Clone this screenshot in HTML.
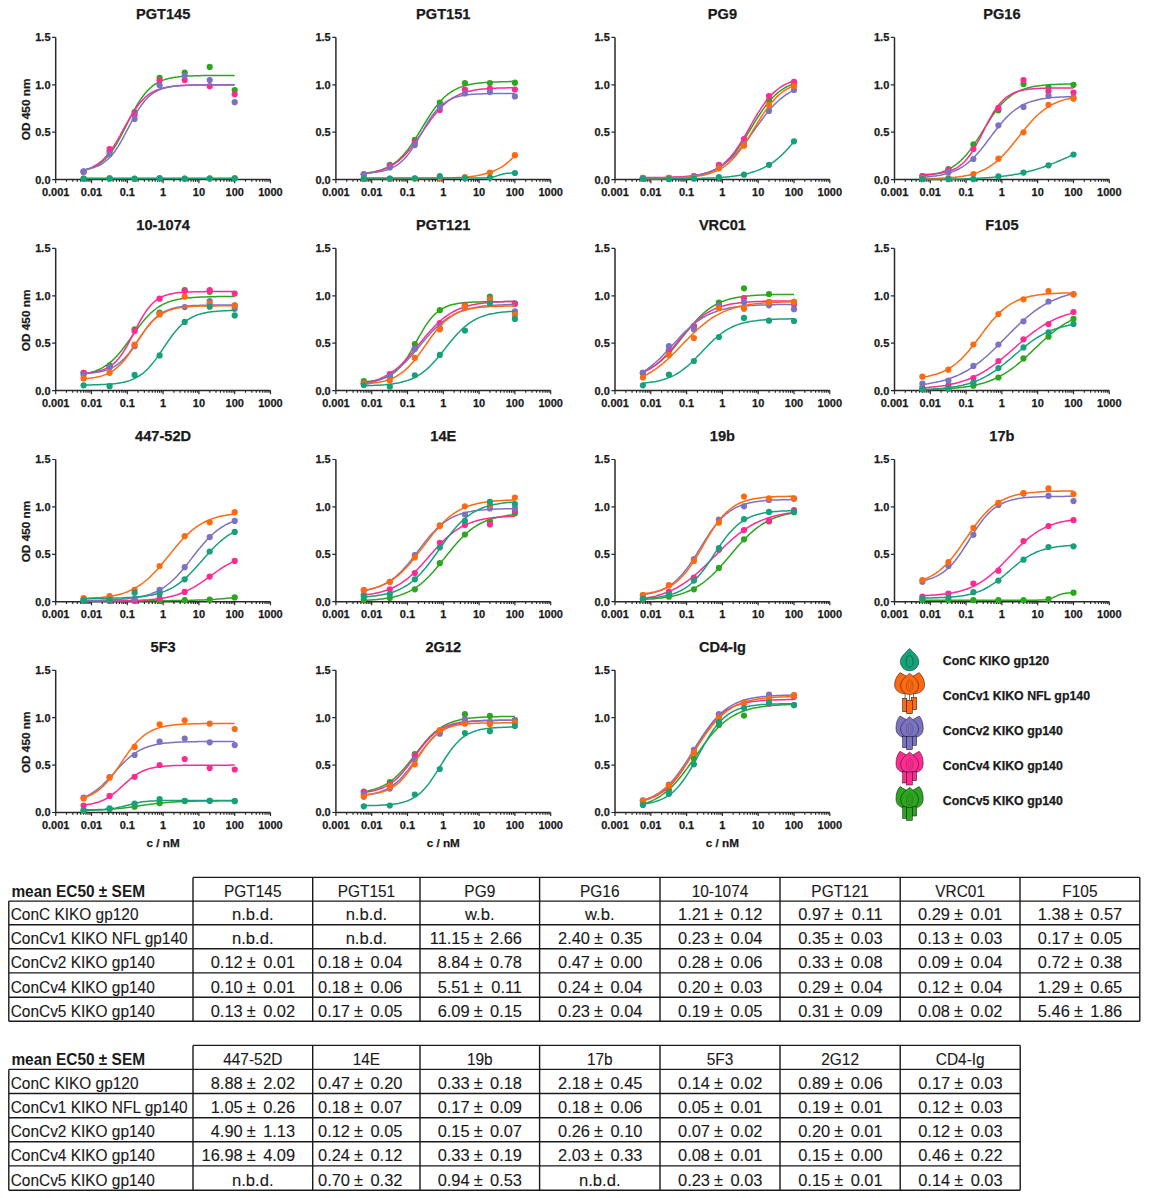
<!DOCTYPE html>
<html><head><meta charset="utf-8"><style>
html,body{margin:0;padding:0;background:#fff;}
svg{display:block;}
text{font-family:"Liberation Sans",sans-serif;fill:#1a1a1a;}
.tt{stroke:#1a1a1a;stroke-width:0.25px;font-size:14.6px;font-weight:bold;text-anchor:middle;}
.yl{stroke:#1a1a1a;stroke-width:0.25px;font-size:11px;font-weight:bold;text-anchor:end;}
.xl{stroke:#1a1a1a;stroke-width:0.25px;font-size:11px;font-weight:bold;text-anchor:middle;}
.od{stroke:#1a1a1a;stroke-width:0.25px;font-size:11.8px;font-weight:bold;text-anchor:middle;}
.cn{stroke:#1a1a1a;stroke-width:0.25px;font-size:11.7px;font-weight:bold;text-anchor:middle;}
.lg{stroke:#1a1a1a;stroke-width:0.25px;font-size:12.35px;font-weight:bold;}
.ax{fill:none;stroke:#2a2a2a;stroke-width:1.5;}
.tk{fill:none;stroke:#2a2a2a;stroke-width:1.2;}
.ln{fill:none;stroke-width:1.5;}
.tb{fill:none;stroke:#1a1a1a;stroke-width:1.4;}
.hb{font-size:16.6px;font-weight:bold;}
.tc{stroke:#1a1a1a;stroke-width:0.12px;font-size:16.6px;text-anchor:middle;}
.tl{stroke:#1a1a1a;stroke-width:0.12px;font-size:16.6px;}
.tr{stroke:#1a1a1a;stroke-width:0.12px;font-size:16.6px;text-anchor:end;}
.pm{stroke:#1a1a1a;stroke-width:0.12px;font-size:17.6px;text-anchor:middle;}
</style></head><body>
<svg width="1150" height="1198" viewBox="0 0 1150 1198">
<text x="163.1" y="19.1" class="tt">PGT145</text>
<path d="M55.7 37.4V179.6H270.5" class="ax"/>
<path d="M52.1 179.6H55.7M52.1 132.2H55.7M52.1 84.8H55.7M52.1 37.4H55.7M55.7 179.6v3.6M66.5 179.6v2.2M72.8 179.6v2.2M77.3 179.6v2.2M80.7 179.6v2.2M83.6 179.6v2.2M86.0 179.6v2.2M88.0 179.6v2.2M89.9 179.6v2.2M91.5 179.6v3.6M102.3 179.6v2.2M108.6 179.6v2.2M113.1 179.6v2.2M116.5 179.6v2.2M119.4 179.6v2.2M121.8 179.6v2.2M123.8 179.6v2.2M125.7 179.6v2.2M127.3 179.6v3.6M138.1 179.6v2.2M144.4 179.6v2.2M148.9 179.6v2.2M152.3 179.6v2.2M155.2 179.6v2.2M157.6 179.6v2.2M159.6 179.6v2.2M161.5 179.6v2.2M163.1 179.6v3.6M173.9 179.6v2.2M180.2 179.6v2.2M184.7 179.6v2.2M188.1 179.6v2.2M191.0 179.6v2.2M193.4 179.6v2.2M195.4 179.6v2.2M197.3 179.6v2.2M198.9 179.6v3.6M209.7 179.6v2.2M216.0 179.6v2.2M220.5 179.6v2.2M223.9 179.6v2.2M226.8 179.6v2.2M229.2 179.6v2.2M231.2 179.6v2.2M233.1 179.6v2.2M234.7 179.6v3.6M245.5 179.6v2.2M251.8 179.6v2.2M256.3 179.6v2.2M259.7 179.6v2.2M262.6 179.6v2.2M265.0 179.6v2.2M267.0 179.6v2.2M268.9 179.6v2.2M270.5 179.6v3.6" class="tk"/>
<text x="50.5" y="183.5" class="yl">0.0</text>
<text x="50.5" y="136.1" class="yl">0.5</text>
<text x="50.5" y="88.7" class="yl">1.0</text>
<text x="50.5" y="41.3" class="yl">1.5</text>
<text x="55.7" y="195.8" class="xl">0.001</text>
<text x="91.5" y="195.8" class="xl">0.01</text>
<text x="127.3" y="195.8" class="xl">0.1</text>
<text x="163.1" y="195.8" class="xl">1</text>
<text x="198.9" y="195.8" class="xl">10</text>
<text x="234.7" y="195.8" class="xl">100</text>
<text x="270.5" y="195.8" class="xl">1000</text>
<text transform="translate(29.7 109.4) rotate(-90)" class="od">OD 450 nm</text>
<polyline points="83.6,170.4 85.5,169.9 87.4,169.4 89.3,168.8 91.2,168.1 93.1,167.4 95.0,166.5 97.0,165.4 98.9,164.3 100.8,162.9 102.7,161.4 104.6,159.7 106.5,157.8 108.4,155.6 110.3,153.2 112.3,150.6 114.2,147.8 116.1,144.8 118.0,141.5 119.9,138.0 121.8,134.4 123.7,130.7 125.6,126.9 127.6,123.0 129.5,119.2 131.4,115.5 133.3,111.8 135.2,108.3 137.1,104.9 139.0,101.8 141.0,98.9 142.9,96.2 144.8,93.7 146.7,91.5 148.6,89.5 150.5,87.7 152.4,86.1 154.3,84.7 156.3,83.5 158.2,82.4 160.1,81.4 162.0,80.6 163.9,79.9 165.8,79.3 167.7,78.7 169.7,78.3 171.6,77.9 173.5,77.5 175.4,77.2 177.3,77.0 179.2,76.7 181.1,76.6 183.0,76.4 185.0,76.3 186.9,76.1 188.8,76.0 190.7,75.9 192.6,75.9 194.5,75.8 196.4,75.8 198.3,75.7 200.3,75.7 202.2,75.6 204.1,75.6 206.0,75.6 207.9,75.6 209.8,75.5 211.7,75.5 213.7,75.5 215.6,75.5 217.5,75.5 219.4,75.5 221.3,75.5 223.2,75.5 225.1,75.5 227.0,75.5 229.0,75.5 230.9,75.5 232.8,75.5 234.7,75.5" class="ln" stroke="#2ca51f"/>
<g fill="#2ca51f"><circle cx="83.6" cy="171.7" r="3.1"/><circle cx="109.6" cy="151.7" r="3.1"/><circle cx="134.6" cy="112.1" r="3.1"/><circle cx="159.6" cy="77.8" r="3.1"/><circle cx="184.7" cy="72.6" r="3.1"/><circle cx="209.7" cy="66.9" r="3.1"/><circle cx="234.7" cy="90.0" r="3.1"/></g>
<polyline points="83.6,170.2 85.5,169.7 87.4,169.1 89.3,168.4 91.2,167.6 93.1,166.7 95.0,165.7 97.0,164.5 98.9,163.2 100.8,161.7 102.7,160.0 104.6,158.1 106.5,156.0 108.4,153.7 110.3,151.2 112.3,148.4 114.2,145.5 116.1,142.4 118.0,139.1 119.9,135.8 121.8,132.3 123.7,128.8 125.6,125.3 127.6,121.8 129.5,118.5 131.4,115.2 133.3,112.1 135.2,109.2 137.1,106.5 139.0,104.0 141.0,101.8 142.9,99.7 144.8,97.8 146.7,96.2 148.6,94.7 150.5,93.4 152.4,92.2 154.3,91.2 156.3,90.3 158.2,89.6 160.1,88.9 162.0,88.3 163.9,87.8 165.8,87.4 167.7,87.0 169.7,86.7 171.6,86.4 173.5,86.2 175.4,86.0 177.3,85.8 179.2,85.7 181.1,85.5 183.0,85.4 185.0,85.3 186.9,85.3 188.8,85.2 190.7,85.1 192.6,85.1 194.5,85.0 196.4,85.0 198.3,85.0 200.3,84.9 202.2,84.9 204.1,84.9 206.0,84.9 207.9,84.9 209.8,84.9 211.7,84.9 213.7,84.8 215.6,84.8 217.5,84.8 219.4,84.8 221.3,84.8 223.2,84.8 225.1,84.8 227.0,84.8 229.0,84.8 230.9,84.8 232.8,84.8 234.7,84.8" class="ln" stroke="#ff2a92"/>
<g fill="#ff2a92"><circle cx="83.6" cy="171.7" r="3.1"/><circle cx="109.6" cy="149.1" r="3.1"/><circle cx="134.6" cy="114.7" r="3.1"/><circle cx="159.6" cy="80.4" r="3.1"/><circle cx="184.7" cy="80.1" r="3.1"/><circle cx="209.7" cy="86.2" r="3.1"/><circle cx="234.7" cy="94.3" r="3.1"/></g>
<polyline points="83.6,169.7 85.5,169.5 87.4,169.1 89.3,168.7 91.2,168.3 93.1,167.7 95.0,167.1 97.0,166.4 98.9,165.5 100.8,164.5 102.7,163.3 104.6,162.0 106.5,160.5 108.4,158.8 110.3,156.8 112.3,154.6 114.2,152.2 116.1,149.5 118.0,146.6 119.9,143.5 121.8,140.1 123.7,136.6 125.6,133.0 127.6,129.3 129.5,125.6 131.4,122.0 133.3,118.4 135.2,114.9 137.1,111.7 139.0,108.6 141.0,105.8 142.9,103.2 144.8,100.8 146.7,98.7 148.6,96.8 150.5,95.2 152.4,93.7 154.3,92.4 156.3,91.3 158.2,90.4 160.1,89.5 162.0,88.8 163.9,88.2 165.8,87.7 167.7,87.3 169.7,86.9 171.6,86.6 173.5,86.3 175.4,86.1 177.3,85.9 179.2,85.7 181.1,85.6 183.0,85.5 185.0,85.4 186.9,85.3 188.8,85.2 190.7,85.2 192.6,85.1 194.5,85.1 196.4,85.0 198.3,85.0 200.3,85.0 202.2,85.0 204.1,85.0 206.0,84.9 207.9,84.9 209.8,84.9 211.7,84.9 213.7,84.9 215.6,84.9 217.5,84.9 219.4,84.9 221.3,84.9 223.2,84.9 225.1,84.9 227.0,84.9 229.0,84.9 230.9,84.9 232.8,84.9 234.7,84.9" class="ln" stroke="#7b73c2"/>
<g fill="#7b73c2"><circle cx="83.6" cy="171.7" r="3.1"/><circle cx="109.6" cy="154.3" r="3.1"/><circle cx="134.6" cy="119.0" r="3.1"/><circle cx="159.6" cy="85.3" r="3.1"/><circle cx="184.7" cy="75.6" r="3.1"/><circle cx="209.7" cy="80.1" r="3.1"/><circle cx="234.7" cy="102.2" r="3.1"/></g>
<polyline points="83.6,178.3 85.5,178.3 87.4,178.3 89.3,178.3 91.2,178.3 93.1,178.3 95.0,178.3 97.0,178.3 98.9,178.3 100.8,178.3 102.7,178.3 104.6,178.3 106.5,178.3 108.4,178.3 110.3,178.3 112.3,178.3 114.2,178.3 116.1,178.3 118.0,178.3 119.9,178.3 121.8,178.3 123.7,178.3 125.6,178.3 127.6,178.3 129.5,178.3 131.4,178.3 133.3,178.3 135.2,178.3 137.1,178.3 139.0,178.3 141.0,178.3 142.9,178.3 144.8,178.3 146.7,178.3 148.6,178.3 150.5,178.3 152.4,178.3 154.3,178.3 156.3,178.3 158.2,178.3 160.1,178.3 162.0,178.3 163.9,178.3 165.8,178.3 167.7,178.3 169.7,178.3 171.6,178.3 173.5,178.3 175.4,178.3 177.3,178.3 179.2,178.3 181.1,178.3 183.0,178.3 185.0,178.3 186.9,178.3 188.8,178.3 190.7,178.3 192.6,178.3 194.5,178.3 196.4,178.3 198.3,178.3 200.3,178.3 202.2,178.3 204.1,178.3 206.0,178.3 207.9,178.3 209.8,178.3 211.7,178.3 213.7,178.3 215.6,178.3 217.5,178.3 219.4,178.3 221.3,178.3 223.2,178.3 225.1,178.3 227.0,178.3 229.0,178.3 230.9,178.3 232.8,178.3 234.7,178.3" class="ln" stroke="#ff6a10"/>
<g fill="#ff6a10"><circle cx="83.6" cy="178.5" r="3.1"/><circle cx="109.6" cy="178.0" r="3.1"/><circle cx="134.6" cy="178.9" r="3.1"/><circle cx="159.6" cy="178.2" r="3.1"/><circle cx="184.7" cy="178.7" r="3.1"/><circle cx="209.7" cy="178.3" r="3.1"/><circle cx="234.7" cy="178.0" r="3.1"/></g>
<polyline points="83.6,178.5 85.5,178.5 87.4,178.5 89.3,178.5 91.2,178.5 93.1,178.5 95.0,178.5 97.0,178.5 98.9,178.5 100.8,178.5 102.7,178.5 104.6,178.5 106.5,178.5 108.4,178.5 110.3,178.5 112.3,178.5 114.2,178.5 116.1,178.5 118.0,178.5 119.9,178.5 121.8,178.5 123.7,178.5 125.6,178.5 127.6,178.5 129.5,178.5 131.4,178.5 133.3,178.5 135.2,178.5 137.1,178.5 139.0,178.5 141.0,178.5 142.9,178.5 144.8,178.5 146.7,178.5 148.6,178.5 150.5,178.5 152.4,178.5 154.3,178.5 156.3,178.5 158.2,178.5 160.1,178.5 162.0,178.5 163.9,178.5 165.8,178.5 167.7,178.5 169.7,178.5 171.6,178.5 173.5,178.5 175.4,178.5 177.3,178.5 179.2,178.5 181.1,178.5 183.0,178.5 185.0,178.5 186.9,178.5 188.8,178.5 190.7,178.5 192.6,178.5 194.5,178.5 196.4,178.5 198.3,178.5 200.3,178.5 202.2,178.5 204.1,178.5 206.0,178.5 207.9,178.5 209.8,178.5 211.7,178.5 213.7,178.5 215.6,178.5 217.5,178.5 219.4,178.5 221.3,178.5 223.2,178.5 225.1,178.5 227.0,178.5 229.0,178.5 230.9,178.5 232.8,178.5 234.7,178.5" class="ln" stroke="#16a07c" stroke-width="2.3"/>
<g fill="#16a07c"><circle cx="83.6" cy="178.7" r="3.1"/><circle cx="109.6" cy="178.7" r="3.1"/><circle cx="134.6" cy="178.7" r="3.1"/><circle cx="159.6" cy="178.3" r="3.1"/><circle cx="184.7" cy="178.7" r="3.1"/><circle cx="209.7" cy="178.5" r="3.1"/><circle cx="234.7" cy="178.5" r="3.1"/></g>
<text x="443.3" y="19.1" class="tt">PGT151</text>
<path d="M335.9 37.4V179.6H550.7" class="ax"/>
<path d="M332.3 179.6H335.9M332.3 132.2H335.9M332.3 84.8H335.9M332.3 37.4H335.9M335.9 179.6v3.6M346.7 179.6v2.2M353.0 179.6v2.2M357.5 179.6v2.2M360.9 179.6v2.2M363.8 179.6v2.2M366.2 179.6v2.2M368.2 179.6v2.2M370.1 179.6v2.2M371.7 179.6v3.6M382.5 179.6v2.2M388.8 179.6v2.2M393.3 179.6v2.2M396.7 179.6v2.2M399.6 179.6v2.2M402.0 179.6v2.2M404.0 179.6v2.2M405.9 179.6v2.2M407.5 179.6v3.6M418.3 179.6v2.2M424.6 179.6v2.2M429.1 179.6v2.2M432.5 179.6v2.2M435.4 179.6v2.2M437.8 179.6v2.2M439.8 179.6v2.2M441.7 179.6v2.2M443.3 179.6v3.6M454.1 179.6v2.2M460.4 179.6v2.2M464.9 179.6v2.2M468.3 179.6v2.2M471.2 179.6v2.2M473.6 179.6v2.2M475.6 179.6v2.2M477.5 179.6v2.2M479.1 179.6v3.6M489.9 179.6v2.2M496.2 179.6v2.2M500.7 179.6v2.2M504.1 179.6v2.2M507.0 179.6v2.2M509.4 179.6v2.2M511.4 179.6v2.2M513.3 179.6v2.2M514.9 179.6v3.6M525.7 179.6v2.2M532.0 179.6v2.2M536.5 179.6v2.2M539.9 179.6v2.2M542.8 179.6v2.2M545.2 179.6v2.2M547.2 179.6v2.2M549.1 179.6v2.2M550.7 179.6v3.6" class="tk"/>
<text x="330.7" y="183.5" class="yl">0.0</text>
<text x="330.7" y="136.1" class="yl">0.5</text>
<text x="330.7" y="88.7" class="yl">1.0</text>
<text x="330.7" y="41.3" class="yl">1.5</text>
<text x="335.9" y="195.8" class="xl">0.001</text>
<text x="371.7" y="195.8" class="xl">0.01</text>
<text x="407.5" y="195.8" class="xl">0.1</text>
<text x="443.3" y="195.8" class="xl">1</text>
<text x="479.1" y="195.8" class="xl">10</text>
<text x="514.9" y="195.8" class="xl">100</text>
<text x="550.7" y="195.8" class="xl">1000</text>
<polyline points="363.8,173.4 365.7,173.2 367.6,172.9 369.5,172.6 371.4,172.3 373.3,172.0 375.2,171.6 377.2,171.1 379.1,170.6 381.0,170.0 382.9,169.3 384.8,168.5 386.7,167.7 388.6,166.7 390.5,165.7 392.5,164.5 394.4,163.2 396.3,161.7 398.2,160.1 400.1,158.3 402.0,156.4 403.9,154.3 405.8,152.1 407.8,149.7 409.7,147.1 411.6,144.4 413.5,141.6 415.4,138.6 417.3,135.6 419.2,132.5 421.2,129.3 423.1,126.2 425.0,123.0 426.9,120.0 428.8,116.9 430.7,114.0 432.6,111.2 434.5,108.5 436.5,106.0 438.4,103.7 440.3,101.4 442.2,99.4 444.1,97.5 446.0,95.8 447.9,94.2 449.9,92.8 451.8,91.5 453.7,90.4 455.6,89.4 457.5,88.4 459.4,87.6 461.3,86.9 463.2,86.2 465.2,85.6 467.1,85.1 469.0,84.7 470.9,84.3 472.8,83.9 474.7,83.6 476.6,83.4 478.5,83.1 480.5,82.9 482.4,82.7 484.3,82.6 486.2,82.4 488.1,82.3 490.0,82.2 491.9,82.1 493.9,82.0 495.8,81.9 497.7,81.9 499.6,81.8 501.5,81.8 503.4,81.7 505.3,81.7 507.2,81.7 509.2,81.6 511.1,81.6 513.0,81.6 514.9,81.6" class="ln" stroke="#2ca51f"/>
<g fill="#2ca51f"><circle cx="363.8" cy="174.3" r="3.1"/><circle cx="389.8" cy="164.8" r="3.1"/><circle cx="414.8" cy="139.9" r="3.1"/><circle cx="439.8" cy="102.7" r="3.1"/><circle cx="464.9" cy="83.0" r="3.1"/><circle cx="489.9" cy="83.0" r="3.1"/><circle cx="514.9" cy="82.7" r="3.1"/></g>
<polyline points="363.8,173.6 365.7,173.4 367.6,173.1 369.5,172.9 371.4,172.5 373.3,172.2 375.2,171.8 377.2,171.3 379.1,170.8 381.0,170.2 382.9,169.6 384.8,168.9 386.7,168.1 388.6,167.2 390.5,166.2 392.5,165.1 394.4,163.9 396.3,162.5 398.2,161.1 400.1,159.5 402.0,157.7 403.9,155.9 405.8,153.9 407.8,151.7 409.7,149.5 411.6,147.1 413.5,144.6 415.4,141.9 417.3,139.3 419.2,136.5 421.2,133.7 423.1,130.9 425.0,128.1 426.9,125.3 428.8,122.6 430.7,119.9 432.6,117.4 434.5,114.9 436.5,112.5 438.4,110.3 440.3,108.2 442.2,106.2 444.1,104.4 446.0,102.7 447.9,101.2 449.9,99.8 451.8,98.5 453.7,97.3 455.6,96.3 457.5,95.3 459.4,94.4 461.3,93.7 463.2,93.0 465.2,92.3 467.1,91.8 469.0,91.3 470.9,90.9 472.8,90.5 474.7,90.1 476.6,89.8 478.5,89.5 480.5,89.3 482.4,89.1 484.3,88.9 486.2,88.7 488.1,88.6 490.0,88.5 491.9,88.4 493.9,88.3 495.8,88.2 497.7,88.1 499.6,88.0 501.5,88.0 503.4,87.9 505.3,87.9 507.2,87.8 509.2,87.8 511.1,87.7 513.0,87.7 514.9,87.7" class="ln" stroke="#ff2a92"/>
<g fill="#ff2a92"><circle cx="363.8" cy="174.3" r="3.1"/><circle cx="389.8" cy="165.7" r="3.1"/><circle cx="414.8" cy="142.7" r="3.1"/><circle cx="439.8" cy="110.0" r="3.1"/><circle cx="464.9" cy="89.5" r="3.1"/><circle cx="489.9" cy="88.6" r="3.1"/><circle cx="514.9" cy="89.5" r="3.1"/></g>
<polyline points="363.8,173.2 365.7,173.1 367.6,173.0 369.5,172.9 371.4,172.7 373.3,172.5 375.2,172.3 377.2,172.0 379.1,171.8 381.0,171.4 382.9,171.0 384.8,170.5 386.7,170.0 388.6,169.3 390.5,168.6 392.5,167.7 394.4,166.7 396.3,165.6 398.2,164.3 400.1,162.8 402.0,161.1 403.9,159.2 405.8,157.2 407.8,154.9 409.7,152.4 411.6,149.6 413.5,146.8 415.4,143.7 417.3,140.5 419.2,137.2 421.2,133.9 423.1,130.5 425.0,127.2 426.9,124.0 428.8,120.9 430.7,118.0 432.6,115.3 434.5,112.7 436.5,110.4 438.4,108.3 440.3,106.3 442.2,104.6 444.1,103.1 446.0,101.8 447.9,100.6 449.9,99.6 451.8,98.7 453.7,97.9 455.6,97.3 457.5,96.7 459.4,96.2 461.3,95.8 463.2,95.4 465.2,95.1 467.1,94.9 469.0,94.6 470.9,94.5 472.8,94.3 474.7,94.2 476.6,94.0 478.5,93.9 480.5,93.9 482.4,93.8 484.3,93.7 486.2,93.7 488.1,93.6 490.0,93.6 491.9,93.6 493.9,93.5 495.8,93.5 497.7,93.5 499.6,93.5 501.5,93.5 503.4,93.5 505.3,93.4 507.2,93.4 509.2,93.4 511.1,93.4 513.0,93.4 514.9,93.4" class="ln" stroke="#7b73c2"/>
<g fill="#7b73c2"><circle cx="363.8" cy="174.3" r="3.1"/><circle cx="389.8" cy="167.4" r="3.1"/><circle cx="414.8" cy="145.1" r="3.1"/><circle cx="439.8" cy="106.9" r="3.1"/><circle cx="464.9" cy="93.5" r="3.1"/><circle cx="489.9" cy="92.1" r="3.1"/><circle cx="514.9" cy="96.4" r="3.1"/></g>
<polyline points="363.8,178.6 365.7,178.6 367.6,178.6 369.5,178.6 371.4,178.6 373.3,178.6 375.2,178.6 377.2,178.6 379.1,178.6 381.0,178.6 382.9,178.6 384.8,178.6 386.7,178.6 388.6,178.6 390.5,178.6 392.5,178.6 394.4,178.6 396.3,178.6 398.2,178.6 400.1,178.6 402.0,178.5 403.9,178.5 405.8,178.5 407.8,178.5 409.7,178.5 411.6,178.5 413.5,178.5 415.4,178.5 417.3,178.5 419.2,178.5 421.2,178.5 423.1,178.5 425.0,178.4 426.9,178.4 428.8,178.4 430.7,178.4 432.6,178.3 434.5,178.3 436.5,178.3 438.4,178.3 440.3,178.2 442.2,178.2 444.1,178.1 446.0,178.1 447.9,178.0 449.9,177.9 451.8,177.9 453.7,177.8 455.6,177.7 457.5,177.6 459.4,177.5 461.3,177.4 463.2,177.2 465.2,177.1 467.1,176.9 469.0,176.7 470.9,176.5 472.8,176.2 474.7,176.0 476.6,175.7 478.5,175.3 480.5,175.0 482.4,174.6 484.3,174.1 486.2,173.6 488.1,173.1 490.0,172.4 491.9,171.7 493.9,171.0 495.8,170.1 497.7,169.2 499.6,168.2 501.5,167.1 503.4,165.8 505.3,164.4 507.2,162.9 509.2,161.2 511.1,159.4 513.0,157.4 514.9,155.2" class="ln" stroke="#ff6a10"/>
<g fill="#ff6a10"><circle cx="363.8" cy="178.7" r="3.1"/><circle cx="389.8" cy="178.7" r="3.1"/><circle cx="414.8" cy="178.7" r="3.1"/><circle cx="439.8" cy="177.8" r="3.1"/><circle cx="464.9" cy="177.0" r="3.1"/><circle cx="489.9" cy="172.6" r="3.1"/><circle cx="514.9" cy="155.2" r="3.1"/></g>
<polyline points="363.8,178.0 365.7,178.0 367.6,178.0 369.5,178.0 371.4,178.0 373.3,178.0 375.2,178.0 377.2,178.0 379.1,178.0 381.0,178.0 382.9,178.0 384.8,178.0 386.7,178.0 388.6,178.0 390.5,178.0 392.5,178.0 394.4,178.0 396.3,178.0 398.2,178.0 400.1,178.0 402.0,178.0 403.9,178.0 405.8,178.0 407.8,178.0 409.7,178.0 411.6,178.0 413.5,178.0 415.4,178.0 417.3,178.0 419.2,178.0 421.2,178.0 423.1,178.0 425.0,178.0 426.9,178.0 428.8,178.0 430.7,178.0 432.6,178.0 434.5,178.0 436.5,178.0 438.4,178.0 440.3,178.0 442.2,178.0 444.1,178.0 446.0,178.0 447.9,178.0 449.9,178.0 451.8,178.0 453.7,178.0 455.6,178.0 457.5,178.0 459.4,178.0 461.3,178.0 463.2,178.0 465.2,178.0 467.1,178.0 469.0,178.0 470.9,178.0 472.8,178.0 474.7,178.0 476.6,178.0 478.5,178.0 480.5,178.0 482.4,177.9 484.3,177.9 486.2,177.8 488.1,177.7 490.0,177.5 491.9,177.2 493.9,176.7 495.8,176.2 497.7,175.6 499.6,175.0 501.5,174.4 503.4,173.9 505.3,173.6 507.2,173.3 509.2,173.2 511.1,173.1 513.0,173.0 514.9,173.0" class="ln" stroke="#16a07c"/>
<g fill="#16a07c"><circle cx="363.8" cy="178.7" r="3.1"/><circle cx="389.8" cy="178.7" r="3.1"/><circle cx="414.8" cy="178.3" r="3.1"/><circle cx="439.8" cy="176.1" r="3.1"/><circle cx="464.9" cy="178.3" r="3.1"/><circle cx="489.9" cy="177.5" r="3.1"/><circle cx="514.9" cy="173.0" r="3.1"/></g>
<text x="722.4" y="19.1" class="tt">PG9</text>
<path d="M615.0 37.4V179.6H829.8" class="ax"/>
<path d="M611.4 179.6H615.0M611.4 132.2H615.0M611.4 84.8H615.0M611.4 37.4H615.0M615.0 179.6v3.6M625.8 179.6v2.2M632.1 179.6v2.2M636.6 179.6v2.2M640.0 179.6v2.2M642.9 179.6v2.2M645.3 179.6v2.2M647.3 179.6v2.2M649.2 179.6v2.2M650.8 179.6v3.6M661.6 179.6v2.2M667.9 179.6v2.2M672.4 179.6v2.2M675.8 179.6v2.2M678.7 179.6v2.2M681.1 179.6v2.2M683.1 179.6v2.2M685.0 179.6v2.2M686.6 179.6v3.6M697.4 179.6v2.2M703.7 179.6v2.2M708.2 179.6v2.2M711.6 179.6v2.2M714.5 179.6v2.2M716.9 179.6v2.2M718.9 179.6v2.2M720.8 179.6v2.2M722.4 179.6v3.6M733.2 179.6v2.2M739.5 179.6v2.2M744.0 179.6v2.2M747.4 179.6v2.2M750.3 179.6v2.2M752.7 179.6v2.2M754.7 179.6v2.2M756.6 179.6v2.2M758.2 179.6v3.6M769.0 179.6v2.2M775.3 179.6v2.2M779.8 179.6v2.2M783.2 179.6v2.2M786.1 179.6v2.2M788.5 179.6v2.2M790.5 179.6v2.2M792.4 179.6v2.2M794.0 179.6v3.6M804.8 179.6v2.2M811.1 179.6v2.2M815.6 179.6v2.2M819.0 179.6v2.2M821.9 179.6v2.2M824.3 179.6v2.2M826.3 179.6v2.2M828.2 179.6v2.2M829.8 179.6v3.6" class="tk"/>
<text x="609.8" y="183.5" class="yl">0.0</text>
<text x="609.8" y="136.1" class="yl">0.5</text>
<text x="609.8" y="88.7" class="yl">1.0</text>
<text x="609.8" y="41.3" class="yl">1.5</text>
<text x="615.0" y="195.8" class="xl">0.001</text>
<text x="650.8" y="195.8" class="xl">0.01</text>
<text x="686.6" y="195.8" class="xl">0.1</text>
<text x="722.4" y="195.8" class="xl">1</text>
<text x="758.2" y="195.8" class="xl">10</text>
<text x="794.0" y="195.8" class="xl">100</text>
<text x="829.8" y="195.8" class="xl">1000</text>
<polyline points="642.9,177.9 644.8,177.9 646.7,177.9 648.6,177.9 650.5,177.9 652.4,177.9 654.3,177.8 656.3,177.8 658.2,177.8 660.1,177.8 662.0,177.7 663.9,177.7 665.8,177.7 667.7,177.6 669.6,177.6 671.6,177.5 673.5,177.4 675.4,177.4 677.3,177.3 679.2,177.2 681.1,177.1 683.0,176.9 684.9,176.8 686.9,176.6 688.8,176.5 690.7,176.3 692.6,176.0 694.5,175.8 696.4,175.5 698.3,175.1 700.3,174.8 702.2,174.3 704.1,173.8 706.0,173.3 707.9,172.7 709.8,172.0 711.7,171.3 713.6,170.4 715.6,169.5 717.5,168.4 719.4,167.3 721.3,166.0 723.2,164.6 725.1,163.0 727.0,161.3 729.0,159.5 730.9,157.5 732.8,155.3 734.7,153.0 736.6,150.6 738.5,147.9 740.4,145.2 742.3,142.3 744.3,139.4 746.2,136.3 748.1,133.2 750.0,130.0 751.9,126.9 753.8,123.7 755.7,120.6 757.6,117.5 759.6,114.5 761.5,111.6 763.4,108.9 765.3,106.2 767.2,103.7 769.1,101.4 771.0,99.2 773.0,97.2 774.9,95.3 776.8,93.6 778.7,92.0 780.6,90.6 782.5,89.3 784.4,88.1 786.3,87.0 788.3,86.1 790.2,85.2 792.1,84.4 794.0,83.7" class="ln" stroke="#2ca51f"/>
<g fill="#2ca51f"><circle cx="642.9" cy="178.2" r="3.1"/><circle cx="668.9" cy="177.8" r="3.1"/><circle cx="693.9" cy="176.4" r="3.1"/><circle cx="718.9" cy="165.7" r="3.1"/><circle cx="744.0" cy="141.3" r="3.1"/><circle cx="769.0" cy="100.4" r="3.1"/><circle cx="794.0" cy="84.3" r="3.1"/></g>
<polyline points="642.9,177.5 644.8,177.5 646.7,177.5 648.6,177.5 650.5,177.5 652.4,177.5 654.3,177.5 656.3,177.5 658.2,177.4 660.1,177.4 662.0,177.4 663.9,177.4 665.8,177.3 667.7,177.3 669.6,177.2 671.6,177.2 673.5,177.1 675.4,177.0 677.3,177.0 679.2,176.9 681.1,176.8 683.0,176.7 684.9,176.5 686.9,176.4 688.8,176.2 690.7,176.0 692.6,175.8 694.5,175.5 696.4,175.2 698.3,174.9 700.3,174.5 702.2,174.1 704.1,173.6 706.0,173.1 707.9,172.5 709.8,171.8 711.7,171.0 713.6,170.1 715.6,169.2 717.5,168.1 719.4,166.9 721.3,165.5 723.2,164.0 725.1,162.4 727.0,160.5 729.0,158.6 730.9,156.4 732.8,154.1 734.7,151.6 736.6,149.0 738.5,146.1 740.4,143.2 742.3,140.1 744.3,136.9 746.2,133.6 748.1,130.3 750.0,126.9 751.9,123.5 753.8,120.2 755.7,116.9 757.6,113.7 759.6,110.7 761.5,107.7 763.4,104.9 765.3,102.3 767.2,99.8 769.1,97.5 771.0,95.4 773.0,93.4 774.9,91.6 776.8,90.0 778.7,88.5 780.6,87.2 782.5,86.0 784.4,84.9 786.3,83.9 788.3,83.1 790.2,82.3 792.1,81.6 794.0,81.0" class="ln" stroke="#ff2a92"/>
<g fill="#ff2a92"><circle cx="642.9" cy="177.8" r="3.1"/><circle cx="668.9" cy="177.8" r="3.1"/><circle cx="693.9" cy="176.1" r="3.1"/><circle cx="718.9" cy="164.8" r="3.1"/><circle cx="744.0" cy="139.2" r="3.1"/><circle cx="769.0" cy="96.1" r="3.1"/><circle cx="794.0" cy="81.8" r="3.1"/></g>
<polyline points="642.9,178.8 644.8,178.8 646.7,178.8 648.6,178.8 650.5,178.7 652.4,178.7 654.3,178.7 656.3,178.6 658.2,178.6 660.1,178.5 662.0,178.5 663.9,178.4 665.8,178.4 667.7,178.3 669.6,178.2 671.6,178.1 673.5,178.0 675.4,177.9 677.3,177.8 679.2,177.7 681.1,177.5 683.0,177.3 684.9,177.2 686.9,177.0 688.8,176.7 690.7,176.5 692.6,176.2 694.5,175.9 696.4,175.5 698.3,175.1 700.3,174.7 702.2,174.3 704.1,173.7 706.0,173.2 707.9,172.5 709.8,171.9 711.7,171.1 713.6,170.3 715.6,169.4 717.5,168.4 719.4,167.3 721.3,166.1 723.2,164.8 725.1,163.5 727.0,162.0 729.0,160.4 730.9,158.7 732.8,156.9 734.7,155.0 736.6,152.9 738.5,150.8 740.4,148.5 742.3,146.2 744.3,143.8 746.2,141.3 748.1,138.7 750.0,136.1 751.9,133.4 753.8,130.7 755.7,128.1 757.6,125.4 759.6,122.8 761.5,120.2 763.4,117.6 765.3,115.1 767.2,112.7 769.1,110.4 771.0,108.2 773.0,106.1 774.9,104.1 776.8,102.2 778.7,100.5 780.6,98.8 782.5,97.3 784.4,95.8 786.3,94.5 788.3,93.3 790.2,92.1 792.1,91.1 794.0,90.1" class="ln" stroke="#7b73c2"/>
<g fill="#7b73c2"><circle cx="642.9" cy="178.2" r="3.1"/><circle cx="668.9" cy="178.2" r="3.1"/><circle cx="693.9" cy="177.0" r="3.1"/><circle cx="718.9" cy="167.4" r="3.1"/><circle cx="744.0" cy="143.9" r="3.1"/><circle cx="769.0" cy="110.9" r="3.1"/><circle cx="794.0" cy="90.0" r="3.1"/></g>
<polyline points="642.9,178.3 644.8,178.3 646.7,178.3 648.6,178.3 650.5,178.3 652.4,178.2 654.3,178.2 656.3,178.2 658.2,178.2 660.1,178.2 662.0,178.1 663.9,178.1 665.8,178.1 667.7,178.0 669.6,178.0 671.6,178.0 673.5,177.9 675.4,177.8 677.3,177.8 679.2,177.7 681.1,177.6 683.0,177.5 684.9,177.4 686.9,177.3 688.8,177.1 690.7,177.0 692.6,176.8 694.5,176.6 696.4,176.3 698.3,176.0 700.3,175.7 702.2,175.4 704.1,175.0 706.0,174.5 707.9,174.0 709.8,173.5 711.7,172.8 713.6,172.1 715.6,171.3 717.5,170.5 719.4,169.5 721.3,168.4 723.2,167.2 725.1,165.8 727.0,164.3 729.0,162.7 730.9,161.0 732.8,159.0 734.7,157.0 736.6,154.7 738.5,152.3 740.4,149.8 742.3,147.1 744.3,144.3 746.2,141.4 748.1,138.4 750.0,135.3 751.9,132.1 753.8,128.9 755.7,125.8 757.6,122.6 759.6,119.5 761.5,116.5 763.4,113.6 765.3,110.8 767.2,108.1 769.1,105.5 771.0,103.1 773.0,100.9 774.9,98.8 776.8,96.9 778.7,95.1 780.6,93.5 782.5,92.0 784.4,90.7 786.3,89.5 788.3,88.4 790.2,87.4 792.1,86.5 794.0,85.7" class="ln" stroke="#ff6a10"/>
<g fill="#ff6a10"><circle cx="642.9" cy="178.2" r="3.1"/><circle cx="668.9" cy="178.2" r="3.1"/><circle cx="693.9" cy="177.5" r="3.1"/><circle cx="718.9" cy="168.3" r="3.1"/><circle cx="744.0" cy="145.7" r="3.1"/><circle cx="769.0" cy="105.1" r="3.1"/><circle cx="794.0" cy="86.0" r="3.1"/></g>
<polyline points="642.9,178.9 644.8,178.9 646.7,178.9 648.6,178.9 650.5,178.9 652.4,178.9 654.3,178.9 656.3,178.9 658.2,178.9 660.1,178.9 662.0,178.9 663.9,178.9 665.8,178.8 667.7,178.8 669.6,178.8 671.6,178.8 673.5,178.8 675.4,178.8 677.3,178.8 679.2,178.7 681.1,178.7 683.0,178.7 684.9,178.7 686.9,178.7 688.8,178.6 690.7,178.6 692.6,178.6 694.5,178.5 696.4,178.5 698.3,178.4 700.3,178.4 702.2,178.3 704.1,178.3 706.0,178.2 707.9,178.1 709.8,178.0 711.7,178.0 713.6,177.9 715.6,177.8 717.5,177.6 719.4,177.5 721.3,177.4 723.2,177.2 725.1,177.1 727.0,176.9 729.0,176.7 730.9,176.5 732.8,176.2 734.7,176.0 736.6,175.7 738.5,175.4 740.4,175.1 742.3,174.7 744.3,174.3 746.2,173.9 748.1,173.4 750.0,172.9 751.9,172.3 753.8,171.7 755.7,171.1 757.6,170.4 759.6,169.6 761.5,168.8 763.4,167.9 765.3,166.9 767.2,165.9 769.1,164.8 771.0,163.6 773.0,162.3 774.9,160.9 776.8,159.4 778.7,157.8 780.6,156.1 782.5,154.3 784.4,152.4 786.3,150.4 788.3,148.3 790.2,146.1 792.1,143.7 794.0,141.3" class="ln" stroke="#16a07c"/>
<g fill="#16a07c"><circle cx="642.9" cy="178.7" r="3.1"/><circle cx="668.9" cy="179.2" r="3.1"/><circle cx="693.9" cy="178.7" r="3.1"/><circle cx="718.9" cy="177.0" r="3.1"/><circle cx="744.0" cy="174.7" r="3.1"/><circle cx="769.0" cy="164.8" r="3.1"/><circle cx="794.0" cy="141.3" r="3.1"/></g>
<text x="1001.9" y="19.1" class="tt">PG16</text>
<path d="M894.5 37.4V179.6H1109.3" class="ax"/>
<path d="M890.9 179.6H894.5M890.9 132.2H894.5M890.9 84.8H894.5M890.9 37.4H894.5M894.5 179.6v3.6M905.3 179.6v2.2M911.6 179.6v2.2M916.1 179.6v2.2M919.5 179.6v2.2M922.4 179.6v2.2M924.8 179.6v2.2M926.8 179.6v2.2M928.7 179.6v2.2M930.3 179.6v3.6M941.1 179.6v2.2M947.4 179.6v2.2M951.9 179.6v2.2M955.3 179.6v2.2M958.2 179.6v2.2M960.6 179.6v2.2M962.6 179.6v2.2M964.5 179.6v2.2M966.1 179.6v3.6M976.9 179.6v2.2M983.2 179.6v2.2M987.7 179.6v2.2M991.1 179.6v2.2M994.0 179.6v2.2M996.4 179.6v2.2M998.4 179.6v2.2M1000.3 179.6v2.2M1001.9 179.6v3.6M1012.7 179.6v2.2M1019.0 179.6v2.2M1023.5 179.6v2.2M1026.9 179.6v2.2M1029.8 179.6v2.2M1032.2 179.6v2.2M1034.2 179.6v2.2M1036.1 179.6v2.2M1037.7 179.6v3.6M1048.5 179.6v2.2M1054.8 179.6v2.2M1059.3 179.6v2.2M1062.7 179.6v2.2M1065.6 179.6v2.2M1068.0 179.6v2.2M1070.0 179.6v2.2M1071.9 179.6v2.2M1073.5 179.6v3.6M1084.3 179.6v2.2M1090.6 179.6v2.2M1095.1 179.6v2.2M1098.5 179.6v2.2M1101.4 179.6v2.2M1103.8 179.6v2.2M1105.8 179.6v2.2M1107.7 179.6v2.2M1109.3 179.6v3.6" class="tk"/>
<text x="889.3" y="183.5" class="yl">0.0</text>
<text x="889.3" y="136.1" class="yl">0.5</text>
<text x="889.3" y="88.7" class="yl">1.0</text>
<text x="889.3" y="41.3" class="yl">1.5</text>
<text x="894.5" y="195.8" class="xl">0.001</text>
<text x="930.3" y="195.8" class="xl">0.01</text>
<text x="966.1" y="195.8" class="xl">0.1</text>
<text x="1001.9" y="195.8" class="xl">1</text>
<text x="1037.7" y="195.8" class="xl">10</text>
<text x="1073.5" y="195.8" class="xl">100</text>
<text x="1109.3" y="195.8" class="xl">1000</text>
<polyline points="922.4,175.7 924.3,175.5 926.2,175.3 928.1,175.0 930.0,174.7 931.9,174.4 933.8,174.0 935.8,173.6 937.7,173.2 939.6,172.7 941.5,172.1 943.4,171.4 945.3,170.7 947.2,169.8 949.1,168.9 951.1,167.8 953.0,166.7 954.9,165.4 956.8,164.0 958.7,162.4 960.6,160.7 962.5,158.9 964.4,156.9 966.4,154.7 968.3,152.4 970.2,149.9 972.1,147.3 974.0,144.6 975.9,141.7 977.8,138.8 979.8,135.8 981.7,132.7 983.6,129.6 985.5,126.6 987.4,123.5 989.3,120.5 991.2,117.6 993.1,114.8 995.1,112.2 997.0,109.6 998.9,107.2 1000.8,105.0 1002.7,102.9 1004.6,101.0 1006.5,99.2 1008.5,97.6 1010.4,96.1 1012.3,94.7 1014.2,93.5 1016.1,92.4 1018.0,91.5 1019.9,90.6 1021.8,89.8 1023.8,89.1 1025.7,88.5 1027.6,87.9 1029.5,87.4 1031.4,87.0 1033.3,86.6 1035.2,86.3 1037.1,86.0 1039.1,85.7 1041.0,85.5 1042.9,85.2 1044.8,85.1 1046.7,84.9 1048.6,84.8 1050.5,84.6 1052.5,84.5 1054.4,84.4 1056.3,84.4 1058.2,84.3 1060.1,84.2 1062.0,84.2 1063.9,84.1 1065.8,84.1 1067.8,84.0 1069.7,84.0 1071.6,84.0 1073.5,83.9" class="ln" stroke="#2ca51f"/>
<g fill="#2ca51f"><circle cx="922.4" cy="176.1" r="3.1"/><circle cx="948.4" cy="169.1" r="3.1"/><circle cx="973.4" cy="144.4" r="3.1"/><circle cx="998.4" cy="110.3" r="3.1"/><circle cx="1023.5" cy="83.9" r="3.1"/><circle cx="1048.5" cy="87.4" r="3.1"/><circle cx="1073.5" cy="84.8" r="3.1"/></g>
<polyline points="922.4,174.5 924.3,174.5 926.2,174.4 928.1,174.3 930.0,174.2 931.9,174.1 933.8,173.9 935.8,173.8 937.7,173.5 939.6,173.3 941.5,173.0 943.4,172.6 945.3,172.2 947.2,171.8 949.1,171.2 951.1,170.5 953.0,169.7 954.9,168.8 956.8,167.8 958.7,166.5 960.6,165.1 962.5,163.5 964.4,161.7 966.4,159.6 968.3,157.3 970.2,154.7 972.1,151.8 974.0,148.8 975.9,145.5 977.8,142.0 979.8,138.4 981.7,134.6 983.6,130.8 985.5,127.0 987.4,123.3 989.3,119.7 991.2,116.3 993.1,113.0 995.1,110.0 997.0,107.3 998.9,104.8 1000.8,102.5 1002.7,100.5 1004.6,98.7 1006.5,97.2 1008.5,95.8 1010.4,94.6 1012.3,93.6 1014.2,92.8 1016.1,92.0 1018.0,91.4 1019.9,90.8 1021.8,90.4 1023.8,90.0 1025.7,89.6 1027.6,89.4 1029.5,89.1 1031.4,88.9 1033.3,88.7 1035.2,88.6 1037.1,88.5 1039.1,88.4 1041.0,88.3 1042.9,88.2 1044.8,88.2 1046.7,88.1 1048.6,88.1 1050.5,88.0 1052.5,88.0 1054.4,88.0 1056.3,88.0 1058.2,87.9 1060.1,87.9 1062.0,87.9 1063.9,87.9 1065.8,87.9 1067.8,87.9 1069.7,87.9 1071.6,87.9 1073.5,87.9" class="ln" stroke="#ff2a92"/>
<g fill="#ff2a92"><circle cx="922.4" cy="176.1" r="3.1"/><circle cx="948.4" cy="170.0" r="3.1"/><circle cx="973.4" cy="149.1" r="3.1"/><circle cx="998.4" cy="107.9" r="3.1"/><circle cx="1023.5" cy="80.1" r="3.1"/><circle cx="1048.5" cy="91.2" r="3.1"/><circle cx="1073.5" cy="92.6" r="3.1"/></g>
<polyline points="922.4,177.1 924.3,177.0 926.2,176.9 928.1,176.7 930.0,176.5 931.9,176.3 933.8,176.1 935.8,175.9 937.7,175.6 939.6,175.3 941.5,174.9 943.4,174.5 945.3,174.0 947.2,173.5 949.1,173.0 951.1,172.3 953.0,171.6 954.9,170.8 956.8,170.0 958.7,169.0 960.6,167.9 962.5,166.8 964.4,165.5 966.4,164.1 968.3,162.6 970.2,160.9 972.1,159.2 974.0,157.3 975.9,155.3 977.8,153.2 979.8,151.0 981.7,148.6 983.6,146.2 985.5,143.8 987.4,141.2 989.3,138.7 991.2,136.1 993.1,133.5 995.1,131.0 997.0,128.5 998.9,126.1 1000.8,123.8 1002.7,121.5 1004.6,119.4 1006.5,117.4 1008.5,115.5 1010.4,113.7 1012.3,112.0 1014.2,110.5 1016.1,109.1 1018.0,107.8 1019.9,106.6 1021.8,105.5 1023.8,104.5 1025.7,103.6 1027.6,102.8 1029.5,102.1 1031.4,101.5 1033.3,100.9 1035.2,100.4 1037.1,99.9 1039.1,99.5 1041.0,99.1 1042.9,98.8 1044.8,98.5 1046.7,98.2 1048.6,98.0 1050.5,97.8 1052.5,97.6 1054.4,97.5 1056.3,97.3 1058.2,97.2 1060.1,97.1 1062.0,97.0 1063.9,96.9 1065.8,96.8 1067.8,96.8 1069.7,96.7 1071.6,96.6 1073.5,96.6" class="ln" stroke="#7b73c2"/>
<g fill="#7b73c2"><circle cx="922.4" cy="177.5" r="3.1"/><circle cx="948.4" cy="172.3" r="3.1"/><circle cx="973.4" cy="159.0" r="3.1"/><circle cx="998.4" cy="125.3" r="3.1"/><circle cx="1023.5" cy="106.9" r="3.1"/><circle cx="1048.5" cy="95.7" r="3.1"/><circle cx="1073.5" cy="97.5" r="3.1"/></g>
<polyline points="922.4,178.8 924.3,178.7 926.2,178.7 928.1,178.7 930.0,178.6 931.9,178.6 933.8,178.5 935.8,178.5 937.7,178.4 939.6,178.3 941.5,178.2 943.4,178.1 945.3,178.0 947.2,177.9 949.1,177.8 951.1,177.6 953.0,177.4 954.9,177.3 956.8,177.0 958.7,176.8 960.6,176.5 962.5,176.3 964.4,175.9 966.4,175.6 968.3,175.2 970.2,174.7 972.1,174.2 974.0,173.7 975.9,173.1 977.8,172.4 979.8,171.6 981.7,170.8 983.6,169.9 985.5,169.0 987.4,167.9 989.3,166.7 991.2,165.5 993.1,164.1 995.1,162.6 997.0,161.1 998.9,159.4 1000.8,157.6 1002.7,155.7 1004.6,153.7 1006.5,151.6 1008.5,149.4 1010.4,147.1 1012.3,144.8 1014.2,142.5 1016.1,140.0 1018.0,137.6 1019.9,135.2 1021.8,132.8 1023.8,130.4 1025.7,128.0 1027.6,125.7 1029.5,123.5 1031.4,121.4 1033.3,119.3 1035.2,117.3 1037.1,115.5 1039.1,113.7 1041.0,112.1 1042.9,110.5 1044.8,109.1 1046.7,107.8 1048.6,106.6 1050.5,105.4 1052.5,104.4 1054.4,103.5 1056.3,102.6 1058.2,101.8 1060.1,101.1 1062.0,100.4 1063.9,99.9 1065.8,99.3 1067.8,98.9 1069.7,98.4 1071.6,98.0 1073.5,97.7" class="ln" stroke="#ff6a10"/>
<g fill="#ff6a10"><circle cx="922.4" cy="178.7" r="3.1"/><circle cx="948.4" cy="178.2" r="3.1"/><circle cx="973.4" cy="174.0" r="3.1"/><circle cx="998.4" cy="158.7" r="3.1"/><circle cx="1023.5" cy="132.3" r="3.1"/><circle cx="1048.5" cy="104.8" r="3.1"/><circle cx="1073.5" cy="98.7" r="3.1"/></g>
<polyline points="922.4,179.6 924.3,179.5 926.2,179.5 928.1,179.5 930.0,179.5 931.9,179.5 933.8,179.5 935.8,179.4 937.7,179.4 939.6,179.4 941.5,179.4 943.4,179.3 945.3,179.3 947.2,179.3 949.1,179.2 951.1,179.2 953.0,179.2 954.9,179.1 956.8,179.1 958.7,179.0 960.6,179.0 962.5,178.9 964.4,178.9 966.4,178.8 968.3,178.7 970.2,178.6 972.1,178.6 974.0,178.5 975.9,178.4 977.8,178.3 979.8,178.2 981.7,178.1 983.6,178.0 985.5,177.8 987.4,177.7 989.3,177.6 991.2,177.4 993.1,177.2 995.1,177.1 997.0,176.9 998.9,176.7 1000.8,176.5 1002.7,176.2 1004.6,176.0 1006.5,175.8 1008.5,175.5 1010.4,175.2 1012.3,174.9 1014.2,174.6 1016.1,174.2 1018.0,173.9 1019.9,173.5 1021.8,173.1 1023.8,172.7 1025.7,172.2 1027.6,171.8 1029.5,171.3 1031.4,170.8 1033.3,170.2 1035.2,169.7 1037.1,169.1 1039.1,168.5 1041.0,167.9 1042.9,167.2 1044.8,166.5 1046.7,165.8 1048.6,165.1 1050.5,164.4 1052.5,163.6 1054.4,162.9 1056.3,162.1 1058.2,161.3 1060.1,160.5 1062.0,159.6 1063.9,158.8 1065.8,158.0 1067.8,157.1 1069.7,156.3 1071.6,155.4 1073.5,154.5" class="ln" stroke="#16a07c"/>
<g fill="#16a07c"><circle cx="922.4" cy="179.2" r="3.1"/><circle cx="948.4" cy="179.2" r="3.1"/><circle cx="973.4" cy="179.2" r="3.1"/><circle cx="998.4" cy="176.4" r="3.1"/><circle cx="1023.5" cy="172.6" r="3.1"/><circle cx="1048.5" cy="165.3" r="3.1"/><circle cx="1073.5" cy="154.5" r="3.1"/></g>
<text x="163.1" y="230.1" class="tt">10-1074</text>
<path d="M55.7 248.4V390.6H270.5" class="ax"/>
<path d="M52.1 390.6H55.7M52.1 343.2H55.7M52.1 295.8H55.7M52.1 248.4H55.7M55.7 390.6v3.6M66.5 390.6v2.2M72.8 390.6v2.2M77.3 390.6v2.2M80.7 390.6v2.2M83.6 390.6v2.2M86.0 390.6v2.2M88.0 390.6v2.2M89.9 390.6v2.2M91.5 390.6v3.6M102.3 390.6v2.2M108.6 390.6v2.2M113.1 390.6v2.2M116.5 390.6v2.2M119.4 390.6v2.2M121.8 390.6v2.2M123.8 390.6v2.2M125.7 390.6v2.2M127.3 390.6v3.6M138.1 390.6v2.2M144.4 390.6v2.2M148.9 390.6v2.2M152.3 390.6v2.2M155.2 390.6v2.2M157.6 390.6v2.2M159.6 390.6v2.2M161.5 390.6v2.2M163.1 390.6v3.6M173.9 390.6v2.2M180.2 390.6v2.2M184.7 390.6v2.2M188.1 390.6v2.2M191.0 390.6v2.2M193.4 390.6v2.2M195.4 390.6v2.2M197.3 390.6v2.2M198.9 390.6v3.6M209.7 390.6v2.2M216.0 390.6v2.2M220.5 390.6v2.2M223.9 390.6v2.2M226.8 390.6v2.2M229.2 390.6v2.2M231.2 390.6v2.2M233.1 390.6v2.2M234.7 390.6v3.6M245.5 390.6v2.2M251.8 390.6v2.2M256.3 390.6v2.2M259.7 390.6v2.2M262.6 390.6v2.2M265.0 390.6v2.2M267.0 390.6v2.2M268.9 390.6v2.2M270.5 390.6v3.6" class="tk"/>
<text x="50.5" y="394.5" class="yl">0.0</text>
<text x="50.5" y="347.1" class="yl">0.5</text>
<text x="50.5" y="299.7" class="yl">1.0</text>
<text x="50.5" y="252.3" class="yl">1.5</text>
<text x="55.7" y="406.8" class="xl">0.001</text>
<text x="91.5" y="406.8" class="xl">0.01</text>
<text x="127.3" y="406.8" class="xl">0.1</text>
<text x="163.1" y="406.8" class="xl">1</text>
<text x="198.9" y="406.8" class="xl">10</text>
<text x="234.7" y="406.8" class="xl">100</text>
<text x="270.5" y="406.8" class="xl">1000</text>
<text transform="translate(29.7 320.4) rotate(-90)" class="od">OD 450 nm</text>
<polyline points="83.6,374.0 85.5,373.7 87.4,373.3 89.3,372.8 91.2,372.3 93.1,371.7 95.0,371.1 97.0,370.3 98.9,369.5 100.8,368.6 102.7,367.6 104.6,366.4 106.5,365.2 108.4,363.8 110.3,362.2 112.3,360.6 114.2,358.8 116.1,356.8 118.0,354.7 119.9,352.5 121.8,350.2 123.7,347.7 125.6,345.2 127.6,342.5 129.5,339.9 131.4,337.1 133.3,334.4 135.2,331.7 137.1,329.1 139.0,326.5 141.0,324.0 142.9,321.6 144.8,319.3 146.7,317.2 148.6,315.2 150.5,313.3 152.4,311.6 154.3,310.0 156.3,308.5 158.2,307.2 160.1,306.0 162.0,304.9 163.9,303.9 165.8,303.1 167.7,302.3 169.7,301.6 171.6,301.0 173.5,300.4 175.4,300.0 177.3,299.5 179.2,299.2 181.1,298.8 183.0,298.5 185.0,298.3 186.9,298.0 188.8,297.8 190.7,297.7 192.6,297.5 194.5,297.4 196.4,297.3 198.3,297.2 200.3,297.1 202.2,297.0 204.1,296.9 206.0,296.9 207.9,296.8 209.8,296.8 211.7,296.7 213.7,296.7 215.6,296.7 217.5,296.6 219.4,296.6 221.3,296.6 223.2,296.6 225.1,296.6 227.0,296.6 229.0,296.5 230.9,296.5 232.8,296.5 234.7,296.5" class="ln" stroke="#2ca51f"/>
<g fill="#2ca51f"><circle cx="83.6" cy="372.8" r="3.1"/><circle cx="109.6" cy="365.3" r="3.1"/><circle cx="134.6" cy="329.3" r="3.1"/><circle cx="159.6" cy="312.7" r="3.1"/><circle cx="184.7" cy="290.0" r="3.1"/><circle cx="209.7" cy="291.8" r="3.1"/><circle cx="234.7" cy="305.3" r="3.1"/></g>
<polyline points="83.6,373.2 85.5,373.0 87.4,372.9 89.3,372.7 91.2,372.5 93.1,372.2 95.0,371.9 97.0,371.5 98.9,371.1 100.8,370.6 102.7,369.9 104.6,369.2 106.5,368.3 108.4,367.3 110.3,366.1 112.3,364.7 114.2,363.1 116.1,361.3 118.0,359.2 119.9,356.9 121.8,354.3 123.7,351.4 125.6,348.3 127.6,344.9 129.5,341.4 131.4,337.7 133.3,334.0 135.2,330.2 137.1,326.5 139.0,322.8 141.0,319.4 142.9,316.1 144.8,313.1 146.7,310.3 148.6,307.7 150.5,305.5 152.4,303.5 154.3,301.7 156.3,300.2 158.2,298.9 160.1,297.7 162.0,296.8 163.9,295.9 165.8,295.2 167.7,294.7 169.7,294.1 171.6,293.7 173.5,293.4 175.4,293.1 177.3,292.8 179.2,292.6 181.1,292.4 183.0,292.3 185.0,292.2 186.9,292.1 188.8,292.0 190.7,291.9 192.6,291.9 194.5,291.8 196.4,291.8 198.3,291.7 200.3,291.7 202.2,291.7 204.1,291.7 206.0,291.6 207.9,291.6 209.8,291.6 211.7,291.6 213.7,291.6 215.6,291.6 217.5,291.6 219.4,291.6 221.3,291.6 223.2,291.6 225.1,291.6 227.0,291.6 229.0,291.6 230.9,291.6 232.8,291.6 234.7,291.6" class="ln" stroke="#ff2a92"/>
<g fill="#ff2a92"><circle cx="83.6" cy="372.8" r="3.1"/><circle cx="109.6" cy="367.1" r="3.1"/><circle cx="134.6" cy="331.1" r="3.1"/><circle cx="159.6" cy="298.7" r="3.1"/><circle cx="184.7" cy="291.1" r="3.1"/><circle cx="209.7" cy="290.2" r="3.1"/><circle cx="234.7" cy="293.5" r="3.1"/></g>
<polyline points="83.6,373.6 85.5,373.5 87.4,373.4 89.3,373.3 91.2,373.1 93.1,372.9 95.0,372.6 97.0,372.3 98.9,372.0 100.8,371.6 102.7,371.2 104.6,370.7 106.5,370.1 108.4,369.4 110.3,368.6 112.3,367.7 114.2,366.6 116.1,365.4 118.0,364.1 119.9,362.6 121.8,360.9 123.7,359.0 125.6,357.0 127.6,354.7 129.5,352.4 131.4,349.8 133.3,347.2 135.2,344.4 137.1,341.6 139.0,338.8 141.0,335.9 142.9,333.1 144.8,330.4 146.7,327.9 148.6,325.4 150.5,323.1 152.4,321.0 154.3,319.1 156.3,317.3 158.2,315.7 160.1,314.3 162.0,313.1 163.9,312.0 165.8,311.0 167.7,310.2 169.7,309.4 171.6,308.8 173.5,308.2 175.4,307.8 177.3,307.3 179.2,307.0 181.1,306.7 183.0,306.4 185.0,306.2 186.9,306.0 188.8,305.9 190.7,305.7 192.6,305.6 194.5,305.5 196.4,305.4 198.3,305.4 200.3,305.3 202.2,305.3 204.1,305.2 206.0,305.2 207.9,305.1 209.8,305.1 211.7,305.1 213.7,305.1 215.6,305.1 217.5,305.0 219.4,305.0 221.3,305.0 223.2,305.0 225.1,305.0 227.0,305.0 229.0,305.0 230.9,305.0 232.8,305.0 234.7,305.0" class="ln" stroke="#7b73c2"/>
<g fill="#7b73c2"><circle cx="83.6" cy="374.9" r="3.1"/><circle cx="109.6" cy="367.1" r="3.1"/><circle cx="134.6" cy="346.2" r="3.1"/><circle cx="159.6" cy="313.7" r="3.1"/><circle cx="184.7" cy="307.1" r="3.1"/><circle cx="209.7" cy="301.0" r="3.1"/><circle cx="234.7" cy="308.8" r="3.1"/></g>
<polyline points="83.6,378.8 85.5,378.7 87.4,378.5 89.3,378.3 91.2,378.1 93.1,377.8 95.0,377.5 97.0,377.1 98.9,376.7 100.8,376.2 102.7,375.6 104.6,374.9 106.5,374.2 108.4,373.3 110.3,372.3 112.3,371.2 114.2,369.9 116.1,368.4 118.0,366.8 119.9,365.0 121.8,363.1 123.7,360.9 125.6,358.6 127.6,356.1 129.5,353.4 131.4,350.7 133.3,347.8 135.2,344.9 137.1,341.9 139.0,339.0 141.0,336.1 142.9,333.3 144.8,330.6 146.7,328.0 148.6,325.6 150.5,323.4 152.4,321.3 154.3,319.4 156.3,317.7 158.2,316.2 160.1,314.9 162.0,313.7 163.9,312.6 165.8,311.7 167.7,310.9 169.7,310.1 171.6,309.5 173.5,309.0 175.4,308.5 177.3,308.1 179.2,307.8 181.1,307.5 183.0,307.2 185.0,307.0 186.9,306.8 188.8,306.7 190.7,306.5 192.6,306.4 194.5,306.3 196.4,306.2 198.3,306.2 200.3,306.1 202.2,306.1 204.1,306.0 206.0,306.0 207.9,305.9 209.8,305.9 211.7,305.9 213.7,305.9 215.6,305.9 217.5,305.8 219.4,305.8 221.3,305.8 223.2,305.8 225.1,305.8 227.0,305.8 229.0,305.8 230.9,305.8 232.8,305.8 234.7,305.8" class="ln" stroke="#ff6a10"/>
<g fill="#ff6a10"><circle cx="83.6" cy="378.4" r="3.1"/><circle cx="109.6" cy="372.8" r="3.1"/><circle cx="134.6" cy="344.5" r="3.1"/><circle cx="159.6" cy="314.4" r="3.1"/><circle cx="184.7" cy="296.7" r="3.1"/><circle cx="209.7" cy="303.6" r="3.1"/><circle cx="234.7" cy="305.7" r="3.1"/></g>
<polyline points="83.6,385.0 85.5,384.9 87.4,384.9 89.3,384.9 91.2,384.9 93.1,384.8 95.0,384.8 97.0,384.7 98.9,384.7 100.8,384.6 102.7,384.5 104.6,384.4 106.5,384.3 108.4,384.2 110.3,384.1 112.3,383.9 114.2,383.7 116.1,383.5 118.0,383.2 119.9,382.9 121.8,382.6 123.7,382.2 125.6,381.7 127.6,381.2 129.5,380.6 131.4,379.9 133.3,379.1 135.2,378.2 137.1,377.2 139.0,376.0 141.0,374.7 142.9,373.3 144.8,371.7 146.7,369.9 148.6,367.9 150.5,365.8 152.4,363.6 154.3,361.1 156.3,358.6 158.2,355.9 160.1,353.1 162.0,350.3 163.9,347.4 165.8,344.6 167.7,341.8 169.7,339.0 171.6,336.3 173.5,333.8 175.4,331.4 177.3,329.2 179.2,327.1 181.1,325.2 183.0,323.4 185.0,321.8 186.9,320.4 188.8,319.1 190.7,318.0 192.6,317.0 194.5,316.1 196.4,315.3 198.3,314.6 200.3,314.0 202.2,313.5 204.1,313.1 206.0,312.7 207.9,312.3 209.8,312.0 211.7,311.8 213.7,311.6 215.6,311.4 217.5,311.2 219.4,311.1 221.3,310.9 223.2,310.8 225.1,310.8 227.0,310.7 229.0,310.6 230.9,310.6 232.8,310.5 234.7,310.5" class="ln" stroke="#16a07c"/>
<g fill="#16a07c"><circle cx="83.6" cy="385.3" r="3.1"/><circle cx="109.6" cy="386.2" r="3.1"/><circle cx="134.6" cy="374.9" r="3.1"/><circle cx="159.6" cy="355.4" r="3.1"/><circle cx="184.7" cy="321.9" r="3.1"/><circle cx="209.7" cy="306.7" r="3.1"/><circle cx="234.7" cy="315.4" r="3.1"/></g>
<text x="443.3" y="230.1" class="tt">PGT121</text>
<path d="M335.9 248.4V390.6H550.7" class="ax"/>
<path d="M332.3 390.6H335.9M332.3 343.2H335.9M332.3 295.8H335.9M332.3 248.4H335.9M335.9 390.6v3.6M346.7 390.6v2.2M353.0 390.6v2.2M357.5 390.6v2.2M360.9 390.6v2.2M363.8 390.6v2.2M366.2 390.6v2.2M368.2 390.6v2.2M370.1 390.6v2.2M371.7 390.6v3.6M382.5 390.6v2.2M388.8 390.6v2.2M393.3 390.6v2.2M396.7 390.6v2.2M399.6 390.6v2.2M402.0 390.6v2.2M404.0 390.6v2.2M405.9 390.6v2.2M407.5 390.6v3.6M418.3 390.6v2.2M424.6 390.6v2.2M429.1 390.6v2.2M432.5 390.6v2.2M435.4 390.6v2.2M437.8 390.6v2.2M439.8 390.6v2.2M441.7 390.6v2.2M443.3 390.6v3.6M454.1 390.6v2.2M460.4 390.6v2.2M464.9 390.6v2.2M468.3 390.6v2.2M471.2 390.6v2.2M473.6 390.6v2.2M475.6 390.6v2.2M477.5 390.6v2.2M479.1 390.6v3.6M489.9 390.6v2.2M496.2 390.6v2.2M500.7 390.6v2.2M504.1 390.6v2.2M507.0 390.6v2.2M509.4 390.6v2.2M511.4 390.6v2.2M513.3 390.6v2.2M514.9 390.6v3.6M525.7 390.6v2.2M532.0 390.6v2.2M536.5 390.6v2.2M539.9 390.6v2.2M542.8 390.6v2.2M545.2 390.6v2.2M547.2 390.6v2.2M549.1 390.6v2.2M550.7 390.6v3.6" class="tk"/>
<text x="330.7" y="394.5" class="yl">0.0</text>
<text x="330.7" y="347.1" class="yl">0.5</text>
<text x="330.7" y="299.7" class="yl">1.0</text>
<text x="330.7" y="252.3" class="yl">1.5</text>
<text x="335.9" y="406.8" class="xl">0.001</text>
<text x="371.7" y="406.8" class="xl">0.01</text>
<text x="407.5" y="406.8" class="xl">0.1</text>
<text x="443.3" y="406.8" class="xl">1</text>
<text x="479.1" y="406.8" class="xl">10</text>
<text x="514.9" y="406.8" class="xl">100</text>
<text x="550.7" y="406.8" class="xl">1000</text>
<polyline points="363.8,381.8 365.7,381.7 367.6,381.5 369.5,381.3 371.4,381.1 373.3,380.8 375.2,380.5 377.2,380.1 379.1,379.7 381.0,379.2 382.9,378.6 384.8,377.9 386.7,377.1 388.6,376.2 390.5,375.1 392.5,373.9 394.4,372.5 396.3,370.9 398.2,369.0 400.1,367.0 402.0,364.7 403.9,362.2 405.8,359.5 407.8,356.6 409.7,353.4 411.6,350.2 413.5,346.8 415.4,343.3 417.3,339.9 419.2,336.4 421.2,333.1 423.1,329.8 425.0,326.7 426.9,323.9 428.8,321.2 430.7,318.8 432.6,316.6 434.5,314.6 436.5,312.8 438.4,311.3 440.3,309.9 442.2,308.7 444.1,307.7 446.0,306.8 447.9,306.0 449.9,305.3 451.8,304.8 453.7,304.3 455.6,303.9 457.5,303.5 459.4,303.2 461.3,303.0 463.2,302.8 465.2,302.6 467.1,302.4 469.0,302.3 470.9,302.2 472.8,302.1 474.7,302.0 476.6,302.0 478.5,301.9 480.5,301.9 482.4,301.8 484.3,301.8 486.2,301.8 488.1,301.7 490.0,301.7 491.9,301.7 493.9,301.7 495.8,301.7 497.7,301.7 499.6,301.7 501.5,301.7 503.4,301.7 505.3,301.6 507.2,301.6 509.2,301.6 511.1,301.6 513.0,301.6 514.9,301.6" class="ln" stroke="#2ca51f"/>
<g fill="#2ca51f"><circle cx="363.8" cy="381.0" r="3.1"/><circle cx="389.8" cy="376.7" r="3.1"/><circle cx="414.8" cy="344.0" r="3.1"/><circle cx="439.8" cy="310.2" r="3.1"/><circle cx="464.9" cy="306.2" r="3.1"/><circle cx="489.9" cy="296.7" r="3.1"/><circle cx="514.9" cy="303.3" r="3.1"/></g>
<polyline points="363.8,383.4 365.7,383.0 367.6,382.6 369.5,382.1 371.4,381.6 373.3,381.1 375.2,380.5 377.2,379.8 379.1,379.1 381.0,378.3 382.9,377.4 384.8,376.4 386.7,375.4 388.6,374.2 390.5,373.0 392.5,371.7 394.4,370.3 396.3,368.8 398.2,367.2 400.1,365.5 402.0,363.7 403.9,361.8 405.8,359.8 407.8,357.7 409.7,355.6 411.6,353.4 413.5,351.1 415.4,348.8 417.3,346.5 419.2,344.1 421.2,341.8 423.1,339.4 425.0,337.1 426.9,334.8 428.8,332.6 430.7,330.5 432.6,328.4 434.5,326.4 436.5,324.5 438.4,322.6 440.3,320.9 442.2,319.3 444.1,317.7 446.0,316.3 447.9,315.0 449.9,313.7 451.8,312.6 453.7,311.5 455.6,310.5 457.5,309.6 459.4,308.8 461.3,308.1 463.2,307.4 465.2,306.8 467.1,306.2 469.0,305.7 470.9,305.2 472.8,304.8 474.7,304.4 476.6,304.0 478.5,303.7 480.5,303.4 482.4,303.2 484.3,303.0 486.2,302.8 488.1,302.6 490.0,302.4 491.9,302.2 493.9,302.1 495.8,302.0 497.7,301.9 499.6,301.8 501.5,301.7 503.4,301.6 505.3,301.5 507.2,301.5 509.2,301.4 511.1,301.4 513.0,301.3 514.9,301.3" class="ln" stroke="#ff2a92"/>
<g fill="#ff2a92"><circle cx="363.8" cy="383.3" r="3.1"/><circle cx="389.8" cy="374.0" r="3.1"/><circle cx="414.8" cy="348.5" r="3.1"/><circle cx="439.8" cy="323.1" r="3.1"/><circle cx="464.9" cy="305.3" r="3.1"/><circle cx="489.9" cy="300.1" r="3.1"/><circle cx="514.9" cy="304.0" r="3.1"/></g>
<polyline points="363.8,384.3 365.7,383.9 367.6,383.5 369.5,383.1 371.4,382.6 373.3,382.1 375.2,381.5 377.2,380.8 379.1,380.1 381.0,379.4 382.9,378.5 384.8,377.6 386.7,376.6 388.6,375.5 390.5,374.3 392.5,373.1 394.4,371.7 396.3,370.3 398.2,368.7 400.1,367.1 402.0,365.3 403.9,363.5 405.8,361.6 407.8,359.6 409.7,357.5 411.6,355.4 413.5,353.2 415.4,350.9 417.3,348.7 419.2,346.4 421.2,344.1 423.1,341.8 425.0,339.6 426.9,337.3 428.8,335.2 430.7,333.1 432.6,331.0 434.5,329.1 436.5,327.2 438.4,325.4 440.3,323.7 442.2,322.1 444.1,320.6 446.0,319.2 447.9,317.9 449.9,316.7 451.8,315.6 453.7,314.5 455.6,313.6 457.5,312.7 459.4,311.9 461.3,311.1 463.2,310.5 465.2,309.8 467.1,309.3 469.0,308.8 470.9,308.3 472.8,307.9 474.7,307.5 476.6,307.2 478.5,306.9 480.5,306.6 482.4,306.3 484.3,306.1 486.2,305.9 488.1,305.7 490.0,305.6 491.9,305.4 493.9,305.3 495.8,305.2 497.7,305.1 499.6,305.0 501.5,304.9 503.4,304.8 505.3,304.7 507.2,304.7 509.2,304.6 511.1,304.5 513.0,304.5 514.9,304.5" class="ln" stroke="#7b73c2"/>
<g fill="#7b73c2"><circle cx="363.8" cy="383.6" r="3.1"/><circle cx="389.8" cy="376.7" r="3.1"/><circle cx="414.8" cy="348.8" r="3.1"/><circle cx="439.8" cy="328.0" r="3.1"/><circle cx="464.9" cy="308.0" r="3.1"/><circle cx="489.9" cy="298.4" r="3.1"/><circle cx="514.9" cy="311.4" r="3.1"/></g>
<polyline points="363.8,383.9 365.7,383.8 367.6,383.7 369.5,383.5 371.4,383.3 373.3,383.1 375.2,382.8 377.2,382.5 379.1,382.2 381.0,381.8 382.9,381.4 384.8,380.9 386.7,380.3 388.6,379.7 390.5,379.0 392.5,378.2 394.4,377.3 396.3,376.3 398.2,375.2 400.1,373.9 402.0,372.6 403.9,371.1 405.8,369.4 407.8,367.6 409.7,365.7 411.6,363.6 413.5,361.4 415.4,359.0 417.3,356.6 419.2,354.0 421.2,351.4 423.1,348.7 425.0,345.9 426.9,343.2 428.8,340.5 430.7,337.8 432.6,335.2 434.5,332.7 436.5,330.3 438.4,328.0 440.3,325.9 442.2,323.9 444.1,322.0 446.0,320.3 447.9,318.8 449.9,317.3 451.8,316.0 453.7,314.9 455.6,313.8 457.5,312.9 459.4,312.1 461.3,311.3 463.2,310.7 465.2,310.1 467.1,309.6 469.0,309.1 470.9,308.7 472.8,308.4 474.7,308.0 476.6,307.8 478.5,307.5 480.5,307.3 482.4,307.1 484.3,307.0 486.2,306.8 488.1,306.7 490.0,306.6 491.9,306.5 493.9,306.4 495.8,306.4 497.7,306.3 499.6,306.3 501.5,306.2 503.4,306.2 505.3,306.1 507.2,306.1 509.2,306.1 511.1,306.1 513.0,306.0 514.9,306.0" class="ln" stroke="#ff6a10"/>
<g fill="#ff6a10"><circle cx="363.8" cy="383.6" r="3.1"/><circle cx="389.8" cy="380.5" r="3.1"/><circle cx="414.8" cy="357.9" r="3.1"/><circle cx="439.8" cy="329.3" r="3.1"/><circle cx="464.9" cy="306.7" r="3.1"/><circle cx="489.9" cy="299.3" r="3.1"/><circle cx="514.9" cy="314.9" r="3.1"/></g>
<polyline points="363.8,385.7 365.7,385.7 367.6,385.6 369.5,385.6 371.4,385.5 373.3,385.4 375.2,385.3 377.2,385.3 379.1,385.2 381.0,385.0 382.9,384.9 384.8,384.8 386.7,384.6 388.6,384.4 390.5,384.2 392.5,383.9 394.4,383.6 396.3,383.3 398.2,383.0 400.1,382.6 402.0,382.1 403.9,381.6 405.8,381.1 407.8,380.4 409.7,379.7 411.6,379.0 413.5,378.1 415.4,377.1 417.3,376.1 419.2,374.9 421.2,373.6 423.1,372.2 425.0,370.7 426.9,369.1 428.8,367.4 430.7,365.5 432.6,363.5 434.5,361.4 436.5,359.2 438.4,357.0 440.3,354.7 442.2,352.3 444.1,349.9 446.0,347.4 447.9,345.0 449.9,342.6 451.8,340.3 453.7,338.0 455.6,335.8 457.5,333.7 459.4,331.7 461.3,329.8 463.2,328.0 465.2,326.3 467.1,324.8 469.0,323.4 470.9,322.1 472.8,320.9 474.7,319.8 476.6,318.8 478.5,317.9 480.5,317.1 482.4,316.4 484.3,315.7 486.2,315.1 488.1,314.6 490.0,314.1 491.9,313.7 493.9,313.4 495.8,313.0 497.7,312.7 499.6,312.5 501.5,312.3 503.4,312.1 505.3,311.9 507.2,311.7 509.2,311.6 511.1,311.5 513.0,311.4 514.9,311.3" class="ln" stroke="#16a07c"/>
<g fill="#16a07c"><circle cx="363.8" cy="385.0" r="3.1"/><circle cx="389.8" cy="386.7" r="3.1"/><circle cx="414.8" cy="375.3" r="3.1"/><circle cx="439.8" cy="354.9" r="3.1"/><circle cx="464.9" cy="330.6" r="3.1"/><circle cx="489.9" cy="303.3" r="3.1"/><circle cx="514.9" cy="318.9" r="3.1"/></g>
<text x="722.4" y="230.1" class="tt">VRC01</text>
<path d="M615.0 248.4V390.6H829.8" class="ax"/>
<path d="M611.4 390.6H615.0M611.4 343.2H615.0M611.4 295.8H615.0M611.4 248.4H615.0M615.0 390.6v3.6M625.8 390.6v2.2M632.1 390.6v2.2M636.6 390.6v2.2M640.0 390.6v2.2M642.9 390.6v2.2M645.3 390.6v2.2M647.3 390.6v2.2M649.2 390.6v2.2M650.8 390.6v3.6M661.6 390.6v2.2M667.9 390.6v2.2M672.4 390.6v2.2M675.8 390.6v2.2M678.7 390.6v2.2M681.1 390.6v2.2M683.1 390.6v2.2M685.0 390.6v2.2M686.6 390.6v3.6M697.4 390.6v2.2M703.7 390.6v2.2M708.2 390.6v2.2M711.6 390.6v2.2M714.5 390.6v2.2M716.9 390.6v2.2M718.9 390.6v2.2M720.8 390.6v2.2M722.4 390.6v3.6M733.2 390.6v2.2M739.5 390.6v2.2M744.0 390.6v2.2M747.4 390.6v2.2M750.3 390.6v2.2M752.7 390.6v2.2M754.7 390.6v2.2M756.6 390.6v2.2M758.2 390.6v3.6M769.0 390.6v2.2M775.3 390.6v2.2M779.8 390.6v2.2M783.2 390.6v2.2M786.1 390.6v2.2M788.5 390.6v2.2M790.5 390.6v2.2M792.4 390.6v2.2M794.0 390.6v3.6M804.8 390.6v2.2M811.1 390.6v2.2M815.6 390.6v2.2M819.0 390.6v2.2M821.9 390.6v2.2M824.3 390.6v2.2M826.3 390.6v2.2M828.2 390.6v2.2M829.8 390.6v3.6" class="tk"/>
<text x="609.8" y="394.5" class="yl">0.0</text>
<text x="609.8" y="347.1" class="yl">0.5</text>
<text x="609.8" y="299.7" class="yl">1.0</text>
<text x="609.8" y="252.3" class="yl">1.5</text>
<text x="615.0" y="406.8" class="xl">0.001</text>
<text x="650.8" y="406.8" class="xl">0.01</text>
<text x="686.6" y="406.8" class="xl">0.1</text>
<text x="722.4" y="406.8" class="xl">1</text>
<text x="758.2" y="406.8" class="xl">10</text>
<text x="794.0" y="406.8" class="xl">100</text>
<text x="829.8" y="406.8" class="xl">1000</text>
<polyline points="642.9,371.7 644.8,370.9 646.7,370.0 648.6,369.1 650.5,368.1 652.4,367.0 654.3,365.8 656.3,364.5 658.2,363.1 660.1,361.6 662.0,360.0 663.9,358.3 665.8,356.4 667.7,354.5 669.6,352.5 671.6,350.4 673.5,348.2 675.4,345.9 677.3,343.6 679.2,341.2 681.1,338.8 683.0,336.4 684.9,334.0 686.9,331.6 688.8,329.2 690.7,326.9 692.6,324.6 694.5,322.4 696.4,320.3 698.3,318.3 700.3,316.4 702.2,314.5 704.1,312.8 706.0,311.2 707.9,309.7 709.8,308.3 711.7,307.0 713.6,305.8 715.6,304.7 717.5,303.7 719.4,302.8 721.3,302.0 723.2,301.2 725.1,300.5 727.0,299.9 729.0,299.3 730.9,298.8 732.8,298.3 734.7,297.9 736.6,297.5 738.5,297.2 740.4,296.9 742.3,296.6 744.3,296.3 746.2,296.1 748.1,295.9 750.0,295.8 751.9,295.6 753.8,295.5 755.7,295.3 757.6,295.2 759.6,295.1 761.5,295.0 763.4,294.9 765.3,294.9 767.2,294.8 769.1,294.7 771.0,294.7 773.0,294.6 774.9,294.6 776.8,294.6 778.7,294.5 780.6,294.5 782.5,294.5 784.4,294.5 786.3,294.4 788.3,294.4 790.2,294.4 792.1,294.4 794.0,294.4" class="ln" stroke="#2ca51f"/>
<g fill="#2ca51f"><circle cx="642.9" cy="372.8" r="3.1"/><circle cx="668.9" cy="350.6" r="3.1"/><circle cx="693.9" cy="326.2" r="3.1"/><circle cx="718.9" cy="302.7" r="3.1"/><circle cx="744.0" cy="288.3" r="3.1"/><circle cx="769.0" cy="294.0" r="3.1"/><circle cx="794.0" cy="301.9" r="3.1"/></g>
<polyline points="642.9,372.6 644.8,371.7 646.7,370.7 648.6,369.6 650.5,368.5 652.4,367.2 654.3,365.8 656.3,364.4 658.2,362.8 660.1,361.2 662.0,359.4 663.9,357.5 665.8,355.6 667.7,353.5 669.6,351.4 671.6,349.2 673.5,347.0 675.4,344.7 677.3,342.4 679.2,340.1 681.1,337.8 683.0,335.5 684.9,333.3 686.9,331.0 688.8,328.9 690.7,326.8 692.6,324.8 694.5,322.9 696.4,321.1 698.3,319.4 700.3,317.8 702.2,316.3 704.1,314.9 706.0,313.6 707.9,312.5 709.8,311.3 711.7,310.3 713.6,309.4 715.6,308.6 717.5,307.8 719.4,307.1 721.3,306.5 723.2,305.9 725.1,305.4 727.0,304.9 729.0,304.5 730.9,304.1 732.8,303.7 734.7,303.4 736.6,303.2 738.5,302.9 740.4,302.7 742.3,302.5 744.3,302.3 746.2,302.2 748.1,302.0 750.0,301.9 751.9,301.8 753.8,301.7 755.7,301.6 757.6,301.5 759.6,301.4 761.5,301.4 763.4,301.3 765.3,301.3 767.2,301.2 769.1,301.2 771.0,301.1 773.0,301.1 774.9,301.1 776.8,301.1 778.7,301.0 780.6,301.0 782.5,301.0 784.4,301.0 786.3,301.0 788.3,300.9 790.2,300.9 792.1,300.9 794.0,300.9" class="ln" stroke="#ff2a92"/>
<g fill="#ff2a92"><circle cx="642.9" cy="373.2" r="3.1"/><circle cx="668.9" cy="350.6" r="3.1"/><circle cx="693.9" cy="326.2" r="3.1"/><circle cx="718.9" cy="305.3" r="3.1"/><circle cx="744.0" cy="298.0" r="3.1"/><circle cx="769.0" cy="302.2" r="3.1"/><circle cx="794.0" cy="304.5" r="3.1"/></g>
<polyline points="642.9,372.0 644.8,370.8 646.7,369.5 648.6,368.1 650.5,366.7 652.4,365.1 654.3,363.5 656.3,361.8 658.2,360.0 660.1,358.2 662.0,356.3 663.9,354.3 665.8,352.3 667.7,350.3 669.6,348.2 671.6,346.1 673.5,344.0 675.4,341.9 677.3,339.9 679.2,337.8 681.1,335.8 683.0,333.8 684.9,331.9 686.9,330.1 688.8,328.3 690.7,326.6 692.6,325.0 694.5,323.4 696.4,322.0 698.3,320.6 700.3,319.3 702.2,318.1 704.1,317.0 706.0,315.9 707.9,314.9 709.8,314.0 711.7,313.2 713.6,312.4 715.6,311.7 717.5,311.0 719.4,310.4 721.3,309.9 723.2,309.3 725.1,308.9 727.0,308.5 729.0,308.1 730.9,307.7 732.8,307.4 734.7,307.1 736.6,306.9 738.5,306.6 740.4,306.4 742.3,306.2 744.3,306.0 746.2,305.9 748.1,305.7 750.0,305.6 751.9,305.5 753.8,305.4 755.7,305.3 757.6,305.2 759.6,305.1 761.5,305.0 763.4,305.0 765.3,304.9 767.2,304.8 769.1,304.8 771.0,304.8 773.0,304.7 774.9,304.7 776.8,304.6 778.7,304.6 780.6,304.6 782.5,304.6 784.4,304.5 786.3,304.5 788.3,304.5 790.2,304.5 792.1,304.5 794.0,304.5" class="ln" stroke="#7b73c2"/>
<g fill="#7b73c2"><circle cx="642.9" cy="372.8" r="3.1"/><circle cx="668.9" cy="346.2" r="3.1"/><circle cx="693.9" cy="329.3" r="3.1"/><circle cx="718.9" cy="305.7" r="3.1"/><circle cx="744.0" cy="302.2" r="3.1"/><circle cx="769.0" cy="305.3" r="3.1"/><circle cx="794.0" cy="309.2" r="3.1"/></g>
<polyline points="642.9,376.5 644.8,375.5 646.7,374.6 648.6,373.5 650.5,372.4 652.4,371.2 654.3,369.9 656.3,368.6 658.2,367.2 660.1,365.7 662.0,364.2 663.9,362.6 665.8,360.9 667.7,359.2 669.6,357.4 671.6,355.5 673.5,353.7 675.4,351.7 677.3,349.8 679.2,347.8 681.1,345.8 683.0,343.8 684.9,341.9 686.9,339.9 688.8,337.9 690.7,336.0 692.6,334.1 694.5,332.3 696.4,330.5 698.3,328.7 700.3,327.0 702.2,325.4 704.1,323.8 706.0,322.3 707.9,320.9 709.8,319.5 711.7,318.2 713.6,317.0 715.6,315.9 717.5,314.8 719.4,313.8 721.3,312.8 723.2,311.9 725.1,311.1 727.0,310.3 729.0,309.6 730.9,309.0 732.8,308.3 734.7,307.8 736.6,307.2 738.5,306.8 740.4,306.3 742.3,305.9 744.3,305.5 746.2,305.2 748.1,304.8 750.0,304.5 751.9,304.3 753.8,304.0 755.7,303.8 757.6,303.6 759.6,303.4 761.5,303.2 763.4,303.0 765.3,302.9 767.2,302.8 769.1,302.6 771.0,302.5 773.0,302.4 774.9,302.3 776.8,302.2 778.7,302.2 780.6,302.1 782.5,302.0 784.4,302.0 786.3,301.9 788.3,301.9 790.2,301.8 792.1,301.8 794.0,301.7" class="ln" stroke="#ff6a10"/>
<g fill="#ff6a10"><circle cx="642.9" cy="377.5" r="3.1"/><circle cx="668.9" cy="354.9" r="3.1"/><circle cx="693.9" cy="338.0" r="3.1"/><circle cx="718.9" cy="308.0" r="3.1"/><circle cx="744.0" cy="308.8" r="3.1"/><circle cx="769.0" cy="302.2" r="3.1"/><circle cx="794.0" cy="301.9" r="3.1"/></g>
<polyline points="642.9,383.2 644.8,383.0 646.7,382.8 648.6,382.6 650.5,382.3 652.4,382.0 654.3,381.7 656.3,381.4 658.2,380.9 660.1,380.5 662.0,380.0 663.9,379.4 665.8,378.8 667.7,378.1 669.6,377.4 671.6,376.5 673.5,375.6 675.4,374.6 677.3,373.5 679.2,372.3 681.1,371.0 683.0,369.7 684.9,368.2 686.9,366.6 688.8,365.0 690.7,363.2 692.6,361.4 694.5,359.5 696.4,357.6 698.3,355.6 700.3,353.6 702.2,351.6 704.1,349.5 706.0,347.5 707.9,345.5 709.8,343.6 711.7,341.7 713.6,339.9 715.6,338.2 717.5,336.5 719.4,335.0 721.3,333.5 723.2,332.1 725.1,330.8 727.0,329.7 729.0,328.6 730.9,327.6 732.8,326.7 734.7,325.8 736.6,325.1 738.5,324.4 740.4,323.8 742.3,323.2 744.3,322.7 746.2,322.3 748.1,321.9 750.0,321.5 751.9,321.2 753.8,320.9 755.7,320.7 757.6,320.4 759.6,320.2 761.5,320.0 763.4,319.9 765.3,319.7 767.2,319.6 769.1,319.5 771.0,319.4 773.0,319.3 774.9,319.2 776.8,319.2 778.7,319.1 780.6,319.0 782.5,319.0 784.4,318.9 786.3,318.9 788.3,318.9 790.2,318.8 792.1,318.8 794.0,318.8" class="ln" stroke="#16a07c"/>
<g fill="#16a07c"><circle cx="642.9" cy="385.3" r="3.1"/><circle cx="668.9" cy="374.6" r="3.1"/><circle cx="693.9" cy="361.0" r="3.1"/><circle cx="718.9" cy="337.0" r="3.1"/><circle cx="744.0" cy="317.9" r="3.1"/><circle cx="769.0" cy="320.7" r="3.1"/><circle cx="794.0" cy="321.0" r="3.1"/></g>
<text x="1001.9" y="230.1" class="tt">F105</text>
<path d="M894.5 248.4V390.6H1109.3" class="ax"/>
<path d="M890.9 390.6H894.5M890.9 343.2H894.5M890.9 295.8H894.5M890.9 248.4H894.5M894.5 390.6v3.6M905.3 390.6v2.2M911.6 390.6v2.2M916.1 390.6v2.2M919.5 390.6v2.2M922.4 390.6v2.2M924.8 390.6v2.2M926.8 390.6v2.2M928.7 390.6v2.2M930.3 390.6v3.6M941.1 390.6v2.2M947.4 390.6v2.2M951.9 390.6v2.2M955.3 390.6v2.2M958.2 390.6v2.2M960.6 390.6v2.2M962.6 390.6v2.2M964.5 390.6v2.2M966.1 390.6v3.6M976.9 390.6v2.2M983.2 390.6v2.2M987.7 390.6v2.2M991.1 390.6v2.2M994.0 390.6v2.2M996.4 390.6v2.2M998.4 390.6v2.2M1000.3 390.6v2.2M1001.9 390.6v3.6M1012.7 390.6v2.2M1019.0 390.6v2.2M1023.5 390.6v2.2M1026.9 390.6v2.2M1029.8 390.6v2.2M1032.2 390.6v2.2M1034.2 390.6v2.2M1036.1 390.6v2.2M1037.7 390.6v3.6M1048.5 390.6v2.2M1054.8 390.6v2.2M1059.3 390.6v2.2M1062.7 390.6v2.2M1065.6 390.6v2.2M1068.0 390.6v2.2M1070.0 390.6v2.2M1071.9 390.6v2.2M1073.5 390.6v3.6M1084.3 390.6v2.2M1090.6 390.6v2.2M1095.1 390.6v2.2M1098.5 390.6v2.2M1101.4 390.6v2.2M1103.8 390.6v2.2M1105.8 390.6v2.2M1107.7 390.6v2.2M1109.3 390.6v3.6" class="tk"/>
<text x="889.3" y="394.5" class="yl">0.0</text>
<text x="889.3" y="347.1" class="yl">0.5</text>
<text x="889.3" y="299.7" class="yl">1.0</text>
<text x="889.3" y="252.3" class="yl">1.5</text>
<text x="894.5" y="406.8" class="xl">0.001</text>
<text x="930.3" y="406.8" class="xl">0.01</text>
<text x="966.1" y="406.8" class="xl">0.1</text>
<text x="1001.9" y="406.8" class="xl">1</text>
<text x="1037.7" y="406.8" class="xl">10</text>
<text x="1073.5" y="406.8" class="xl">100</text>
<text x="1109.3" y="406.8" class="xl">1000</text>
<polyline points="922.4,389.7 924.3,389.6 926.2,389.6 928.1,389.5 930.0,389.5 931.9,389.4 933.8,389.3 935.8,389.3 937.7,389.2 939.6,389.1 941.5,389.0 943.4,388.9 945.3,388.8 947.2,388.7 949.1,388.6 951.1,388.4 953.0,388.3 954.9,388.1 956.8,387.9 958.7,387.7 960.6,387.5 962.5,387.3 964.4,387.0 966.4,386.7 968.3,386.4 970.2,386.1 972.1,385.7 974.0,385.4 975.9,385.0 977.8,384.5 979.8,384.0 981.7,383.5 983.6,383.0 985.5,382.4 987.4,381.7 989.3,381.0 991.2,380.3 993.1,379.5 995.1,378.6 997.0,377.7 998.9,376.8 1000.8,375.8 1002.7,374.7 1004.6,373.6 1006.5,372.4 1008.5,371.1 1010.4,369.8 1012.3,368.4 1014.2,367.0 1016.1,365.5 1018.0,363.9 1019.9,362.3 1021.8,360.7 1023.8,359.0 1025.7,357.2 1027.6,355.5 1029.5,353.7 1031.4,351.9 1033.3,350.0 1035.2,348.2 1037.1,346.4 1039.1,344.6 1041.0,342.8 1042.9,341.0 1044.8,339.3 1046.7,337.5 1048.6,335.9 1050.5,334.2 1052.5,332.7 1054.4,331.1 1056.3,329.7 1058.2,328.3 1060.1,326.9 1062.0,325.6 1063.9,324.4 1065.8,323.2 1067.8,322.1 1069.7,321.1 1071.6,320.1 1073.5,319.1" class="ln" stroke="#2ca51f"/>
<g fill="#2ca51f"><circle cx="922.4" cy="389.2" r="3.1"/><circle cx="948.4" cy="388.8" r="3.1"/><circle cx="973.4" cy="385.7" r="3.1"/><circle cx="998.4" cy="377.5" r="3.1"/><circle cx="1023.5" cy="358.4" r="3.1"/><circle cx="1048.5" cy="336.7" r="3.1"/><circle cx="1073.5" cy="318.9" r="3.1"/></g>
<polyline points="922.4,388.0 924.3,387.8 926.2,387.7 928.1,387.5 930.0,387.3 931.9,387.1 933.8,386.9 935.8,386.7 937.7,386.5 939.6,386.2 941.5,386.0 943.4,385.7 945.3,385.4 947.2,385.0 949.1,384.7 951.1,384.3 953.0,383.8 954.9,383.4 956.8,382.9 958.7,382.4 960.6,381.8 962.5,381.3 964.4,380.6 966.4,380.0 968.3,379.2 970.2,378.5 972.1,377.7 974.0,376.8 975.9,375.9 977.8,375.0 979.8,374.0 981.7,372.9 983.6,371.8 985.5,370.7 987.4,369.5 989.3,368.2 991.2,366.9 993.1,365.5 995.1,364.1 997.0,362.7 998.9,361.2 1000.8,359.6 1002.7,358.1 1004.6,356.5 1006.5,354.9 1008.5,353.2 1010.4,351.5 1012.3,349.9 1014.2,348.2 1016.1,346.5 1018.0,344.8 1019.9,343.2 1021.8,341.5 1023.8,339.9 1025.7,338.3 1027.6,336.7 1029.5,335.2 1031.4,333.7 1033.3,332.2 1035.2,330.8 1037.1,329.5 1039.1,328.1 1041.0,326.9 1042.9,325.7 1044.8,324.5 1046.7,323.4 1048.6,322.3 1050.5,321.3 1052.5,320.4 1054.4,319.5 1056.3,318.6 1058.2,317.8 1060.1,317.0 1062.0,316.3 1063.9,315.6 1065.8,315.0 1067.8,314.4 1069.7,313.9 1071.6,313.3 1073.5,312.9" class="ln" stroke="#ff2a92"/>
<g fill="#ff2a92"><circle cx="922.4" cy="387.1" r="3.1"/><circle cx="948.4" cy="385.3" r="3.1"/><circle cx="973.4" cy="378.0" r="3.1"/><circle cx="998.4" cy="361.0" r="3.1"/><circle cx="1023.5" cy="339.3" r="3.1"/><circle cx="1048.5" cy="324.1" r="3.1"/><circle cx="1073.5" cy="312.0" r="3.1"/></g>
<polyline points="922.4,384.5 924.3,384.2 926.2,383.9 928.1,383.7 930.0,383.3 931.9,383.0 933.8,382.6 935.8,382.3 937.7,381.8 939.6,381.4 941.5,380.9 943.4,380.4 945.3,379.9 947.2,379.3 949.1,378.7 951.1,378.0 953.0,377.3 954.9,376.5 956.8,375.7 958.7,374.9 960.6,374.0 962.5,373.0 964.4,372.0 966.4,371.0 968.3,369.9 970.2,368.7 972.1,367.4 974.0,366.1 975.9,364.8 977.8,363.4 979.8,361.9 981.7,360.4 983.6,358.8 985.5,357.2 987.4,355.5 989.3,353.8 991.2,352.0 993.1,350.2 995.1,348.3 997.0,346.4 998.9,344.5 1000.8,342.6 1002.7,340.6 1004.6,338.7 1006.5,336.7 1008.5,334.8 1010.4,332.8 1012.3,330.9 1014.2,329.0 1016.1,327.1 1018.0,325.3 1019.9,323.5 1021.8,321.7 1023.8,320.0 1025.7,318.3 1027.6,316.6 1029.5,315.1 1031.4,313.5 1033.3,312.1 1035.2,310.7 1037.1,309.3 1039.1,308.0 1041.0,306.8 1042.9,305.6 1044.8,304.5 1046.7,303.5 1048.6,302.4 1050.5,301.5 1052.5,300.6 1054.4,299.8 1056.3,299.0 1058.2,298.2 1060.1,297.5 1062.0,296.8 1063.9,296.2 1065.8,295.6 1067.8,295.1 1069.7,294.6 1071.6,294.1 1073.5,293.7" class="ln" stroke="#7b73c2"/>
<g fill="#7b73c2"><circle cx="922.4" cy="383.6" r="3.1"/><circle cx="948.4" cy="380.5" r="3.1"/><circle cx="973.4" cy="365.9" r="3.1"/><circle cx="998.4" cy="344.5" r="3.1"/><circle cx="1023.5" cy="321.3" r="3.1"/><circle cx="1048.5" cy="301.5" r="3.1"/><circle cx="1073.5" cy="294.0" r="3.1"/></g>
<polyline points="922.4,377.1 924.3,376.8 926.2,376.5 928.1,376.2 930.0,375.8 931.9,375.3 933.8,374.8 935.8,374.3 937.7,373.7 939.6,373.0 941.5,372.2 943.4,371.4 945.3,370.5 947.2,369.5 949.1,368.4 951.1,367.2 953.0,365.9 954.9,364.5 956.8,363.0 958.7,361.3 960.6,359.6 962.5,357.7 964.4,355.7 966.4,353.6 968.3,351.4 970.2,349.1 972.1,346.7 974.0,344.3 975.9,341.8 977.8,339.2 979.8,336.7 981.7,334.1 983.6,331.6 985.5,329.0 987.4,326.5 989.3,324.1 991.2,321.8 993.1,319.5 995.1,317.4 997.0,315.4 998.9,313.4 1000.8,311.6 1002.7,309.9 1004.6,308.3 1006.5,306.9 1008.5,305.5 1010.4,304.2 1012.3,303.1 1014.2,302.1 1016.1,301.1 1018.0,300.2 1019.9,299.4 1021.8,298.7 1023.8,298.1 1025.7,297.5 1027.6,297.0 1029.5,296.5 1031.4,296.1 1033.3,295.7 1035.2,295.4 1037.1,295.1 1039.1,294.8 1041.0,294.6 1042.9,294.3 1044.8,294.1 1046.7,294.0 1048.6,293.8 1050.5,293.7 1052.5,293.6 1054.4,293.5 1056.3,293.4 1058.2,293.3 1060.1,293.2 1062.0,293.1 1063.9,293.1 1065.8,293.0 1067.8,293.0 1069.7,292.9 1071.6,292.9 1073.5,292.8" class="ln" stroke="#ff6a10"/>
<g fill="#ff6a10"><circle cx="922.4" cy="376.7" r="3.1"/><circle cx="948.4" cy="369.7" r="3.1"/><circle cx="973.4" cy="344.5" r="3.1"/><circle cx="998.4" cy="314.0" r="3.1"/><circle cx="1023.5" cy="299.3" r="3.1"/><circle cx="1048.5" cy="291.1" r="3.1"/><circle cx="1073.5" cy="294.6" r="3.1"/></g>
<polyline points="922.4,389.6 924.3,389.6 926.2,389.5 928.1,389.4 930.0,389.3 931.9,389.2 933.8,389.1 935.8,389.0 937.7,388.8 939.6,388.7 941.5,388.5 943.4,388.3 945.3,388.1 947.2,387.9 949.1,387.7 951.1,387.4 953.0,387.1 954.9,386.8 956.8,386.5 958.7,386.1 960.6,385.7 962.5,385.3 964.4,384.8 966.4,384.3 968.3,383.8 970.2,383.2 972.1,382.6 974.0,381.9 975.9,381.2 977.8,380.4 979.8,379.6 981.7,378.7 983.6,377.7 985.5,376.7 987.4,375.6 989.3,374.5 991.2,373.3 993.1,372.1 995.1,370.8 997.0,369.4 998.9,368.0 1000.8,366.5 1002.7,365.0 1004.6,363.5 1006.5,361.9 1008.5,360.3 1010.4,358.7 1012.3,357.1 1014.2,355.4 1016.1,353.8 1018.0,352.2 1019.9,350.5 1021.8,349.0 1023.8,347.4 1025.7,345.9 1027.6,344.4 1029.5,342.9 1031.4,341.5 1033.3,340.2 1035.2,338.9 1037.1,337.7 1039.1,336.5 1041.0,335.4 1042.9,334.4 1044.8,333.4 1046.7,332.5 1048.6,331.6 1050.5,330.8 1052.5,330.0 1054.4,329.3 1056.3,328.6 1058.2,328.0 1060.1,327.5 1062.0,326.9 1063.9,326.4 1065.8,326.0 1067.8,325.6 1069.7,325.2 1071.6,324.8 1073.5,324.5" class="ln" stroke="#16a07c"/>
<g fill="#16a07c"><circle cx="922.4" cy="389.2" r="3.1"/><circle cx="948.4" cy="388.0" r="3.1"/><circle cx="973.4" cy="382.7" r="3.1"/><circle cx="998.4" cy="368.0" r="3.1"/><circle cx="1023.5" cy="347.4" r="3.1"/><circle cx="1048.5" cy="332.3" r="3.1"/><circle cx="1073.5" cy="324.1" r="3.1"/></g>
<text x="163.1" y="441.2" class="tt">447-52D</text>
<path d="M55.7 459.5V601.7H270.5" class="ax"/>
<path d="M52.1 601.7H55.7M52.1 554.3H55.7M52.1 506.9H55.7M52.1 459.5H55.7M55.7 601.7v3.6M66.5 601.7v2.2M72.8 601.7v2.2M77.3 601.7v2.2M80.7 601.7v2.2M83.6 601.7v2.2M86.0 601.7v2.2M88.0 601.7v2.2M89.9 601.7v2.2M91.5 601.7v3.6M102.3 601.7v2.2M108.6 601.7v2.2M113.1 601.7v2.2M116.5 601.7v2.2M119.4 601.7v2.2M121.8 601.7v2.2M123.8 601.7v2.2M125.7 601.7v2.2M127.3 601.7v3.6M138.1 601.7v2.2M144.4 601.7v2.2M148.9 601.7v2.2M152.3 601.7v2.2M155.2 601.7v2.2M157.6 601.7v2.2M159.6 601.7v2.2M161.5 601.7v2.2M163.1 601.7v3.6M173.9 601.7v2.2M180.2 601.7v2.2M184.7 601.7v2.2M188.1 601.7v2.2M191.0 601.7v2.2M193.4 601.7v2.2M195.4 601.7v2.2M197.3 601.7v2.2M198.9 601.7v3.6M209.7 601.7v2.2M216.0 601.7v2.2M220.5 601.7v2.2M223.9 601.7v2.2M226.8 601.7v2.2M229.2 601.7v2.2M231.2 601.7v2.2M233.1 601.7v2.2M234.7 601.7v3.6M245.5 601.7v2.2M251.8 601.7v2.2M256.3 601.7v2.2M259.7 601.7v2.2M262.6 601.7v2.2M265.0 601.7v2.2M267.0 601.7v2.2M268.9 601.7v2.2M270.5 601.7v3.6" class="tk"/>
<text x="50.5" y="605.6" class="yl">0.0</text>
<text x="50.5" y="558.2" class="yl">0.5</text>
<text x="50.5" y="510.8" class="yl">1.0</text>
<text x="50.5" y="463.4" class="yl">1.5</text>
<text x="55.7" y="617.9" class="xl">0.001</text>
<text x="91.5" y="617.9" class="xl">0.01</text>
<text x="127.3" y="617.9" class="xl">0.1</text>
<text x="163.1" y="617.9" class="xl">1</text>
<text x="198.9" y="617.9" class="xl">10</text>
<text x="234.7" y="617.9" class="xl">100</text>
<text x="270.5" y="617.9" class="xl">1000</text>
<text transform="translate(29.7 531.5) rotate(-90)" class="od">OD 450 nm</text>
<polyline points="83.6,600.9 85.5,600.9 87.4,600.9 89.3,600.9 91.2,600.9 93.1,600.9 95.0,600.9 97.0,600.9 98.9,600.9 100.8,600.9 102.7,600.9 104.6,600.9 106.5,600.9 108.4,600.9 110.3,600.9 112.3,600.9 114.2,600.9 116.1,600.9 118.0,600.9 119.9,600.9 121.8,600.9 123.7,600.9 125.6,600.9 127.6,600.9 129.5,600.9 131.4,600.9 133.3,600.9 135.2,600.9 137.1,600.9 139.0,600.9 141.0,600.9 142.9,600.9 144.8,600.8 146.7,600.8 148.6,600.8 150.5,600.8 152.4,600.8 154.3,600.8 156.3,600.8 158.2,600.8 160.1,600.8 162.0,600.7 163.9,600.7 165.8,600.7 167.7,600.7 169.7,600.7 171.6,600.6 173.5,600.6 175.4,600.6 177.3,600.6 179.2,600.5 181.1,600.5 183.0,600.5 185.0,600.4 186.9,600.4 188.8,600.4 190.7,600.3 192.6,600.3 194.5,600.2 196.4,600.1 198.3,600.1 200.3,600.0 202.2,599.9 204.1,599.9 206.0,599.8 207.9,599.7 209.8,599.6 211.7,599.5 213.7,599.4 215.6,599.3 217.5,599.1 219.4,599.0 221.3,598.8 223.2,598.7 225.1,598.5 227.0,598.3 229.0,598.1 230.9,597.9 232.8,597.7 234.7,597.4" class="ln" stroke="#2ca51f"/>
<g fill="#2ca51f"><circle cx="83.6" cy="600.9" r="3.1"/><circle cx="109.6" cy="600.9" r="3.1"/><circle cx="134.6" cy="600.9" r="3.1"/><circle cx="159.6" cy="600.9" r="3.1"/><circle cx="184.7" cy="600.2" r="3.1"/><circle cx="209.7" cy="599.7" r="3.1"/><circle cx="234.7" cy="597.4" r="3.1"/></g>
<polyline points="83.6,601.1 85.5,601.1 87.4,601.1 89.3,601.1 91.2,601.1 93.1,601.1 95.0,601.1 97.0,601.1 98.9,601.1 100.8,601.0 102.7,601.0 104.6,601.0 106.5,601.0 108.4,601.0 110.3,601.0 112.3,601.0 114.2,600.9 116.1,600.9 118.0,600.9 119.9,600.9 121.8,600.8 123.7,600.8 125.6,600.8 127.6,600.7 129.5,600.7 131.4,600.6 133.3,600.6 135.2,600.5 137.1,600.4 139.0,600.3 141.0,600.2 142.9,600.1 144.8,600.0 146.7,599.9 148.6,599.8 150.5,599.6 152.4,599.4 154.3,599.2 156.3,599.0 158.2,598.8 160.1,598.5 162.0,598.3 163.9,597.9 165.8,597.6 167.7,597.2 169.7,596.8 171.6,596.3 173.5,595.8 175.4,595.3 177.3,594.7 179.2,594.0 181.1,593.3 183.0,592.6 185.0,591.7 186.9,590.9 188.8,589.9 190.7,588.9 192.6,587.9 194.5,586.8 196.4,585.6 198.3,584.4 200.3,583.2 202.2,581.9 204.1,580.5 206.0,579.2 207.9,577.8 209.8,576.4 211.7,575.1 213.7,573.7 215.6,572.3 217.5,571.0 219.4,569.7 221.3,568.4 223.2,567.2 225.1,566.0 227.0,564.9 229.0,563.8 230.9,562.8 232.8,561.8 234.7,560.9" class="ln" stroke="#ff2a92"/>
<g fill="#ff2a92"><circle cx="83.6" cy="600.9" r="3.1"/><circle cx="109.6" cy="600.9" r="3.1"/><circle cx="134.6" cy="600.9" r="3.1"/><circle cx="159.6" cy="598.5" r="3.1"/><circle cx="184.7" cy="591.9" r="3.1"/><circle cx="209.7" cy="576.6" r="3.1"/><circle cx="234.7" cy="560.9" r="3.1"/></g>
<polyline points="83.6,600.4 85.5,600.4 87.4,600.4 89.3,600.3 91.2,600.3 93.1,600.3 95.0,600.3 97.0,600.2 98.9,600.2 100.8,600.2 102.7,600.1 104.6,600.1 106.5,600.0 108.4,600.0 110.3,599.9 112.3,599.8 114.2,599.7 116.1,599.6 118.0,599.5 119.9,599.4 121.8,599.3 123.7,599.1 125.6,599.0 127.6,598.8 129.5,598.6 131.4,598.4 133.3,598.1 135.2,597.8 137.1,597.5 139.0,597.2 141.0,596.8 142.9,596.3 144.8,595.8 146.7,595.3 148.6,594.7 150.5,594.1 152.4,593.3 154.3,592.5 156.3,591.7 158.2,590.7 160.1,589.7 162.0,588.5 163.9,587.3 165.8,586.0 167.7,584.5 169.7,583.0 171.6,581.3 173.5,579.5 175.4,577.7 177.3,575.7 179.2,573.6 181.1,571.4 183.0,569.2 185.0,566.9 186.9,564.5 188.8,562.1 190.7,559.6 192.6,557.1 194.5,554.7 196.4,552.2 198.3,549.8 200.3,547.5 202.2,545.2 204.1,543.0 206.0,540.8 207.9,538.8 209.8,536.8 211.7,535.0 213.7,533.3 215.6,531.7 217.5,530.2 219.4,528.8 221.3,527.5 223.2,526.3 225.1,525.2 227.0,524.2 229.0,523.3 230.9,522.4 232.8,521.7 234.7,521.0" class="ln" stroke="#7b73c2"/>
<g fill="#7b73c2"><circle cx="83.6" cy="600.2" r="3.1"/><circle cx="109.6" cy="599.7" r="3.1"/><circle cx="134.6" cy="598.5" r="3.1"/><circle cx="159.6" cy="589.8" r="3.1"/><circle cx="184.7" cy="567.2" r="3.1"/><circle cx="209.7" cy="537.1" r="3.1"/><circle cx="234.7" cy="520.9" r="3.1"/></g>
<polyline points="83.6,598.6 85.5,598.5 87.4,598.4 89.3,598.3 91.2,598.2 93.1,598.1 95.0,598.0 97.0,597.8 98.9,597.7 100.8,597.5 102.7,597.3 104.6,597.1 106.5,596.8 108.4,596.6 110.3,596.3 112.3,595.9 114.2,595.6 116.1,595.2 118.0,594.7 119.9,594.2 121.8,593.7 123.7,593.1 125.6,592.4 127.6,591.7 129.5,590.9 131.4,590.0 133.3,589.1 135.2,588.0 137.1,586.9 139.0,585.7 141.0,584.4 142.9,583.0 144.8,581.5 146.7,580.0 148.6,578.3 150.5,576.5 152.4,574.6 154.3,572.6 156.3,570.5 158.2,568.4 160.1,566.2 162.0,563.9 163.9,561.6 165.8,559.3 167.7,556.9 169.7,554.5 171.6,552.1 173.5,549.8 175.4,547.4 177.3,545.2 179.2,543.0 181.1,540.8 183.0,538.7 185.0,536.8 186.9,534.9 188.8,533.1 190.7,531.4 192.6,529.8 194.5,528.3 196.4,526.9 198.3,525.6 200.3,524.4 202.2,523.3 204.1,522.2 206.0,521.3 207.9,520.4 209.8,519.6 211.7,518.9 213.7,518.2 215.6,517.6 217.5,517.1 219.4,516.6 221.3,516.1 223.2,515.7 225.1,515.4 227.0,515.0 229.0,514.7 230.9,514.4 232.8,514.2 234.7,514.0" class="ln" stroke="#ff6a10"/>
<g fill="#ff6a10"><circle cx="83.6" cy="598.0" r="3.1"/><circle cx="109.6" cy="596.2" r="3.1"/><circle cx="134.6" cy="589.8" r="3.1"/><circle cx="159.6" cy="566.1" r="3.1"/><circle cx="184.7" cy="536.2" r="3.1"/><circle cx="209.7" cy="522.3" r="3.1"/><circle cx="234.7" cy="512.2" r="3.1"/></g>
<polyline points="83.6,598.4 85.5,598.4 87.4,598.4 89.3,598.4 91.2,598.3 93.1,598.3 95.0,598.3 97.0,598.3 98.9,598.3 100.8,598.3 102.7,598.3 104.6,598.2 106.5,598.2 108.4,598.2 110.3,598.2 112.3,598.1 114.2,598.1 116.1,598.0 118.0,598.0 119.9,597.9 121.8,597.9 123.7,597.8 125.6,597.7 127.6,597.6 129.5,597.5 131.4,597.4 133.3,597.3 135.2,597.1 137.1,597.0 139.0,596.8 141.0,596.6 142.9,596.4 144.8,596.2 146.7,595.9 148.6,595.6 150.5,595.3 152.4,594.9 154.3,594.5 156.3,594.0 158.2,593.5 160.1,592.9 162.0,592.3 163.9,591.6 165.8,590.9 167.7,590.0 169.7,589.1 171.6,588.1 173.5,587.1 175.4,585.9 177.3,584.6 179.2,583.3 181.1,581.8 183.0,580.3 185.0,578.6 186.9,576.9 188.8,575.0 190.7,573.1 192.6,571.1 194.5,569.1 196.4,567.0 198.3,564.8 200.3,562.6 202.2,560.4 204.1,558.2 206.0,556.0 207.9,553.9 209.8,551.8 211.7,549.7 213.7,547.7 215.6,545.8 217.5,544.0 219.4,542.2 221.3,540.6 223.2,539.0 225.1,537.6 227.0,536.2 229.0,534.9 230.9,533.8 232.8,532.7 234.7,531.7" class="ln" stroke="#16a07c"/>
<g fill="#16a07c"><circle cx="83.6" cy="600.2" r="3.1"/><circle cx="109.6" cy="599.7" r="3.1"/><circle cx="134.6" cy="592.7" r="3.1"/><circle cx="159.6" cy="594.0" r="3.1"/><circle cx="184.7" cy="579.3" r="3.1"/><circle cx="209.7" cy="551.5" r="3.1"/><circle cx="234.7" cy="531.9" r="3.1"/></g>
<text x="443.3" y="441.2" class="tt">14E</text>
<path d="M335.9 459.5V601.7H550.7" class="ax"/>
<path d="M332.3 601.7H335.9M332.3 554.3H335.9M332.3 506.9H335.9M332.3 459.5H335.9M335.9 601.7v3.6M346.7 601.7v2.2M353.0 601.7v2.2M357.5 601.7v2.2M360.9 601.7v2.2M363.8 601.7v2.2M366.2 601.7v2.2M368.2 601.7v2.2M370.1 601.7v2.2M371.7 601.7v3.6M382.5 601.7v2.2M388.8 601.7v2.2M393.3 601.7v2.2M396.7 601.7v2.2M399.6 601.7v2.2M402.0 601.7v2.2M404.0 601.7v2.2M405.9 601.7v2.2M407.5 601.7v3.6M418.3 601.7v2.2M424.6 601.7v2.2M429.1 601.7v2.2M432.5 601.7v2.2M435.4 601.7v2.2M437.8 601.7v2.2M439.8 601.7v2.2M441.7 601.7v2.2M443.3 601.7v3.6M454.1 601.7v2.2M460.4 601.7v2.2M464.9 601.7v2.2M468.3 601.7v2.2M471.2 601.7v2.2M473.6 601.7v2.2M475.6 601.7v2.2M477.5 601.7v2.2M479.1 601.7v3.6M489.9 601.7v2.2M496.2 601.7v2.2M500.7 601.7v2.2M504.1 601.7v2.2M507.0 601.7v2.2M509.4 601.7v2.2M511.4 601.7v2.2M513.3 601.7v2.2M514.9 601.7v3.6M525.7 601.7v2.2M532.0 601.7v2.2M536.5 601.7v2.2M539.9 601.7v2.2M542.8 601.7v2.2M545.2 601.7v2.2M547.2 601.7v2.2M549.1 601.7v2.2M550.7 601.7v3.6" class="tk"/>
<text x="330.7" y="605.6" class="yl">0.0</text>
<text x="330.7" y="558.2" class="yl">0.5</text>
<text x="330.7" y="510.8" class="yl">1.0</text>
<text x="330.7" y="463.4" class="yl">1.5</text>
<text x="335.9" y="617.9" class="xl">0.001</text>
<text x="371.7" y="617.9" class="xl">0.01</text>
<text x="407.5" y="617.9" class="xl">0.1</text>
<text x="443.3" y="617.9" class="xl">1</text>
<text x="479.1" y="617.9" class="xl">10</text>
<text x="514.9" y="617.9" class="xl">100</text>
<text x="550.7" y="617.9" class="xl">1000</text>
<polyline points="363.8,600.4 365.7,600.3 367.6,600.2 369.5,600.1 371.4,600.0 373.3,599.8 375.2,599.7 377.2,599.5 379.1,599.3 381.0,599.1 382.9,598.9 384.8,598.6 386.7,598.3 388.6,598.0 390.5,597.6 392.5,597.2 394.4,596.7 396.3,596.2 398.2,595.7 400.1,595.1 402.0,594.4 403.9,593.7 405.8,592.9 407.8,592.1 409.7,591.1 411.6,590.1 413.5,589.0 415.4,587.8 417.3,586.5 419.2,585.1 421.2,583.6 423.1,582.0 425.0,580.3 426.9,578.5 428.8,576.6 430.7,574.6 432.6,572.5 434.5,570.3 436.5,568.1 438.4,565.8 440.3,563.4 442.2,561.0 444.1,558.6 446.0,556.2 447.9,553.8 449.9,551.4 451.8,549.1 453.7,546.7 455.6,544.5 457.5,542.3 459.4,540.2 461.3,538.2 463.2,536.3 465.2,534.5 467.1,532.7 469.0,531.1 470.9,529.6 472.8,528.2 474.7,526.9 476.6,525.6 478.5,524.5 480.5,523.5 482.4,522.5 484.3,521.6 486.2,520.8 488.1,520.1 490.0,519.4 491.9,518.8 493.9,518.3 495.8,517.8 497.7,517.3 499.6,516.9 501.5,516.5 503.4,516.2 505.3,515.9 507.2,515.6 509.2,515.3 511.1,515.1 513.0,514.9 514.9,514.7" class="ln" stroke="#2ca51f"/>
<g fill="#2ca51f"><circle cx="363.8" cy="599.7" r="3.1"/><circle cx="389.8" cy="598.0" r="3.1"/><circle cx="414.8" cy="589.3" r="3.1"/><circle cx="439.8" cy="563.2" r="3.1"/><circle cx="464.9" cy="534.5" r="3.1"/><circle cx="489.9" cy="521.4" r="3.1"/><circle cx="514.9" cy="513.3" r="3.1"/></g>
<polyline points="363.8,595.0 365.7,594.8 367.6,594.5 369.5,594.3 371.4,594.0 373.3,593.7 375.2,593.3 377.2,592.9 379.1,592.5 381.0,592.0 382.9,591.4 384.8,590.8 386.7,590.2 388.6,589.5 390.5,588.7 392.5,587.9 394.4,587.0 396.3,586.0 398.2,584.9 400.1,583.8 402.0,582.6 403.9,581.2 405.8,579.8 407.8,578.3 409.7,576.7 411.6,575.0 413.5,573.2 415.4,571.4 417.3,569.4 419.2,567.4 421.2,565.4 423.1,563.3 425.0,561.1 426.9,558.9 428.8,556.7 430.7,554.5 432.6,552.4 434.5,550.2 436.5,548.1 438.4,546.0 440.3,544.0 442.2,542.0 444.1,540.1 446.0,538.3 447.9,536.6 449.9,534.9 451.8,533.4 453.7,531.9 455.6,530.5 457.5,529.3 459.4,528.1 461.3,527.0 463.2,526.0 465.2,525.0 467.1,524.2 469.0,523.4 470.9,522.6 472.8,522.0 474.7,521.4 476.6,520.8 478.5,520.3 480.5,519.8 482.4,519.4 484.3,519.0 486.2,518.7 488.1,518.4 490.0,518.1 491.9,517.9 493.9,517.6 495.8,517.4 497.7,517.2 499.6,517.1 501.5,516.9 503.4,516.8 505.3,516.7 507.2,516.5 509.2,516.4 511.1,516.4 513.0,516.3 514.9,516.2" class="ln" stroke="#ff2a92"/>
<g fill="#ff2a92"><circle cx="363.8" cy="594.5" r="3.1"/><circle cx="389.8" cy="589.3" r="3.1"/><circle cx="414.8" cy="573.1" r="3.1"/><circle cx="439.8" cy="542.8" r="3.1"/><circle cx="464.9" cy="524.9" r="3.1"/><circle cx="489.9" cy="524.4" r="3.1"/><circle cx="514.9" cy="511.0" r="3.1"/></g>
<polyline points="363.8,590.6 365.7,590.3 367.6,589.9 369.5,589.5 371.4,589.0 373.3,588.5 375.2,587.9 377.2,587.3 379.1,586.6 381.0,585.8 382.9,584.9 384.8,584.0 386.7,582.9 388.6,581.8 390.5,580.5 392.5,579.2 394.4,577.7 396.3,576.1 398.2,574.4 400.1,572.6 402.0,570.7 403.9,568.6 405.8,566.5 407.8,564.2 409.7,561.9 411.6,559.5 413.5,557.0 415.4,554.5 417.3,552.0 419.2,549.5 421.2,546.9 423.1,544.4 425.0,542.0 426.9,539.6 428.8,537.3 430.7,535.0 432.6,532.9 434.5,530.9 436.5,528.9 438.4,527.1 440.3,525.5 442.2,523.9 444.1,522.4 446.0,521.1 447.9,519.8 449.9,518.7 451.8,517.7 453.7,516.7 455.6,515.9 457.5,515.1 459.4,514.4 461.3,513.8 463.2,513.2 465.2,512.7 467.1,512.2 469.0,511.8 470.9,511.5 472.8,511.1 474.7,510.8 476.6,510.6 478.5,510.3 480.5,510.1 482.4,509.9 484.3,509.8 486.2,509.6 488.1,509.5 490.0,509.4 491.9,509.3 493.9,509.2 495.8,509.1 497.7,509.0 499.6,509.0 501.5,508.9 503.4,508.8 505.3,508.8 507.2,508.8 509.2,508.7 511.1,508.7 513.0,508.7 514.9,508.6" class="ln" stroke="#7b73c2"/>
<g fill="#7b73c2"><circle cx="363.8" cy="590.1" r="3.1"/><circle cx="389.8" cy="581.8" r="3.1"/><circle cx="414.8" cy="555.0" r="3.1"/><circle cx="439.8" cy="525.4" r="3.1"/><circle cx="464.9" cy="514.5" r="3.1"/><circle cx="489.9" cy="508.4" r="3.1"/><circle cx="514.9" cy="508.4" r="3.1"/></g>
<polyline points="363.8,590.4 365.7,590.1 367.6,589.7 369.5,589.3 371.4,588.8 373.3,588.3 375.2,587.8 377.2,587.1 379.1,586.5 381.0,585.7 382.9,584.9 384.8,584.0 386.7,583.1 388.6,582.0 390.5,580.9 392.5,579.7 394.4,578.3 396.3,576.9 398.2,575.4 400.1,573.7 402.0,572.0 403.9,570.1 405.8,568.1 407.8,566.1 409.7,563.9 411.6,561.6 413.5,559.3 415.4,556.9 417.3,554.4 419.2,551.9 421.2,549.4 423.1,546.8 425.0,544.3 426.9,541.7 428.8,539.2 430.7,536.7 432.6,534.3 434.5,531.9 436.5,529.7 438.4,527.5 440.3,525.4 442.2,523.4 444.1,521.5 446.0,519.7 447.9,518.0 449.9,516.4 451.8,515.0 453.7,513.6 455.6,512.4 457.5,511.2 459.4,510.1 461.3,509.1 463.2,508.2 465.2,507.4 467.1,506.6 469.0,505.9 470.9,505.3 472.8,504.7 474.7,504.2 476.6,503.8 478.5,503.3 480.5,502.9 482.4,502.6 484.3,502.3 486.2,502.0 488.1,501.7 490.0,501.5 491.9,501.3 493.9,501.1 495.8,500.9 497.7,500.8 499.6,500.7 501.5,500.5 503.4,500.4 505.3,500.3 507.2,500.2 509.2,500.2 511.1,500.1 513.0,500.0 514.9,500.0" class="ln" stroke="#ff6a10"/>
<g fill="#ff6a10"><circle cx="363.8" cy="590.1" r="3.1"/><circle cx="389.8" cy="581.8" r="3.1"/><circle cx="414.8" cy="557.4" r="3.1"/><circle cx="439.8" cy="526.1" r="3.1"/><circle cx="464.9" cy="506.3" r="3.1"/><circle cx="489.9" cy="504.9" r="3.1"/><circle cx="514.9" cy="497.6" r="3.1"/></g>
<polyline points="363.8,597.0 365.7,596.8 367.6,596.7 369.5,596.5 371.4,596.3 373.3,596.1 375.2,595.9 377.2,595.6 379.1,595.3 381.0,595.0 382.9,594.6 384.8,594.2 386.7,593.8 388.6,593.3 390.5,592.8 392.5,592.2 394.4,591.5 396.3,590.8 398.2,590.0 400.1,589.1 402.0,588.2 403.9,587.1 405.8,586.0 407.8,584.8 409.7,583.4 411.6,582.0 413.5,580.4 415.4,578.7 417.3,576.9 419.2,575.0 421.2,573.0 423.1,570.8 425.0,568.6 426.9,566.2 428.8,563.8 430.7,561.3 432.6,558.7 434.5,556.0 436.5,553.3 438.4,550.6 440.3,547.9 442.2,545.2 444.1,542.5 446.0,539.9 447.9,537.3 449.9,534.7 451.8,532.3 453.7,530.0 455.6,527.7 457.5,525.6 459.4,523.6 461.3,521.7 463.2,519.9 465.2,518.3 467.1,516.7 469.0,515.3 470.9,514.0 472.8,512.7 474.7,511.6 476.6,510.6 478.5,509.6 480.5,508.8 482.4,508.0 484.3,507.3 486.2,506.6 488.1,506.0 490.0,505.5 491.9,505.0 493.9,504.6 495.8,504.2 497.7,503.9 499.6,503.5 501.5,503.3 503.4,503.0 505.3,502.8 507.2,502.6 509.2,502.4 511.1,502.2 513.0,502.1 514.9,501.9" class="ln" stroke="#16a07c"/>
<g fill="#16a07c"><circle cx="363.8" cy="596.2" r="3.1"/><circle cx="389.8" cy="594.0" r="3.1"/><circle cx="414.8" cy="579.3" r="3.1"/><circle cx="439.8" cy="547.5" r="3.1"/><circle cx="464.9" cy="520.9" r="3.1"/><circle cx="489.9" cy="501.8" r="3.1"/><circle cx="514.9" cy="504.0" r="3.1"/></g>
<text x="722.4" y="441.2" class="tt">19b</text>
<path d="M615.0 459.5V601.7H829.8" class="ax"/>
<path d="M611.4 601.7H615.0M611.4 554.3H615.0M611.4 506.9H615.0M611.4 459.5H615.0M615.0 601.7v3.6M625.8 601.7v2.2M632.1 601.7v2.2M636.6 601.7v2.2M640.0 601.7v2.2M642.9 601.7v2.2M645.3 601.7v2.2M647.3 601.7v2.2M649.2 601.7v2.2M650.8 601.7v3.6M661.6 601.7v2.2M667.9 601.7v2.2M672.4 601.7v2.2M675.8 601.7v2.2M678.7 601.7v2.2M681.1 601.7v2.2M683.1 601.7v2.2M685.0 601.7v2.2M686.6 601.7v3.6M697.4 601.7v2.2M703.7 601.7v2.2M708.2 601.7v2.2M711.6 601.7v2.2M714.5 601.7v2.2M716.9 601.7v2.2M718.9 601.7v2.2M720.8 601.7v2.2M722.4 601.7v3.6M733.2 601.7v2.2M739.5 601.7v2.2M744.0 601.7v2.2M747.4 601.7v2.2M750.3 601.7v2.2M752.7 601.7v2.2M754.7 601.7v2.2M756.6 601.7v2.2M758.2 601.7v3.6M769.0 601.7v2.2M775.3 601.7v2.2M779.8 601.7v2.2M783.2 601.7v2.2M786.1 601.7v2.2M788.5 601.7v2.2M790.5 601.7v2.2M792.4 601.7v2.2M794.0 601.7v3.6M804.8 601.7v2.2M811.1 601.7v2.2M815.6 601.7v2.2M819.0 601.7v2.2M821.9 601.7v2.2M824.3 601.7v2.2M826.3 601.7v2.2M828.2 601.7v2.2M829.8 601.7v3.6" class="tk"/>
<text x="609.8" y="605.6" class="yl">0.0</text>
<text x="609.8" y="558.2" class="yl">0.5</text>
<text x="609.8" y="510.8" class="yl">1.0</text>
<text x="609.8" y="463.4" class="yl">1.5</text>
<text x="615.0" y="617.9" class="xl">0.001</text>
<text x="650.8" y="617.9" class="xl">0.01</text>
<text x="686.6" y="617.9" class="xl">0.1</text>
<text x="722.4" y="617.9" class="xl">1</text>
<text x="758.2" y="617.9" class="xl">10</text>
<text x="794.0" y="617.9" class="xl">100</text>
<text x="829.8" y="617.9" class="xl">1000</text>
<polyline points="642.9,599.5 644.8,599.4 646.7,599.2 648.6,599.1 650.5,599.0 652.4,598.9 654.3,598.7 656.3,598.5 658.2,598.3 660.1,598.1 662.0,597.9 663.9,597.6 665.8,597.3 667.7,597.0 669.6,596.7 671.6,596.3 673.5,595.9 675.4,595.5 677.3,595.0 679.2,594.5 681.1,593.9 683.0,593.3 684.9,592.6 686.9,591.8 688.8,591.0 690.7,590.2 692.6,589.2 694.5,588.2 696.4,587.1 698.3,586.0 700.3,584.7 702.2,583.4 704.1,582.0 706.0,580.5 707.9,578.9 709.8,577.2 711.7,575.5 713.6,573.6 715.6,571.7 717.5,569.7 719.4,567.7 721.3,565.6 723.2,563.4 725.1,561.2 727.0,559.0 729.0,556.8 730.9,554.5 732.8,552.3 734.7,550.0 736.6,547.8 738.5,545.6 740.4,543.5 742.3,541.4 744.3,539.4 746.2,537.5 748.1,535.6 750.0,533.8 751.9,532.1 753.8,530.4 755.7,528.9 757.6,527.4 759.6,526.0 761.5,524.7 763.4,523.5 765.3,522.4 767.2,521.3 769.1,520.4 771.0,519.5 773.0,518.6 774.9,517.8 776.8,517.1 778.7,516.5 780.6,515.9 782.5,515.3 784.4,514.8 786.3,514.3 788.3,513.9 790.2,513.5 792.1,513.2 794.0,512.8" class="ln" stroke="#2ca51f"/>
<g fill="#2ca51f"><circle cx="642.9" cy="599.2" r="3.1"/><circle cx="668.9" cy="596.7" r="3.1"/><circle cx="693.9" cy="589.3" r="3.1"/><circle cx="718.9" cy="567.9" r="3.1"/><circle cx="744.0" cy="539.3" r="3.1"/><circle cx="769.0" cy="521.4" r="3.1"/><circle cx="794.0" cy="512.2" r="3.1"/></g>
<polyline points="642.9,598.7 644.8,598.4 646.7,598.0 648.6,597.6 650.5,597.2 652.4,596.8 654.3,596.4 656.3,595.9 658.2,595.3 660.1,594.7 662.0,594.1 663.9,593.5 665.8,592.8 667.7,592.0 669.6,591.2 671.6,590.4 673.5,589.4 675.4,588.5 677.3,587.5 679.2,586.4 681.1,585.2 683.0,584.0 684.9,582.7 686.9,581.4 688.8,580.0 690.7,578.6 692.6,577.0 694.5,575.5 696.4,573.8 698.3,572.2 700.3,570.4 702.2,568.6 704.1,566.8 706.0,565.0 707.9,563.1 709.8,561.2 711.7,559.3 713.6,557.3 715.6,555.4 717.5,553.4 719.4,551.5 721.3,549.6 723.2,547.7 725.1,545.8 727.0,544.0 729.0,542.2 730.9,540.5 732.8,538.8 734.7,537.1 736.6,535.6 738.5,534.0 740.4,532.6 742.3,531.1 744.3,529.8 746.2,528.5 748.1,527.3 750.0,526.1 751.9,525.0 753.8,524.0 755.7,523.0 757.6,522.1 759.6,521.2 761.5,520.4 763.4,519.6 765.3,518.9 767.2,518.2 769.1,517.6 771.0,517.0 773.0,516.5 774.9,516.0 776.8,515.5 778.7,515.1 780.6,514.7 782.5,514.3 784.4,513.9 786.3,513.6 788.3,513.3 790.2,513.0 792.1,512.8 794.0,512.6" class="ln" stroke="#ff2a92"/>
<g fill="#ff2a92"><circle cx="642.9" cy="598.0" r="3.1"/><circle cx="668.9" cy="591.9" r="3.1"/><circle cx="693.9" cy="577.6" r="3.1"/><circle cx="718.9" cy="549.8" r="3.1"/><circle cx="744.0" cy="530.1" r="3.1"/><circle cx="769.0" cy="520.9" r="3.1"/><circle cx="794.0" cy="510.1" r="3.1"/></g>
<polyline points="642.9,594.6 644.8,594.3 646.7,594.0 648.6,593.7 650.5,593.3 652.4,592.9 654.3,592.4 656.3,591.8 658.2,591.2 660.1,590.5 662.0,589.7 663.9,588.8 665.8,587.9 667.7,586.8 669.6,585.6 671.6,584.3 673.5,582.8 675.4,581.2 677.3,579.5 679.2,577.6 681.1,575.6 683.0,573.4 684.9,571.0 686.9,568.5 688.8,565.9 690.7,563.1 692.6,560.3 694.5,557.3 696.4,554.3 698.3,551.2 700.3,548.1 702.2,545.0 704.1,541.9 706.0,538.8 707.9,535.9 709.8,533.0 711.7,530.2 713.6,527.6 715.6,525.1 717.5,522.8 719.4,520.6 721.3,518.5 723.2,516.6 725.1,514.9 727.0,513.3 729.0,511.8 730.9,510.5 732.8,509.3 734.7,508.2 736.6,507.2 738.5,506.4 740.4,505.6 742.3,504.9 744.3,504.3 746.2,503.7 748.1,503.2 750.0,502.8 751.9,502.4 753.8,502.0 755.7,501.7 757.6,501.4 759.6,501.2 761.5,501.0 763.4,500.8 765.3,500.6 767.2,500.5 769.1,500.4 771.0,500.2 773.0,500.1 774.9,500.1 776.8,500.0 778.7,499.9 780.6,499.8 782.5,499.8 784.4,499.7 786.3,499.7 788.3,499.7 790.2,499.6 792.1,499.6 794.0,499.6" class="ln" stroke="#7b73c2"/>
<g fill="#7b73c2"><circle cx="642.9" cy="595.0" r="3.1"/><circle cx="668.9" cy="585.3" r="3.1"/><circle cx="693.9" cy="559.2" r="3.1"/><circle cx="718.9" cy="519.7" r="3.1"/><circle cx="744.0" cy="506.3" r="3.1"/><circle cx="769.0" cy="500.0" r="3.1"/><circle cx="794.0" cy="498.8" r="3.1"/></g>
<polyline points="642.9,593.7 644.8,593.5 646.7,593.2 648.6,593.0 650.5,592.7 652.4,592.3 654.3,592.0 656.3,591.5 658.2,591.0 660.1,590.5 662.0,589.8 663.9,589.1 665.8,588.3 667.7,587.4 669.6,586.4 671.6,585.3 673.5,584.1 675.4,582.7 677.3,581.2 679.2,579.5 681.1,577.6 683.0,575.6 684.9,573.4 686.9,571.1 688.8,568.6 690.7,565.9 692.6,563.1 694.5,560.1 696.4,557.0 698.3,553.8 700.3,550.6 702.2,547.3 704.1,543.9 706.0,540.6 707.9,537.4 709.8,534.2 711.7,531.1 713.6,528.1 715.6,525.3 717.5,522.6 719.4,520.1 721.3,517.8 723.2,515.6 725.1,513.6 727.0,511.7 729.0,510.0 730.9,508.5 732.8,507.1 734.7,505.9 736.6,504.7 738.5,503.7 740.4,502.8 742.3,502.0 744.3,501.3 746.2,500.7 748.1,500.2 750.0,499.7 751.9,499.2 753.8,498.8 755.7,498.5 757.6,498.2 759.6,497.9 761.5,497.7 763.4,497.5 765.3,497.3 767.2,497.2 769.1,497.0 771.0,496.9 773.0,496.8 774.9,496.7 776.8,496.6 778.7,496.6 780.6,496.5 782.5,496.5 784.4,496.4 786.3,496.4 788.3,496.3 790.2,496.3 792.1,496.3 794.0,496.2" class="ln" stroke="#ff6a10"/>
<g fill="#ff6a10"><circle cx="642.9" cy="595.0" r="3.1"/><circle cx="668.9" cy="585.3" r="3.1"/><circle cx="693.9" cy="560.9" r="3.1"/><circle cx="718.9" cy="522.7" r="3.1"/><circle cx="744.0" cy="496.6" r="3.1"/><circle cx="769.0" cy="498.3" r="3.1"/><circle cx="794.0" cy="498.3" r="3.1"/></g>
<polyline points="642.9,598.1 644.8,598.0 646.7,597.9 648.6,597.8 650.5,597.7 652.4,597.5 654.3,597.4 656.3,597.2 658.2,596.9 660.1,596.7 662.0,596.4 663.9,596.1 665.8,595.7 667.7,595.3 669.6,594.8 671.6,594.3 673.5,593.7 675.4,593.0 677.3,592.3 679.2,591.4 681.1,590.5 683.0,589.4 684.9,588.3 686.9,587.0 688.8,585.6 690.7,584.0 692.6,582.3 694.5,580.5 696.4,578.5 698.3,576.4 700.3,574.1 702.2,571.7 704.1,569.2 706.0,566.5 707.9,563.8 709.8,560.9 711.7,558.1 713.6,555.1 715.6,552.2 717.5,549.3 719.4,546.5 721.3,543.7 723.2,541.0 725.1,538.4 727.0,535.9 729.0,533.6 730.9,531.4 732.8,529.4 734.7,527.5 736.6,525.7 738.5,524.1 740.4,522.6 742.3,521.3 744.3,520.1 746.2,519.0 748.1,518.0 750.0,517.1 751.9,516.3 753.8,515.6 755.7,515.0 757.6,514.4 759.6,513.9 761.5,513.5 763.4,513.1 765.3,512.8 767.2,512.5 769.1,512.2 771.0,512.0 773.0,511.8 774.9,511.6 776.8,511.4 778.7,511.3 780.6,511.1 782.5,511.0 784.4,510.9 786.3,510.9 788.3,510.8 790.2,510.7 792.1,510.7 794.0,510.6" class="ln" stroke="#16a07c"/>
<g fill="#16a07c"><circle cx="642.9" cy="598.8" r="3.1"/><circle cx="668.9" cy="594.5" r="3.1"/><circle cx="693.9" cy="580.6" r="3.1"/><circle cx="718.9" cy="548.0" r="3.1"/><circle cx="744.0" cy="519.2" r="3.1"/><circle cx="769.0" cy="511.9" r="3.1"/><circle cx="794.0" cy="511.5" r="3.1"/></g>
<text x="1001.9" y="441.2" class="tt">17b</text>
<path d="M894.5 459.5V601.7H1109.3" class="ax"/>
<path d="M890.9 601.7H894.5M890.9 554.3H894.5M890.9 506.9H894.5M890.9 459.5H894.5M894.5 601.7v3.6M905.3 601.7v2.2M911.6 601.7v2.2M916.1 601.7v2.2M919.5 601.7v2.2M922.4 601.7v2.2M924.8 601.7v2.2M926.8 601.7v2.2M928.7 601.7v2.2M930.3 601.7v3.6M941.1 601.7v2.2M947.4 601.7v2.2M951.9 601.7v2.2M955.3 601.7v2.2M958.2 601.7v2.2M960.6 601.7v2.2M962.6 601.7v2.2M964.5 601.7v2.2M966.1 601.7v3.6M976.9 601.7v2.2M983.2 601.7v2.2M987.7 601.7v2.2M991.1 601.7v2.2M994.0 601.7v2.2M996.4 601.7v2.2M998.4 601.7v2.2M1000.3 601.7v2.2M1001.9 601.7v3.6M1012.7 601.7v2.2M1019.0 601.7v2.2M1023.5 601.7v2.2M1026.9 601.7v2.2M1029.8 601.7v2.2M1032.2 601.7v2.2M1034.2 601.7v2.2M1036.1 601.7v2.2M1037.7 601.7v3.6M1048.5 601.7v2.2M1054.8 601.7v2.2M1059.3 601.7v2.2M1062.7 601.7v2.2M1065.6 601.7v2.2M1068.0 601.7v2.2M1070.0 601.7v2.2M1071.9 601.7v2.2M1073.5 601.7v3.6M1084.3 601.7v2.2M1090.6 601.7v2.2M1095.1 601.7v2.2M1098.5 601.7v2.2M1101.4 601.7v2.2M1103.8 601.7v2.2M1105.8 601.7v2.2M1107.7 601.7v2.2M1109.3 601.7v3.6" class="tk"/>
<text x="889.3" y="605.6" class="yl">0.0</text>
<text x="889.3" y="558.2" class="yl">0.5</text>
<text x="889.3" y="510.8" class="yl">1.0</text>
<text x="889.3" y="463.4" class="yl">1.5</text>
<text x="894.5" y="617.9" class="xl">0.001</text>
<text x="930.3" y="617.9" class="xl">0.01</text>
<text x="966.1" y="617.9" class="xl">0.1</text>
<text x="1001.9" y="617.9" class="xl">1</text>
<text x="1037.7" y="617.9" class="xl">10</text>
<text x="1073.5" y="617.9" class="xl">100</text>
<text x="1109.3" y="617.9" class="xl">1000</text>
<polyline points="922.4,600.2 924.3,600.2 926.2,600.2 928.1,600.2 930.0,600.2 931.9,600.2 933.8,600.2 935.8,600.2 937.7,600.2 939.6,600.2 941.5,600.2 943.4,600.2 945.3,600.2 947.2,600.2 949.1,600.2 951.1,600.2 953.0,600.2 954.9,600.2 956.8,600.2 958.7,600.2 960.6,600.2 962.5,600.2 964.4,600.2 966.4,600.2 968.3,600.2 970.2,600.2 972.1,600.2 974.0,600.2 975.9,600.2 977.8,600.2 979.8,600.2 981.7,600.2 983.6,600.2 985.5,600.2 987.4,600.2 989.3,600.2 991.2,600.2 993.1,600.2 995.1,600.2 997.0,600.2 998.9,600.2 1000.8,600.2 1002.7,600.2 1004.6,600.2 1006.5,600.2 1008.5,600.2 1010.4,600.2 1012.3,600.2 1014.2,600.2 1016.1,600.2 1018.0,600.2 1019.9,600.2 1021.8,600.2 1023.8,600.2 1025.7,600.2 1027.6,600.2 1029.5,600.2 1031.4,600.2 1033.3,600.2 1035.2,600.2 1037.1,600.2 1039.1,600.1 1041.0,600.0 1042.9,599.9 1044.8,599.8 1046.7,599.5 1048.6,599.1 1050.5,598.6 1052.5,597.9 1054.4,597.0 1056.3,596.1 1058.2,595.2 1060.1,594.5 1062.0,593.9 1063.9,593.5 1065.8,593.2 1067.8,593.0 1069.7,592.9 1071.6,592.8 1073.5,592.7" class="ln" stroke="#2ca51f"/>
<g fill="#2ca51f"><circle cx="922.4" cy="600.2" r="3.1"/><circle cx="948.4" cy="600.2" r="3.1"/><circle cx="973.4" cy="600.2" r="3.1"/><circle cx="998.4" cy="600.2" r="3.1"/><circle cx="1023.5" cy="600.2" r="3.1"/><circle cx="1048.5" cy="599.2" r="3.1"/><circle cx="1073.5" cy="592.7" r="3.1"/></g>
<polyline points="922.4,595.6 924.3,595.6 926.2,595.5 928.1,595.4 930.0,595.3 931.9,595.1 933.8,595.0 935.8,594.9 937.7,594.7 939.6,594.5 941.5,594.3 943.4,594.1 945.3,593.9 947.2,593.6 949.1,593.4 951.1,593.0 953.0,592.7 954.9,592.3 956.8,591.9 958.7,591.5 960.6,591.0 962.5,590.4 964.4,589.8 966.4,589.2 968.3,588.5 970.2,587.7 972.1,586.9 974.0,586.0 975.9,585.1 977.8,584.0 979.8,582.9 981.7,581.7 983.6,580.5 985.5,579.1 987.4,577.7 989.3,576.2 991.2,574.6 993.1,573.0 995.1,571.3 997.0,569.5 998.9,567.6 1000.8,565.7 1002.7,563.8 1004.6,561.8 1006.5,559.8 1008.5,557.8 1010.4,555.7 1012.3,553.7 1014.2,551.7 1016.1,549.7 1018.0,547.8 1019.9,545.9 1021.8,544.1 1023.8,542.3 1025.7,540.6 1027.6,538.9 1029.5,537.4 1031.4,535.9 1033.3,534.5 1035.2,533.1 1037.1,531.9 1039.1,530.7 1041.0,529.6 1042.9,528.6 1044.8,527.7 1046.7,526.8 1048.6,526.0 1050.5,525.2 1052.5,524.5 1054.4,523.9 1056.3,523.3 1058.2,522.8 1060.1,522.3 1062.0,521.8 1063.9,521.4 1065.8,521.1 1067.8,520.7 1069.7,520.4 1071.6,520.1 1073.5,519.9" class="ln" stroke="#ff2a92"/>
<g fill="#ff2a92"><circle cx="922.4" cy="596.7" r="3.1"/><circle cx="948.4" cy="593.6" r="3.1"/><circle cx="973.4" cy="583.5" r="3.1"/><circle cx="998.4" cy="570.7" r="3.1"/><circle cx="1023.5" cy="541.1" r="3.1"/><circle cx="1048.5" cy="526.1" r="3.1"/><circle cx="1073.5" cy="520.2" r="3.1"/></g>
<polyline points="922.4,580.7 924.3,580.3 926.2,579.9 928.1,579.4 930.0,578.8 931.9,578.2 933.8,577.4 935.8,576.6 937.7,575.6 939.6,574.6 941.5,573.4 943.4,572.1 945.3,570.6 947.2,569.0 949.1,567.2 951.1,565.3 953.0,563.2 954.9,561.0 956.8,558.5 958.7,556.0 960.6,553.3 962.5,550.4 964.4,547.5 966.4,544.5 968.3,541.5 970.2,538.4 972.1,535.4 974.0,532.4 975.9,529.5 977.8,526.6 979.8,523.9 981.7,521.3 983.6,518.9 985.5,516.6 987.4,514.5 989.3,512.6 991.2,510.8 993.1,509.2 995.1,507.7 997.0,506.4 998.9,505.2 1000.8,504.1 1002.7,503.2 1004.6,502.3 1006.5,501.6 1008.5,500.9 1010.4,500.4 1012.3,499.8 1014.2,499.4 1016.1,499.0 1018.0,498.6 1019.9,498.3 1021.8,498.1 1023.8,497.8 1025.7,497.6 1027.6,497.5 1029.5,497.3 1031.4,497.2 1033.3,497.1 1035.2,497.0 1037.1,496.9 1039.1,496.8 1041.0,496.7 1042.9,496.7 1044.8,496.6 1046.7,496.6 1048.6,496.5 1050.5,496.5 1052.5,496.5 1054.4,496.4 1056.3,496.4 1058.2,496.4 1060.1,496.4 1062.0,496.4 1063.9,496.4 1065.8,496.3 1067.8,496.3 1069.7,496.3 1071.6,496.3 1073.5,496.3" class="ln" stroke="#7b73c2"/>
<g fill="#7b73c2"><circle cx="922.4" cy="581.8" r="3.1"/><circle cx="948.4" cy="566.1" r="3.1"/><circle cx="973.4" cy="534.8" r="3.1"/><circle cx="998.4" cy="504.9" r="3.1"/><circle cx="1023.5" cy="493.6" r="3.1"/><circle cx="1048.5" cy="495.9" r="3.1"/><circle cx="1073.5" cy="501.1" r="3.1"/></g>
<polyline points="922.4,580.0 924.3,579.3 926.2,578.5 928.1,577.6 930.0,576.7 931.9,575.7 933.8,574.5 935.8,573.3 937.7,571.9 939.6,570.5 941.5,568.9 943.4,567.1 945.3,565.3 947.2,563.3 949.1,561.2 951.1,559.0 953.0,556.7 954.9,554.2 956.8,551.7 958.7,549.1 960.6,546.4 962.5,543.6 964.4,540.8 966.4,538.0 968.3,535.3 970.2,532.5 972.1,529.7 974.0,527.1 975.9,524.5 977.8,522.0 979.8,519.5 981.7,517.2 983.6,515.1 985.5,513.0 987.4,511.1 989.3,509.2 991.2,507.6 993.1,506.0 995.1,504.6 997.0,503.2 998.9,502.0 1000.8,500.9 1002.7,499.9 1004.6,499.0 1006.5,498.2 1008.5,497.4 1010.4,496.7 1012.3,496.1 1014.2,495.6 1016.1,495.1 1018.0,494.6 1019.9,494.2 1021.8,493.9 1023.8,493.5 1025.7,493.2 1027.6,493.0 1029.5,492.8 1031.4,492.5 1033.3,492.4 1035.2,492.2 1037.1,492.1 1039.1,491.9 1041.0,491.8 1042.9,491.7 1044.8,491.6 1046.7,491.5 1048.6,491.5 1050.5,491.4 1052.5,491.3 1054.4,491.3 1056.3,491.2 1058.2,491.2 1060.1,491.2 1062.0,491.1 1063.9,491.1 1065.8,491.1 1067.8,491.1 1069.7,491.0 1071.6,491.0 1073.5,491.0" class="ln" stroke="#ff6a10"/>
<g fill="#ff6a10"><circle cx="922.4" cy="580.0" r="3.1"/><circle cx="948.4" cy="562.0" r="3.1"/><circle cx="973.4" cy="527.9" r="3.1"/><circle cx="998.4" cy="502.8" r="3.1"/><circle cx="1023.5" cy="493.1" r="3.1"/><circle cx="1048.5" cy="488.4" r="3.1"/><circle cx="1073.5" cy="494.1" r="3.1"/></g>
<polyline points="922.4,598.0 924.3,598.0 926.2,598.0 928.1,597.9 930.0,597.9 931.9,597.9 933.8,597.8 935.8,597.8 937.7,597.7 939.6,597.6 941.5,597.5 943.4,597.5 945.3,597.4 947.2,597.3 949.1,597.1 951.1,597.0 953.0,596.8 954.9,596.7 956.8,596.5 958.7,596.2 960.6,596.0 962.5,595.7 964.4,595.4 966.4,595.0 968.3,594.6 970.2,594.2 972.1,593.7 974.0,593.2 975.9,592.6 977.8,591.9 979.8,591.2 981.7,590.4 983.6,589.5 985.5,588.5 987.4,587.5 989.3,586.4 991.2,585.2 993.1,584.0 995.1,582.6 997.0,581.2 998.9,579.7 1000.8,578.2 1002.7,576.6 1004.6,575.0 1006.5,573.3 1008.5,571.7 1010.4,570.0 1012.3,568.3 1014.2,566.7 1016.1,565.1 1018.0,563.5 1019.9,562.0 1021.8,560.6 1023.8,559.2 1025.7,557.9 1027.6,556.7 1029.5,555.6 1031.4,554.5 1033.3,553.6 1035.2,552.7 1037.1,551.8 1039.1,551.1 1041.0,550.4 1042.9,549.8 1044.8,549.2 1046.7,548.7 1048.6,548.3 1050.5,547.9 1052.5,547.5 1054.4,547.2 1056.3,546.9 1058.2,546.6 1060.1,546.4 1062.0,546.2 1063.9,546.0 1065.8,545.8 1067.8,545.7 1069.7,545.5 1071.6,545.4 1073.5,545.3" class="ln" stroke="#16a07c"/>
<g fill="#16a07c"><circle cx="922.4" cy="598.5" r="3.1"/><circle cx="948.4" cy="597.4" r="3.1"/><circle cx="973.4" cy="592.2" r="3.1"/><circle cx="998.4" cy="580.6" r="3.1"/><circle cx="1023.5" cy="559.7" r="3.1"/><circle cx="1048.5" cy="547.0" r="3.1"/><circle cx="1073.5" cy="546.3" r="3.1"/></g>
<text x="163.1" y="652.0" class="tt">5F3</text>
<path d="M55.7 670.3V812.5H270.5" class="ax"/>
<path d="M52.1 812.5H55.7M52.1 765.1H55.7M52.1 717.7H55.7M52.1 670.3H55.7M55.7 812.5v3.6M66.5 812.5v2.2M72.8 812.5v2.2M77.3 812.5v2.2M80.7 812.5v2.2M83.6 812.5v2.2M86.0 812.5v2.2M88.0 812.5v2.2M89.9 812.5v2.2M91.5 812.5v3.6M102.3 812.5v2.2M108.6 812.5v2.2M113.1 812.5v2.2M116.5 812.5v2.2M119.4 812.5v2.2M121.8 812.5v2.2M123.8 812.5v2.2M125.7 812.5v2.2M127.3 812.5v3.6M138.1 812.5v2.2M144.4 812.5v2.2M148.9 812.5v2.2M152.3 812.5v2.2M155.2 812.5v2.2M157.6 812.5v2.2M159.6 812.5v2.2M161.5 812.5v2.2M163.1 812.5v3.6M173.9 812.5v2.2M180.2 812.5v2.2M184.7 812.5v2.2M188.1 812.5v2.2M191.0 812.5v2.2M193.4 812.5v2.2M195.4 812.5v2.2M197.3 812.5v2.2M198.9 812.5v3.6M209.7 812.5v2.2M216.0 812.5v2.2M220.5 812.5v2.2M223.9 812.5v2.2M226.8 812.5v2.2M229.2 812.5v2.2M231.2 812.5v2.2M233.1 812.5v2.2M234.7 812.5v3.6M245.5 812.5v2.2M251.8 812.5v2.2M256.3 812.5v2.2M259.7 812.5v2.2M262.6 812.5v2.2M265.0 812.5v2.2M267.0 812.5v2.2M268.9 812.5v2.2M270.5 812.5v3.6" class="tk"/>
<text x="50.5" y="816.4" class="yl">0.0</text>
<text x="50.5" y="769.0" class="yl">0.5</text>
<text x="50.5" y="721.6" class="yl">1.0</text>
<text x="50.5" y="674.2" class="yl">1.5</text>
<text x="55.7" y="828.7" class="xl">0.001</text>
<text x="91.5" y="828.7" class="xl">0.01</text>
<text x="127.3" y="828.7" class="xl">0.1</text>
<text x="163.1" y="828.7" class="xl">1</text>
<text x="198.9" y="828.7" class="xl">10</text>
<text x="234.7" y="828.7" class="xl">100</text>
<text x="270.5" y="828.7" class="xl">1000</text>
<text transform="translate(29.7 742.3) rotate(-90)" class="od">OD 450 nm</text>
<text x="163.1" y="847.0" class="cn">c / nM</text>
<polyline points="83.6,810.5 85.5,810.4 87.4,810.4 89.3,810.3 91.2,810.3 93.1,810.2 95.0,810.1 97.0,810.1 98.9,810.0 100.8,809.9 102.7,809.8 104.6,809.7 106.5,809.5 108.4,809.4 110.3,809.3 112.3,809.1 114.2,808.9 116.1,808.8 118.0,808.6 119.9,808.4 121.8,808.2 123.7,807.9 125.6,807.7 127.6,807.5 129.5,807.2 131.4,806.9 133.3,806.7 135.2,806.4 137.1,806.1 139.0,805.9 141.0,805.6 142.9,805.3 144.8,805.0 146.7,804.8 148.6,804.5 150.5,804.2 152.4,804.0 154.3,803.8 156.3,803.5 158.2,803.3 160.1,803.1 162.0,802.9 163.9,802.7 165.8,802.6 167.7,802.4 169.7,802.3 171.6,802.1 173.5,802.0 175.4,801.9 177.3,801.8 179.2,801.7 181.1,801.6 183.0,801.5 185.0,801.4 186.9,801.4 188.8,801.3 190.7,801.3 192.6,801.2 194.5,801.2 196.4,801.1 198.3,801.1 200.3,801.0 202.2,801.0 204.1,801.0 206.0,801.0 207.9,800.9 209.8,800.9 211.7,800.9 213.7,800.9 215.6,800.9 217.5,800.9 219.4,800.8 221.3,800.8 223.2,800.8 225.1,800.8 227.0,800.8 229.0,800.8 230.9,800.8 232.8,800.8 234.7,800.8" class="ln" stroke="#2ca51f"/>
<g fill="#2ca51f"><circle cx="83.6" cy="810.7" r="3.1"/><circle cx="109.6" cy="809.0" r="3.1"/><circle cx="134.6" cy="806.7" r="3.1"/><circle cx="159.6" cy="803.2" r="3.1"/><circle cx="184.7" cy="801.1" r="3.1"/><circle cx="209.7" cy="800.8" r="3.1"/><circle cx="234.7" cy="801.1" r="3.1"/></g>
<polyline points="83.6,805.1 85.5,804.9 87.4,804.6 89.3,804.3 91.2,804.0 93.1,803.6 95.0,803.1 97.0,802.6 98.9,802.0 100.8,801.2 102.7,800.4 104.6,799.5 106.5,798.5 108.4,797.3 110.3,796.1 112.3,794.7 114.2,793.2 116.1,791.7 118.0,790.0 119.9,788.3 121.8,786.6 123.7,784.8 125.6,783.1 127.6,781.4 129.5,779.7 131.4,778.2 133.3,776.7 135.2,775.3 137.1,774.1 139.0,773.0 141.0,771.9 142.9,771.0 144.8,770.2 146.7,769.5 148.6,768.9 150.5,768.3 152.4,767.9 154.3,767.5 156.3,767.1 158.2,766.8 160.1,766.6 162.0,766.4 163.9,766.2 165.8,766.0 167.7,765.9 169.7,765.8 171.6,765.7 173.5,765.6 175.4,765.5 177.3,765.5 179.2,765.4 181.1,765.4 183.0,765.3 185.0,765.3 186.9,765.3 188.8,765.3 190.7,765.2 192.6,765.2 194.5,765.2 196.4,765.2 198.3,765.2 200.3,765.2 202.2,765.2 204.1,765.2 206.0,765.2 207.9,765.2 209.8,765.2 211.7,765.2 213.7,765.2 215.6,765.2 217.5,765.2 219.4,765.2 221.3,765.2 223.2,765.2 225.1,765.2 227.0,765.2 229.0,765.2 230.9,765.1 232.8,765.1 234.7,765.1" class="ln" stroke="#ff2a92"/>
<g fill="#ff2a92"><circle cx="83.6" cy="805.5" r="3.1"/><circle cx="109.6" cy="795.9" r="3.1"/><circle cx="134.6" cy="776.8" r="3.1"/><circle cx="159.6" cy="765.0" r="3.1"/><circle cx="184.7" cy="759.0" r="3.1"/><circle cx="209.7" cy="768.1" r="3.1"/><circle cx="234.7" cy="769.5" r="3.1"/></g>
<polyline points="83.6,797.4 85.5,796.6 87.4,795.7 89.3,794.7 91.2,793.6 93.1,792.4 95.0,791.1 97.0,789.7 98.9,788.2 100.8,786.5 102.7,784.8 104.6,782.9 106.5,781.0 108.4,779.0 110.3,777.0 112.3,774.9 114.2,772.8 116.1,770.7 118.0,768.6 119.9,766.5 121.8,764.5 123.7,762.6 125.6,760.8 127.6,759.0 129.5,757.4 131.4,755.8 133.3,754.4 135.2,753.0 137.1,751.8 139.0,750.7 141.0,749.7 142.9,748.8 144.8,747.9 146.7,747.2 148.6,746.5 150.5,745.9 152.4,745.4 154.3,744.9 156.3,744.5 158.2,744.1 160.1,743.8 162.0,743.5 163.9,743.3 165.8,743.1 167.7,742.9 169.7,742.7 171.6,742.5 173.5,742.4 175.4,742.3 177.3,742.2 179.2,742.1 181.1,742.0 183.0,741.9 185.0,741.9 186.9,741.8 188.8,741.8 190.7,741.7 192.6,741.7 194.5,741.7 196.4,741.7 198.3,741.6 200.3,741.6 202.2,741.6 204.1,741.6 206.0,741.6 207.9,741.5 209.8,741.5 211.7,741.5 213.7,741.5 215.6,741.5 217.5,741.5 219.4,741.5 221.3,741.5 223.2,741.5 225.1,741.5 227.0,741.5 229.0,741.5 230.9,741.5 232.8,741.5 234.7,741.5" class="ln" stroke="#7b73c2"/>
<g fill="#7b73c2"><circle cx="83.6" cy="797.7" r="3.1"/><circle cx="109.6" cy="777.1" r="3.1"/><circle cx="134.6" cy="755.0" r="3.1"/><circle cx="159.6" cy="741.7" r="3.1"/><circle cx="184.7" cy="738.5" r="3.1"/><circle cx="209.7" cy="742.3" r="3.1"/><circle cx="234.7" cy="745.1" r="3.1"/></g>
<polyline points="83.6,797.9 85.5,797.3 87.4,796.6 89.3,795.7 91.2,794.8 93.1,793.8 95.0,792.6 97.0,791.3 98.9,789.9 100.8,788.3 102.7,786.6 104.6,784.7 106.5,782.7 108.4,780.5 110.3,778.1 112.3,775.6 114.2,773.0 116.1,770.3 118.0,767.6 119.9,764.8 121.8,761.9 123.7,759.1 125.6,756.3 127.6,753.6 129.5,751.0 131.4,748.5 133.3,746.1 135.2,743.8 137.1,741.7 139.0,739.8 141.0,738.0 142.9,736.4 144.8,734.9 146.7,733.6 148.6,732.4 150.5,731.3 152.4,730.3 154.3,729.5 156.3,728.7 158.2,728.1 160.1,727.5 162.0,727.0 163.9,726.5 165.8,726.1 167.7,725.8 169.7,725.5 171.6,725.2 173.5,725.0 175.4,724.8 177.3,724.6 179.2,724.5 181.1,724.3 183.0,724.2 185.0,724.1 186.9,724.0 188.8,723.9 190.7,723.9 192.6,723.8 194.5,723.8 196.4,723.7 198.3,723.7 200.3,723.7 202.2,723.6 204.1,723.6 206.0,723.6 207.9,723.6 209.8,723.6 211.7,723.5 213.7,723.5 215.6,723.5 217.5,723.5 219.4,723.5 221.3,723.5 223.2,723.5 225.1,723.5 227.0,723.5 229.0,723.5 230.9,723.5 232.8,723.5 234.7,723.5" class="ln" stroke="#ff6a10"/>
<g fill="#ff6a10"><circle cx="83.6" cy="798.5" r="3.1"/><circle cx="109.6" cy="777.7" r="3.1"/><circle cx="134.6" cy="746.9" r="3.1"/><circle cx="159.6" cy="724.3" r="3.1"/><circle cx="184.7" cy="720.3" r="3.1"/><circle cx="209.7" cy="723.7" r="3.1"/><circle cx="234.7" cy="729.0" r="3.1"/></g>
<polyline points="83.6,809.9 85.5,809.9 87.4,809.8 89.3,809.8 91.2,809.8 93.1,809.8 95.0,809.7 97.0,809.7 98.9,809.6 100.8,809.5 102.7,809.4 104.6,809.3 106.5,809.1 108.4,809.0 110.3,808.8 112.3,808.5 114.2,808.2 116.1,807.9 118.0,807.5 119.9,807.1 121.8,806.7 123.7,806.2 125.6,805.7 127.6,805.2 129.5,804.7 131.4,804.2 133.3,803.7 135.2,803.2 137.1,802.8 139.0,802.4 141.0,802.1 142.9,801.8 144.8,801.6 146.7,801.4 148.6,801.2 150.5,801.1 152.4,801.0 154.3,800.9 156.3,800.8 158.2,800.7 160.1,800.7 162.0,800.6 163.9,800.6 165.8,800.6 167.7,800.5 169.7,800.5 171.6,800.5 173.5,800.5 175.4,800.5 177.3,800.5 179.2,800.5 181.1,800.5 183.0,800.5 185.0,800.4 186.9,800.4 188.8,800.4 190.7,800.4 192.6,800.4 194.5,800.4 196.4,800.4 198.3,800.4 200.3,800.4 202.2,800.4 204.1,800.4 206.0,800.4 207.9,800.4 209.8,800.4 211.7,800.4 213.7,800.4 215.6,800.4 217.5,800.4 219.4,800.4 221.3,800.4 223.2,800.4 225.1,800.4 227.0,800.4 229.0,800.4 230.9,800.4 232.8,800.4 234.7,800.4" class="ln" stroke="#16a07c"/>
<g fill="#16a07c"><circle cx="83.6" cy="810.2" r="3.1"/><circle cx="109.6" cy="808.4" r="3.1"/><circle cx="134.6" cy="803.7" r="3.1"/><circle cx="159.6" cy="799.0" r="3.1"/><circle cx="184.7" cy="800.8" r="3.1"/><circle cx="209.7" cy="800.8" r="3.1"/><circle cx="234.7" cy="801.1" r="3.1"/></g>
<text x="443.3" y="652.0" class="tt">2G12</text>
<path d="M335.9 670.3V812.5H550.7" class="ax"/>
<path d="M332.3 812.5H335.9M332.3 765.1H335.9M332.3 717.7H335.9M332.3 670.3H335.9M335.9 812.5v3.6M346.7 812.5v2.2M353.0 812.5v2.2M357.5 812.5v2.2M360.9 812.5v2.2M363.8 812.5v2.2M366.2 812.5v2.2M368.2 812.5v2.2M370.1 812.5v2.2M371.7 812.5v3.6M382.5 812.5v2.2M388.8 812.5v2.2M393.3 812.5v2.2M396.7 812.5v2.2M399.6 812.5v2.2M402.0 812.5v2.2M404.0 812.5v2.2M405.9 812.5v2.2M407.5 812.5v3.6M418.3 812.5v2.2M424.6 812.5v2.2M429.1 812.5v2.2M432.5 812.5v2.2M435.4 812.5v2.2M437.8 812.5v2.2M439.8 812.5v2.2M441.7 812.5v2.2M443.3 812.5v3.6M454.1 812.5v2.2M460.4 812.5v2.2M464.9 812.5v2.2M468.3 812.5v2.2M471.2 812.5v2.2M473.6 812.5v2.2M475.6 812.5v2.2M477.5 812.5v2.2M479.1 812.5v3.6M489.9 812.5v2.2M496.2 812.5v2.2M500.7 812.5v2.2M504.1 812.5v2.2M507.0 812.5v2.2M509.4 812.5v2.2M511.4 812.5v2.2M513.3 812.5v2.2M514.9 812.5v3.6M525.7 812.5v2.2M532.0 812.5v2.2M536.5 812.5v2.2M539.9 812.5v2.2M542.8 812.5v2.2M545.2 812.5v2.2M547.2 812.5v2.2M549.1 812.5v2.2M550.7 812.5v3.6" class="tk"/>
<text x="330.7" y="816.4" class="yl">0.0</text>
<text x="330.7" y="769.0" class="yl">0.5</text>
<text x="330.7" y="721.6" class="yl">1.0</text>
<text x="330.7" y="674.2" class="yl">1.5</text>
<text x="335.9" y="828.7" class="xl">0.001</text>
<text x="371.7" y="828.7" class="xl">0.01</text>
<text x="407.5" y="828.7" class="xl">0.1</text>
<text x="443.3" y="828.7" class="xl">1</text>
<text x="479.1" y="828.7" class="xl">10</text>
<text x="514.9" y="828.7" class="xl">100</text>
<text x="550.7" y="828.7" class="xl">1000</text>
<text x="443.3" y="847.0" class="cn">c / nM</text>
<polyline points="363.8,791.6 365.7,791.2 367.6,790.9 369.5,790.5 371.4,790.0 373.3,789.5 375.2,788.9 377.2,788.3 379.1,787.6 381.0,786.8 382.9,785.9 384.8,784.9 386.7,783.8 388.6,782.6 390.5,781.3 392.5,779.9 394.4,778.3 396.3,776.6 398.2,774.8 400.1,772.9 402.0,770.8 403.9,768.7 405.8,766.4 407.8,764.1 409.7,761.6 411.6,759.2 413.5,756.7 415.4,754.1 417.3,751.6 419.2,749.2 421.2,746.7 423.1,744.4 425.0,742.1 426.9,739.9 428.8,737.8 430.7,735.9 432.6,734.0 434.5,732.3 436.5,730.8 438.4,729.3 440.3,728.0 442.2,726.7 444.1,725.6 446.0,724.6 447.9,723.7 449.9,722.9 451.8,722.2 453.7,721.5 455.6,720.9 457.5,720.4 459.4,719.9 461.3,719.5 463.2,719.1 465.2,718.8 467.1,718.5 469.0,718.3 470.9,718.1 472.8,717.9 474.7,717.7 476.6,717.5 478.5,717.4 480.5,717.3 482.4,717.2 484.3,717.1 486.2,717.0 488.1,716.9 490.0,716.9 491.9,716.8 493.9,716.7 495.8,716.7 497.7,716.7 499.6,716.6 501.5,716.6 503.4,716.6 505.3,716.6 507.2,716.5 509.2,716.5 511.1,716.5 513.0,716.5 514.9,716.5" class="ln" stroke="#2ca51f"/>
<g fill="#2ca51f"><circle cx="363.8" cy="791.6" r="3.1"/><circle cx="389.8" cy="782.0" r="3.1"/><circle cx="414.8" cy="754.2" r="3.1"/><circle cx="439.8" cy="730.7" r="3.1"/><circle cx="464.9" cy="714.2" r="3.1"/><circle cx="489.9" cy="715.9" r="3.1"/><circle cx="514.9" cy="720.3" r="3.1"/></g>
<polyline points="363.8,792.4 365.7,792.1 367.6,791.9 369.5,791.6 371.4,791.2 373.3,790.8 375.2,790.3 377.2,789.8 379.1,789.2 381.0,788.5 382.9,787.8 384.8,786.9 386.7,785.9 388.6,784.8 390.5,783.6 392.5,782.2 394.4,780.7 396.3,779.1 398.2,777.3 400.1,775.3 402.0,773.2 403.9,771.0 405.8,768.6 407.8,766.2 409.7,763.6 411.6,761.0 413.5,758.3 415.4,755.6 417.3,753.0 419.2,750.3 421.2,747.8 423.1,745.3 425.0,743.0 426.9,740.7 428.8,738.7 430.7,736.7 432.6,734.9 434.5,733.3 436.5,731.8 438.4,730.4 440.3,729.2 442.2,728.1 444.1,727.2 446.0,726.3 447.9,725.5 449.9,724.9 451.8,724.3 453.7,723.8 455.6,723.3 457.5,722.9 459.4,722.5 461.3,722.2 463.2,722.0 465.2,721.7 467.1,721.5 469.0,721.4 470.9,721.2 472.8,721.1 474.7,721.0 476.6,720.9 478.5,720.8 480.5,720.7 482.4,720.6 484.3,720.6 486.2,720.5 488.1,720.5 490.0,720.5 491.9,720.4 493.9,720.4 495.8,720.4 497.7,720.4 499.6,720.3 501.5,720.3 503.4,720.3 505.3,720.3 507.2,720.3 509.2,720.3 511.1,720.3 513.0,720.3 514.9,720.3" class="ln" stroke="#ff2a92"/>
<g fill="#ff2a92"><circle cx="363.8" cy="792.1" r="3.1"/><circle cx="389.8" cy="784.6" r="3.1"/><circle cx="414.8" cy="755.9" r="3.1"/><circle cx="439.8" cy="730.7" r="3.1"/><circle cx="464.9" cy="719.4" r="3.1"/><circle cx="489.9" cy="722.0" r="3.1"/><circle cx="514.9" cy="720.3" r="3.1"/></g>
<polyline points="363.8,795.2 365.7,795.0 367.6,794.7 369.5,794.4 371.4,794.1 373.3,793.7 375.2,793.3 377.2,792.8 379.1,792.2 381.0,791.5 382.9,790.8 384.8,790.0 386.7,789.1 388.6,788.1 390.5,786.9 392.5,785.6 394.4,784.2 396.3,782.7 398.2,781.0 400.1,779.2 402.0,777.2 403.9,775.0 405.8,772.8 407.8,770.4 409.7,767.9 411.6,765.4 413.5,762.7 415.4,760.0 417.3,757.3 419.2,754.7 421.2,752.0 423.1,749.4 425.0,746.9 426.9,744.5 428.8,742.2 430.7,740.1 432.6,738.1 434.5,736.2 436.5,734.5 438.4,732.9 440.3,731.5 442.2,730.2 444.1,729.0 446.0,728.0 447.9,727.0 449.9,726.2 451.8,725.5 453.7,724.8 455.6,724.2 457.5,723.7 459.4,723.2 461.3,722.9 463.2,722.5 465.2,722.2 467.1,721.9 469.0,721.7 470.9,721.5 472.8,721.3 474.7,721.2 476.6,721.0 478.5,720.9 480.5,720.8 482.4,720.7 484.3,720.6 486.2,720.6 488.1,720.5 490.0,720.5 491.9,720.4 493.9,720.4 495.8,720.3 497.7,720.3 499.6,720.3 501.5,720.3 503.4,720.2 505.3,720.2 507.2,720.2 509.2,720.2 511.1,720.2 513.0,720.2 514.9,720.2" class="ln" stroke="#7b73c2"/>
<g fill="#7b73c2"><circle cx="363.8" cy="794.5" r="3.1"/><circle cx="389.8" cy="788.6" r="3.1"/><circle cx="414.8" cy="759.7" r="3.1"/><circle cx="439.8" cy="733.7" r="3.1"/><circle cx="464.9" cy="719.4" r="3.1"/><circle cx="489.9" cy="722.0" r="3.1"/><circle cx="514.9" cy="720.3" r="3.1"/></g>
<polyline points="363.8,794.7 365.7,794.6 367.6,794.4 369.5,794.2 371.4,794.0 373.3,793.7 375.2,793.4 377.2,793.1 379.1,792.7 381.0,792.2 382.9,791.7 384.8,791.0 386.7,790.3 388.6,789.4 390.5,788.5 392.5,787.4 394.4,786.1 396.3,784.7 398.2,783.2 400.1,781.4 402.0,779.5 403.9,777.4 405.8,775.1 407.8,772.6 409.7,770.0 411.6,767.3 413.5,764.5 415.4,761.6 417.3,758.6 419.2,755.7 421.2,752.8 423.1,750.0 425.0,747.3 426.9,744.8 428.8,742.4 430.7,740.2 432.6,738.1 434.5,736.3 436.5,734.6 438.4,733.1 440.3,731.7 442.2,730.5 444.1,729.5 446.0,728.6 447.9,727.8 449.9,727.1 451.8,726.5 453.7,725.9 455.6,725.5 457.5,725.1 459.4,724.8 461.3,724.5 463.2,724.2 465.2,724.0 467.1,723.8 469.0,723.7 470.9,723.6 472.8,723.4 474.7,723.3 476.6,723.3 478.5,723.2 480.5,723.1 482.4,723.1 484.3,723.0 486.2,723.0 488.1,723.0 490.0,722.9 491.9,722.9 493.9,722.9 495.8,722.9 497.7,722.9 499.6,722.9 501.5,722.8 503.4,722.8 505.3,722.8 507.2,722.8 509.2,722.8 511.1,722.8 513.0,722.8 514.9,722.8" class="ln" stroke="#ff6a10"/>
<g fill="#ff6a10"><circle cx="363.8" cy="796.8" r="3.1"/><circle cx="389.8" cy="785.8" r="3.1"/><circle cx="414.8" cy="764.3" r="3.1"/><circle cx="439.8" cy="730.2" r="3.1"/><circle cx="464.9" cy="723.7" r="3.1"/><circle cx="489.9" cy="724.3" r="3.1"/><circle cx="514.9" cy="722.9" r="3.1"/></g>
<polyline points="363.8,805.7 365.7,805.6 367.6,805.6 369.5,805.6 371.4,805.5 373.3,805.5 375.2,805.4 377.2,805.4 379.1,805.3 381.0,805.2 382.9,805.1 384.8,805.0 386.7,804.8 388.6,804.7 390.5,804.5 392.5,804.3 394.4,804.0 396.3,803.7 398.2,803.4 400.1,803.0 402.0,802.5 403.9,802.0 405.8,801.4 407.8,800.7 409.7,799.9 411.6,799.0 413.5,797.9 415.4,796.7 417.3,795.4 419.2,793.9 421.2,792.2 423.1,790.3 425.0,788.3 426.9,786.0 428.8,783.6 430.7,781.0 432.6,778.2 434.5,775.4 436.5,772.4 438.4,769.3 440.3,766.2 442.2,763.1 444.1,760.0 446.0,757.0 447.9,754.2 449.9,751.4 451.8,748.8 453.7,746.4 455.6,744.2 457.5,742.2 459.4,740.3 461.3,738.6 463.2,737.2 465.2,735.8 467.1,734.6 469.0,733.6 470.9,732.7 472.8,731.9 474.7,731.2 476.6,730.6 478.5,730.1 480.5,729.6 482.4,729.2 484.3,728.9 486.2,728.6 488.1,728.4 490.0,728.1 491.9,728.0 493.9,727.8 495.8,727.7 497.7,727.5 499.6,727.4 501.5,727.4 503.4,727.3 505.3,727.2 507.2,727.2 509.2,727.1 511.1,727.1 513.0,727.1 514.9,727.0" class="ln" stroke="#16a07c"/>
<g fill="#16a07c"><circle cx="363.8" cy="806.3" r="3.1"/><circle cx="389.8" cy="805.5" r="3.1"/><circle cx="414.8" cy="794.5" r="3.1"/><circle cx="439.8" cy="769.0" r="3.1"/><circle cx="464.9" cy="733.0" r="3.1"/><circle cx="489.9" cy="731.2" r="3.1"/><circle cx="514.9" cy="726.0" r="3.1"/></g>
<text x="722.4" y="652.0" class="tt">CD4-Ig</text>
<path d="M615.0 670.3V812.5H829.8" class="ax"/>
<path d="M611.4 812.5H615.0M611.4 765.1H615.0M611.4 717.7H615.0M611.4 670.3H615.0M615.0 812.5v3.6M625.8 812.5v2.2M632.1 812.5v2.2M636.6 812.5v2.2M640.0 812.5v2.2M642.9 812.5v2.2M645.3 812.5v2.2M647.3 812.5v2.2M649.2 812.5v2.2M650.8 812.5v3.6M661.6 812.5v2.2M667.9 812.5v2.2M672.4 812.5v2.2M675.8 812.5v2.2M678.7 812.5v2.2M681.1 812.5v2.2M683.1 812.5v2.2M685.0 812.5v2.2M686.6 812.5v3.6M697.4 812.5v2.2M703.7 812.5v2.2M708.2 812.5v2.2M711.6 812.5v2.2M714.5 812.5v2.2M716.9 812.5v2.2M718.9 812.5v2.2M720.8 812.5v2.2M722.4 812.5v3.6M733.2 812.5v2.2M739.5 812.5v2.2M744.0 812.5v2.2M747.4 812.5v2.2M750.3 812.5v2.2M752.7 812.5v2.2M754.7 812.5v2.2M756.6 812.5v2.2M758.2 812.5v3.6M769.0 812.5v2.2M775.3 812.5v2.2M779.8 812.5v2.2M783.2 812.5v2.2M786.1 812.5v2.2M788.5 812.5v2.2M790.5 812.5v2.2M792.4 812.5v2.2M794.0 812.5v3.6M804.8 812.5v2.2M811.1 812.5v2.2M815.6 812.5v2.2M819.0 812.5v2.2M821.9 812.5v2.2M824.3 812.5v2.2M826.3 812.5v2.2M828.2 812.5v2.2M829.8 812.5v3.6" class="tk"/>
<text x="609.8" y="816.4" class="yl">0.0</text>
<text x="609.8" y="769.0" class="yl">0.5</text>
<text x="609.8" y="721.6" class="yl">1.0</text>
<text x="609.8" y="674.2" class="yl">1.5</text>
<text x="615.0" y="828.7" class="xl">0.001</text>
<text x="650.8" y="828.7" class="xl">0.01</text>
<text x="686.6" y="828.7" class="xl">0.1</text>
<text x="722.4" y="828.7" class="xl">1</text>
<text x="758.2" y="828.7" class="xl">10</text>
<text x="794.0" y="828.7" class="xl">100</text>
<text x="829.8" y="828.7" class="xl">1000</text>
<text x="722.4" y="847.0" class="cn">c / nM</text>
<polyline points="642.9,804.3 644.8,803.7 646.7,803.0 648.6,802.3 650.5,801.5 652.4,800.6 654.3,799.7 656.3,798.6 658.2,797.5 660.1,796.3 662.0,795.0 663.9,793.6 665.8,792.1 667.7,790.5 669.6,788.8 671.6,786.9 673.5,785.0 675.4,782.9 677.3,780.8 679.2,778.5 681.1,776.2 683.0,773.7 684.9,771.2 686.9,768.6 688.8,766.0 690.7,763.3 692.6,760.5 694.5,757.8 696.4,755.0 698.3,752.3 700.3,749.6 702.2,746.9 704.1,744.3 706.0,741.7 707.9,739.2 709.8,736.8 711.7,734.5 713.6,732.3 715.6,730.2 717.5,728.2 719.4,726.3 721.3,724.5 723.2,722.9 725.1,721.3 727.0,719.9 729.0,718.5 730.9,717.2 732.8,716.1 734.7,715.0 736.6,714.0 738.5,713.1 740.4,712.3 742.3,711.5 744.3,710.8 746.2,710.2 748.1,709.6 750.0,709.1 751.9,708.6 753.8,708.1 755.7,707.7 757.6,707.4 759.6,707.0 761.5,706.7 763.4,706.5 765.3,706.2 767.2,706.0 769.1,705.8 771.0,705.6 773.0,705.4 774.9,705.3 776.8,705.2 778.7,705.0 780.6,704.9 782.5,704.8 784.4,704.7 786.3,704.7 788.3,704.6 790.2,704.5 792.1,704.5 794.0,704.4" class="ln" stroke="#2ca51f"/>
<g fill="#2ca51f"><circle cx="642.9" cy="803.7" r="3.1"/><circle cx="668.9" cy="790.3" r="3.1"/><circle cx="693.9" cy="758.5" r="3.1"/><circle cx="718.9" cy="725.0" r="3.1"/><circle cx="744.0" cy="715.6" r="3.1"/><circle cx="769.0" cy="702.0" r="3.1"/><circle cx="794.0" cy="705.1" r="3.1"/></g>
<polyline points="642.9,800.6 644.8,800.1 646.7,799.6 648.6,799.0 650.5,798.3 652.4,797.6 654.3,796.8 656.3,795.9 658.2,794.9 660.1,793.7 662.0,792.5 663.9,791.1 665.8,789.6 667.7,788.0 669.6,786.2 671.6,784.2 673.5,782.1 675.4,779.9 677.3,777.4 679.2,774.9 681.1,772.2 683.0,769.3 684.9,766.3 686.9,763.2 688.8,760.1 690.7,756.9 692.6,753.6 694.5,750.3 696.4,747.0 698.3,743.8 700.3,740.6 702.2,737.5 704.1,734.6 706.0,731.7 707.9,729.0 709.8,726.4 711.7,723.9 713.6,721.7 715.6,719.5 717.5,717.6 719.4,715.8 721.3,714.1 723.2,712.6 725.1,711.2 727.0,710.0 729.0,708.8 730.9,707.8 732.8,706.9 734.7,706.1 736.6,705.3 738.5,704.7 740.4,704.1 742.3,703.5 744.3,703.1 746.2,702.6 748.1,702.3 750.0,701.9 751.9,701.6 753.8,701.4 755.7,701.2 757.6,700.9 759.6,700.8 761.5,700.6 763.4,700.5 765.3,700.3 767.2,700.2 769.1,700.1 771.0,700.0 773.0,700.0 774.9,699.9 776.8,699.8 778.7,699.8 780.6,699.7 782.5,699.7 784.4,699.7 786.3,699.6 788.3,699.6 790.2,699.6 792.1,699.6 794.0,699.5" class="ln" stroke="#ff2a92"/>
<g fill="#ff2a92"><circle cx="642.9" cy="801.1" r="3.1"/><circle cx="668.9" cy="785.8" r="3.1"/><circle cx="693.9" cy="752.4" r="3.1"/><circle cx="718.9" cy="715.0" r="3.1"/><circle cx="744.0" cy="702.9" r="3.1"/><circle cx="769.0" cy="703.7" r="3.1"/><circle cx="794.0" cy="696.8" r="3.1"/></g>
<polyline points="642.9,800.3 644.8,799.7 646.7,799.1 648.6,798.3 650.5,797.5 652.4,796.6 654.3,795.6 656.3,794.5 658.2,793.3 660.1,792.0 662.0,790.6 663.9,789.1 665.8,787.5 667.7,785.7 669.6,783.8 671.6,781.7 673.5,779.5 675.4,777.2 677.3,774.8 679.2,772.2 681.1,769.5 683.0,766.8 684.9,763.9 686.9,760.9 688.8,757.9 690.7,754.8 692.6,751.7 694.5,748.6 696.4,745.5 698.3,742.4 700.3,739.4 702.2,736.5 704.1,733.6 706.0,730.8 707.9,728.1 709.8,725.6 711.7,723.1 713.6,720.8 715.6,718.7 717.5,716.6 719.4,714.7 721.3,713.0 723.2,711.3 725.1,709.8 727.0,708.4 729.0,707.1 730.9,705.9 732.8,704.8 734.7,703.9 736.6,703.0 738.5,702.2 740.4,701.4 742.3,700.7 744.3,700.1 746.2,699.6 748.1,699.1 750.0,698.6 751.9,698.2 753.8,697.9 755.7,697.6 757.6,697.3 759.6,697.0 761.5,696.8 763.4,696.6 765.3,696.4 767.2,696.2 769.1,696.0 771.0,695.9 773.0,695.8 774.9,695.7 776.8,695.6 778.7,695.5 780.6,695.4 782.5,695.3 784.4,695.3 786.3,695.2 788.3,695.2 790.2,695.1 792.1,695.1 794.0,695.0" class="ln" stroke="#7b73c2"/>
<g fill="#7b73c2"><circle cx="642.9" cy="800.3" r="3.1"/><circle cx="668.9" cy="784.6" r="3.1"/><circle cx="693.9" cy="749.8" r="3.1"/><circle cx="718.9" cy="714.2" r="3.1"/><circle cx="744.0" cy="702.3" r="3.1"/><circle cx="769.0" cy="694.7" r="3.1"/><circle cx="794.0" cy="695.0" r="3.1"/></g>
<polyline points="642.9,800.8 644.8,800.2 646.7,799.5 648.6,798.8 650.5,798.0 652.4,797.1 654.3,796.2 656.3,795.1 658.2,794.0 660.1,792.8 662.0,791.4 663.9,790.0 665.8,788.4 667.7,786.7 669.6,784.9 671.6,782.9 673.5,780.8 675.4,778.6 677.3,776.3 679.2,773.9 681.1,771.3 683.0,768.6 684.9,765.9 686.9,763.0 688.8,760.1 690.7,757.2 692.6,754.2 694.5,751.2 696.4,748.1 698.3,745.2 700.3,742.2 702.2,739.3 704.1,736.4 706.0,733.7 707.9,731.0 709.8,728.5 711.7,726.0 713.6,723.7 715.6,721.5 717.5,719.4 719.4,717.5 721.3,715.7 723.2,714.0 725.1,712.4 727.0,711.0 729.0,709.6 730.9,708.4 732.8,707.2 734.7,706.2 736.6,705.3 738.5,704.4 740.4,703.6 742.3,702.9 744.3,702.2 746.2,701.6 748.1,701.1 750.0,700.6 751.9,700.2 753.8,699.8 755.7,699.4 757.6,699.1 759.6,698.8 761.5,698.6 763.4,698.3 765.3,698.1 767.2,697.9 769.1,697.8 771.0,697.6 773.0,697.5 774.9,697.3 776.8,697.2 778.7,697.1 780.6,697.0 782.5,697.0 784.4,696.9 786.3,696.8 788.3,696.8 790.2,696.7 792.1,696.7 794.0,696.6" class="ln" stroke="#ff6a10"/>
<g fill="#ff6a10"><circle cx="642.9" cy="800.8" r="3.1"/><circle cx="668.9" cy="785.5" r="3.1"/><circle cx="693.9" cy="752.4" r="3.1"/><circle cx="718.9" cy="717.3" r="3.1"/><circle cx="744.0" cy="702.9" r="3.1"/><circle cx="769.0" cy="698.9" r="3.1"/><circle cx="794.0" cy="695.4" r="3.1"/></g>
<polyline points="642.9,804.1 644.8,803.9 646.7,803.6 648.6,803.2 650.5,802.8 652.4,802.4 654.3,801.9 656.3,801.3 658.2,800.7 660.1,799.9 662.0,799.1 663.9,798.2 665.8,797.1 667.7,795.9 669.6,794.6 671.6,793.2 673.5,791.6 675.4,789.8 677.3,787.8 679.2,785.7 681.1,783.3 683.0,780.8 684.9,778.1 686.9,775.2 688.8,772.2 690.7,769.0 692.6,765.7 694.5,762.3 696.4,758.8 698.3,755.3 700.3,751.7 702.2,748.3 704.1,744.8 706.0,741.5 707.9,738.3 709.8,735.2 711.7,732.2 713.6,729.5 715.6,726.9 717.5,724.5 719.4,722.3 721.3,720.3 723.2,718.4 725.1,716.8 727.0,715.3 729.0,713.9 730.9,712.7 732.8,711.6 734.7,710.6 736.6,709.8 738.5,709.0 740.4,708.4 742.3,707.8 744.3,707.2 746.2,706.8 748.1,706.4 750.0,706.0 751.9,705.7 753.8,705.4 755.7,705.2 757.6,705.0 759.6,704.8 761.5,704.6 763.4,704.5 765.3,704.4 767.2,704.3 769.1,704.2 771.0,704.1 773.0,704.0 774.9,704.0 776.8,703.9 778.7,703.9 780.6,703.8 782.5,703.8 784.4,703.7 786.3,703.7 788.3,703.7 790.2,703.7 792.1,703.7 794.0,703.6" class="ln" stroke="#16a07c"/>
<g fill="#16a07c"><circle cx="642.9" cy="805.0" r="3.1"/><circle cx="668.9" cy="793.8" r="3.1"/><circle cx="693.9" cy="764.3" r="3.1"/><circle cx="718.9" cy="722.0" r="3.1"/><circle cx="744.0" cy="708.1" r="3.1"/><circle cx="769.0" cy="702.3" r="3.1"/><circle cx="794.0" cy="705.1" r="3.1"/></g>
<text x="942.8" y="665.1" class="lg">ConC KIKO gp120</text>
<text x="942.8" y="700.1" class="lg">ConCv1 KIKO NFL gp140</text>
<text x="942.8" y="735.1" class="lg">ConCv2 KIKO gp140</text>
<text x="942.8" y="770.1" class="lg">ConCv4 KIKO gp140</text>
<text x="942.8" y="805.1" class="lg">ConCv5 KIKO gp140</text>
<g transform="translate(909.6 0)">
<path d="M0 648.4 C-3 652 -9.3 656 -9.3 661.6 A9.3 9.3 0 0 0 9.3 661.6 C9.3 656 3 652 0 648.4Z" fill="#16a07c" stroke="#1a3a30" stroke-width="0.6"/>
<ellipse cx="0" cy="661.4" rx="3.4" ry="6" fill="none" stroke="#0a5a40" stroke-width="0.7"/>
<ellipse cx="0" cy="661.4" rx="1.6" ry="4" fill="none" stroke="#0d3" stroke-opacity="0.5" stroke-width="0.6"/>
</g>
<g transform="translate(909.6 672.3)"><path d="M-9.6 0.3 C-12 3 -15.0 7 -15.0 12.5 C-15.0 18 -10 21.5 -5 21.5 L-3 4 Z" fill="#ff6a10" stroke="#1a1a1a" stroke-width="0.55"/><path d="M9.6 0.3 C12 3 15.0 7 15.0 12.5 C15.0 18 10 21.5 5 21.5 L3 4 Z" fill="#ff6a10" stroke="#1a1a1a" stroke-width="0.55"/><path d="M0 1 C-3.5 4 -9 8 -9 13.3 A9 9 0 0 0 9 13.3 C9 8 3.5 4 0 1Z" fill="#ff6a10" stroke="#1a1a1a" stroke-width="0.55"/><ellipse cx="0" cy="13.3" rx="3.3" ry="5.8" fill="none" stroke="#333" stroke-opacity="0.55" stroke-width="0.6"/><ellipse cx="0" cy="13.3" rx="1.5" ry="3.7" fill="none" stroke="#333" stroke-opacity="0.45" stroke-width="0.5"/><path d="M-4.5 21.5 v4.5 M0 22.3v5.5 M4 21.5v3.5" stroke="#222" stroke-width="0.7"/><rect x="1.7" y="25" width="5.3" height="12.4" fill="#ff6a10" stroke="#1a1a1a" stroke-width="0.55"/><rect x="-6.9" y="26" width="4.2" height="13.4" fill="#ff6a10" stroke="#1a1a1a" stroke-width="0.55"/><rect x="-2.9" y="28" width="5.6" height="13.4" fill="#ff6a10" stroke="#1a1a1a" stroke-width="0.55"/></g>
<g transform="translate(909.6 715.7)"><path d="M-9.6 0.3 C-12 3 -13.6 7 -13.6 12.5 C-13.6 18 -10 21.5 -5 21.5 L-3 4 Z" fill="#7b73c2" stroke="#1a1a1a" stroke-width="0.55"/><path d="M9.6 0.3 C12 3 13.6 7 13.6 12.5 C13.6 18 10 21.5 5 21.5 L3 4 Z" fill="#7b73c2" stroke="#1a1a1a" stroke-width="0.55"/><path d="M0 1 C-3.5 4 -9 8 -9 13.3 A9 9 0 0 0 9 13.3 C9 8 3.5 4 0 1Z" fill="#7b73c2" stroke="#1a1a1a" stroke-width="0.55"/><ellipse cx="0" cy="13.3" rx="3.3" ry="5.8" fill="none" stroke="#333" stroke-opacity="0.55" stroke-width="0.6"/><ellipse cx="0" cy="13.3" rx="1.5" ry="3.7" fill="none" stroke="#333" stroke-opacity="0.45" stroke-width="0.5"/><rect x="2.4" y="20.5" width="4.6" height="9.2" fill="#7b73c2" stroke="#1a1a1a" stroke-width="0.55"/><rect x="-6.9" y="20.5" width="4.2" height="11.5" fill="#7b73c2" stroke="#1a1a1a" stroke-width="0.55"/><rect x="-2.9" y="21" width="5.6" height="13" fill="#7b73c2" stroke="#1a1a1a" stroke-width="0.55"/></g>
<g transform="translate(909.6 751.0)"><path d="M-9.6 0.3 C-12 3 -13.6 7 -13.6 12.5 C-13.6 18 -10 21.5 -5 21.5 L-3 4 Z" fill="#ff2a92" stroke="#1a1a1a" stroke-width="0.55"/><path d="M9.6 0.3 C12 3 13.6 7 13.6 12.5 C13.6 18 10 21.5 5 21.5 L3 4 Z" fill="#ff2a92" stroke="#1a1a1a" stroke-width="0.55"/><path d="M0 1 C-3.5 4 -9 8 -9 13.3 A9 9 0 0 0 9 13.3 C9 8 3.5 4 0 1Z" fill="#ff2a92" stroke="#1a1a1a" stroke-width="0.55"/><ellipse cx="0" cy="13.3" rx="3.3" ry="5.8" fill="none" stroke="#333" stroke-opacity="0.55" stroke-width="0.6"/><ellipse cx="0" cy="13.3" rx="1.5" ry="3.7" fill="none" stroke="#333" stroke-opacity="0.45" stroke-width="0.5"/><rect x="2.4" y="20.5" width="4.6" height="9.2" fill="#ff2a92" stroke="#1a1a1a" stroke-width="0.55"/><rect x="-6.9" y="20.5" width="4.2" height="11.5" fill="#ff2a92" stroke="#1a1a1a" stroke-width="0.55"/><rect x="-2.9" y="21" width="5.6" height="13" fill="#ff2a92" stroke="#1a1a1a" stroke-width="0.55"/></g>
<g transform="translate(909.6 786.3)"><path d="M-9.6 0.3 C-12 3 -13.6 7 -13.6 12.5 C-13.6 18 -10 21.5 -5 21.5 L-3 4 Z" fill="#2ca51f" stroke="#1a1a1a" stroke-width="0.55"/><path d="M9.6 0.3 C12 3 13.6 7 13.6 12.5 C13.6 18 10 21.5 5 21.5 L3 4 Z" fill="#2ca51f" stroke="#1a1a1a" stroke-width="0.55"/><path d="M0 1 C-3.5 4 -9 8 -9 13.3 A9 9 0 0 0 9 13.3 C9 8 3.5 4 0 1Z" fill="#2ca51f" stroke="#1a1a1a" stroke-width="0.55"/><ellipse cx="0" cy="13.3" rx="3.3" ry="5.8" fill="none" stroke="#333" stroke-opacity="0.55" stroke-width="0.6"/><ellipse cx="0" cy="13.3" rx="1.5" ry="3.7" fill="none" stroke="#333" stroke-opacity="0.45" stroke-width="0.5"/><rect x="2.4" y="20.5" width="4.6" height="9.2" fill="#2ca51f" stroke="#1a1a1a" stroke-width="0.55"/><rect x="-6.9" y="20.5" width="4.2" height="11.5" fill="#2ca51f" stroke="#1a1a1a" stroke-width="0.55"/><rect x="-2.9" y="21" width="5.6" height="13" fill="#2ca51f" stroke="#1a1a1a" stroke-width="0.55"/></g>
<path d="M193.0 877.4H1139.8M8.8 901.1H1139.8M8.8 924.8H1139.8M8.8 948.8H1139.8M8.8 972.9H1139.8M8.8 997.2H1139.8M8.8 1021.2H1139.8M8.8 901.1V1021.2M193.0 877.4V1021.2M312.7 877.4V1021.2M420.0 877.4V1021.2M539.6 877.4V1021.2M660.0 877.4V1021.2M780.0 877.4V1021.2M900.2 877.4V1021.2M1020.0 877.4V1021.2M1139.8 877.4V1021.2" class="tb"/>
<text transform="translate(11.4 896.7) scale(0.93 1)" class="hb">mean EC50 ± SEM</text>
<text transform="translate(252.8 896.7) scale(0.93 1)" class="tc">PGT145</text>
<text transform="translate(366.4 896.7) scale(0.93 1)" class="tc">PGT151</text>
<text transform="translate(479.8 896.7) scale(0.93 1)" class="tc">PG9</text>
<text transform="translate(599.8 896.7) scale(0.93 1)" class="tc">PG16</text>
<text transform="translate(720.0 896.7) scale(0.93 1)" class="tc">10-1074</text>
<text transform="translate(840.1 896.7) scale(0.93 1)" class="tc">PGT121</text>
<text transform="translate(960.1 896.7) scale(0.93 1)" class="tc">VRC01</text>
<text transform="translate(1079.9 896.7) scale(0.93 1)" class="tc">F105</text>
<text transform="translate(10.7 920.2) scale(0.93 1)" class="tl">ConC KIKO gp120</text>
<text transform="translate(252.8 920.2) scale(1.0 1)" class="tc">n.b.d.</text>
<text transform="translate(366.4 920.2) scale(1.0 1)" class="tc">n.b.d.</text>
<text transform="translate(479.8 920.2) scale(1.0 1)" class="tc">w.b.</text>
<text transform="translate(599.8 920.2) scale(1.0 1)" class="tc">w.b.</text>
<text transform="translate(762.4 920.2) scale(0.99 1)" class="tr">0.12</text>
<text transform="translate(718.6 920.2) scale(0.93 1)" class="pm">±</text>
<text transform="translate(710.0 920.2) scale(0.99 1)" class="tr">1.21</text>
<text transform="translate(882.6 920.2) scale(0.99 1)" class="tr">0.11</text>
<text transform="translate(838.8 920.2) scale(0.93 1)" class="pm">±</text>
<text transform="translate(830.2 920.2) scale(0.99 1)" class="tr">0.97</text>
<text transform="translate(1002.4 920.2) scale(0.99 1)" class="tr">0.01</text>
<text transform="translate(958.6 920.2) scale(0.93 1)" class="pm">±</text>
<text transform="translate(950.0 920.2) scale(0.99 1)" class="tr">0.29</text>
<text transform="translate(1122.2 920.2) scale(0.99 1)" class="tr">0.57</text>
<text transform="translate(1078.4 920.2) scale(0.93 1)" class="pm">±</text>
<text transform="translate(1069.8 920.2) scale(0.99 1)" class="tr">1.38</text>
<text transform="translate(10.7 944.2) scale(0.93 1)" class="tl">ConCv1 KIKO NFL gp140</text>
<text transform="translate(252.8 944.2) scale(1.0 1)" class="tc">n.b.d.</text>
<text transform="translate(366.4 944.2) scale(1.0 1)" class="tc">n.b.d.</text>
<text transform="translate(522.0 944.2) scale(0.99 1)" class="tr">2.66</text>
<text transform="translate(478.2 944.2) scale(0.93 1)" class="pm">±</text>
<text transform="translate(469.6 944.2) scale(0.99 1)" class="tr">11.15</text>
<text transform="translate(642.4 944.2) scale(0.99 1)" class="tr">0.35</text>
<text transform="translate(598.6 944.2) scale(0.93 1)" class="pm">±</text>
<text transform="translate(590.0 944.2) scale(0.99 1)" class="tr">2.40</text>
<text transform="translate(762.4 944.2) scale(0.99 1)" class="tr">0.04</text>
<text transform="translate(718.6 944.2) scale(0.93 1)" class="pm">±</text>
<text transform="translate(710.0 944.2) scale(0.99 1)" class="tr">0.23</text>
<text transform="translate(882.6 944.2) scale(0.99 1)" class="tr">0.03</text>
<text transform="translate(838.8 944.2) scale(0.93 1)" class="pm">±</text>
<text transform="translate(830.2 944.2) scale(0.99 1)" class="tr">0.35</text>
<text transform="translate(1002.4 944.2) scale(0.99 1)" class="tr">0.03</text>
<text transform="translate(958.6 944.2) scale(0.93 1)" class="pm">±</text>
<text transform="translate(950.0 944.2) scale(0.99 1)" class="tr">0.13</text>
<text transform="translate(1122.2 944.2) scale(0.99 1)" class="tr">0.05</text>
<text transform="translate(1078.4 944.2) scale(0.93 1)" class="pm">±</text>
<text transform="translate(1069.8 944.2) scale(0.99 1)" class="tr">0.17</text>
<text transform="translate(10.7 968.3) scale(0.93 1)" class="tl">ConCv2 KIKO gp140</text>
<text transform="translate(295.1 968.3) scale(0.99 1)" class="tr">0.01</text>
<text transform="translate(251.3 968.3) scale(0.93 1)" class="pm">±</text>
<text transform="translate(242.7 968.3) scale(0.99 1)" class="tr">0.12</text>
<text transform="translate(402.4 968.3) scale(0.99 1)" class="tr">0.04</text>
<text transform="translate(358.6 968.3) scale(0.93 1)" class="pm">±</text>
<text transform="translate(350.0 968.3) scale(0.99 1)" class="tr">0.18</text>
<text transform="translate(522.0 968.3) scale(0.99 1)" class="tr">0.78</text>
<text transform="translate(478.2 968.3) scale(0.93 1)" class="pm">±</text>
<text transform="translate(469.6 968.3) scale(0.99 1)" class="tr">8.84</text>
<text transform="translate(642.4 968.3) scale(0.99 1)" class="tr">0.00</text>
<text transform="translate(598.6 968.3) scale(0.93 1)" class="pm">±</text>
<text transform="translate(590.0 968.3) scale(0.99 1)" class="tr">0.47</text>
<text transform="translate(762.4 968.3) scale(0.99 1)" class="tr">0.06</text>
<text transform="translate(718.6 968.3) scale(0.93 1)" class="pm">±</text>
<text transform="translate(710.0 968.3) scale(0.99 1)" class="tr">0.28</text>
<text transform="translate(882.6 968.3) scale(0.99 1)" class="tr">0.08</text>
<text transform="translate(838.8 968.3) scale(0.93 1)" class="pm">±</text>
<text transform="translate(830.2 968.3) scale(0.99 1)" class="tr">0.33</text>
<text transform="translate(1002.4 968.3) scale(0.99 1)" class="tr">0.04</text>
<text transform="translate(958.6 968.3) scale(0.93 1)" class="pm">±</text>
<text transform="translate(950.0 968.3) scale(0.99 1)" class="tr">0.09</text>
<text transform="translate(1122.2 968.3) scale(0.99 1)" class="tr">0.38</text>
<text transform="translate(1078.4 968.3) scale(0.93 1)" class="pm">±</text>
<text transform="translate(1069.8 968.3) scale(0.99 1)" class="tr">0.72</text>
<text transform="translate(10.7 992.6) scale(0.93 1)" class="tl">ConCv4 KIKO gp140</text>
<text transform="translate(295.1 992.6) scale(0.99 1)" class="tr">0.01</text>
<text transform="translate(251.3 992.6) scale(0.93 1)" class="pm">±</text>
<text transform="translate(242.7 992.6) scale(0.99 1)" class="tr">0.10</text>
<text transform="translate(402.4 992.6) scale(0.99 1)" class="tr">0.06</text>
<text transform="translate(358.6 992.6) scale(0.93 1)" class="pm">±</text>
<text transform="translate(350.0 992.6) scale(0.99 1)" class="tr">0.18</text>
<text transform="translate(522.0 992.6) scale(0.99 1)" class="tr">0.11</text>
<text transform="translate(478.2 992.6) scale(0.93 1)" class="pm">±</text>
<text transform="translate(469.6 992.6) scale(0.99 1)" class="tr">5.51</text>
<text transform="translate(642.4 992.6) scale(0.99 1)" class="tr">0.04</text>
<text transform="translate(598.6 992.6) scale(0.93 1)" class="pm">±</text>
<text transform="translate(590.0 992.6) scale(0.99 1)" class="tr">0.24</text>
<text transform="translate(762.4 992.6) scale(0.99 1)" class="tr">0.03</text>
<text transform="translate(718.6 992.6) scale(0.93 1)" class="pm">±</text>
<text transform="translate(710.0 992.6) scale(0.99 1)" class="tr">0.20</text>
<text transform="translate(882.6 992.6) scale(0.99 1)" class="tr">0.04</text>
<text transform="translate(838.8 992.6) scale(0.93 1)" class="pm">±</text>
<text transform="translate(830.2 992.6) scale(0.99 1)" class="tr">0.29</text>
<text transform="translate(1002.4 992.6) scale(0.99 1)" class="tr">0.04</text>
<text transform="translate(958.6 992.6) scale(0.93 1)" class="pm">±</text>
<text transform="translate(950.0 992.6) scale(0.99 1)" class="tr">0.12</text>
<text transform="translate(1122.2 992.6) scale(0.99 1)" class="tr">0.65</text>
<text transform="translate(1078.4 992.6) scale(0.93 1)" class="pm">±</text>
<text transform="translate(1069.8 992.6) scale(0.99 1)" class="tr">1.29</text>
<text transform="translate(10.7 1016.6) scale(0.93 1)" class="tl">ConCv5 KIKO gp140</text>
<text transform="translate(295.1 1016.6) scale(0.99 1)" class="tr">0.02</text>
<text transform="translate(251.3 1016.6) scale(0.93 1)" class="pm">±</text>
<text transform="translate(242.7 1016.6) scale(0.99 1)" class="tr">0.13</text>
<text transform="translate(402.4 1016.6) scale(0.99 1)" class="tr">0.05</text>
<text transform="translate(358.6 1016.6) scale(0.93 1)" class="pm">±</text>
<text transform="translate(350.0 1016.6) scale(0.99 1)" class="tr">0.17</text>
<text transform="translate(522.0 1016.6) scale(0.99 1)" class="tr">0.15</text>
<text transform="translate(478.2 1016.6) scale(0.93 1)" class="pm">±</text>
<text transform="translate(469.6 1016.6) scale(0.99 1)" class="tr">6.09</text>
<text transform="translate(642.4 1016.6) scale(0.99 1)" class="tr">0.04</text>
<text transform="translate(598.6 1016.6) scale(0.93 1)" class="pm">±</text>
<text transform="translate(590.0 1016.6) scale(0.99 1)" class="tr">0.23</text>
<text transform="translate(762.4 1016.6) scale(0.99 1)" class="tr">0.05</text>
<text transform="translate(718.6 1016.6) scale(0.93 1)" class="pm">±</text>
<text transform="translate(710.0 1016.6) scale(0.99 1)" class="tr">0.19</text>
<text transform="translate(882.6 1016.6) scale(0.99 1)" class="tr">0.09</text>
<text transform="translate(838.8 1016.6) scale(0.93 1)" class="pm">±</text>
<text transform="translate(830.2 1016.6) scale(0.99 1)" class="tr">0.31</text>
<text transform="translate(1002.4 1016.6) scale(0.99 1)" class="tr">0.02</text>
<text transform="translate(958.6 1016.6) scale(0.93 1)" class="pm">±</text>
<text transform="translate(950.0 1016.6) scale(0.99 1)" class="tr">0.08</text>
<text transform="translate(1122.2 1016.6) scale(0.99 1)" class="tr">1.86</text>
<text transform="translate(1078.4 1016.6) scale(0.93 1)" class="pm">±</text>
<text transform="translate(1069.8 1016.6) scale(0.99 1)" class="tr">5.46</text>
<path d="M193.0 1045.4H1020.2M8.8 1069.4H1020.2M8.8 1093.5H1020.2M8.8 1117.7H1020.2M8.8 1141.8H1020.2M8.8 1165.9H1020.2M8.8 1190.3H1020.2M8.8 1069.4V1190.3M193.0 1045.4V1190.3M312.7 1045.4V1190.3M420.0 1045.4V1190.3M539.6 1045.4V1190.3M660.0 1045.4V1190.3M780.0 1045.4V1190.3M900.2 1045.4V1190.3M1020.2 1045.4V1190.3" class="tb"/>
<text transform="translate(11.4 1065.0) scale(0.93 1)" class="hb">mean EC50 ± SEM</text>
<text transform="translate(252.8 1065.0) scale(0.93 1)" class="tc">447-52D</text>
<text transform="translate(366.4 1065.0) scale(0.93 1)" class="tc">14E</text>
<text transform="translate(479.8 1065.0) scale(0.93 1)" class="tc">19b</text>
<text transform="translate(599.8 1065.0) scale(0.93 1)" class="tc">17b</text>
<text transform="translate(720.0 1065.0) scale(0.93 1)" class="tc">5F3</text>
<text transform="translate(840.1 1065.0) scale(0.93 1)" class="tc">2G12</text>
<text transform="translate(960.2 1065.0) scale(0.93 1)" class="tc">CD4-Ig</text>
<text transform="translate(10.7 1088.9) scale(0.93 1)" class="tl">ConC KIKO gp120</text>
<text transform="translate(295.1 1088.9) scale(0.99 1)" class="tr">2.02</text>
<text transform="translate(251.3 1088.9) scale(0.93 1)" class="pm">±</text>
<text transform="translate(242.7 1088.9) scale(0.99 1)" class="tr">8.88</text>
<text transform="translate(402.4 1088.9) scale(0.99 1)" class="tr">0.20</text>
<text transform="translate(358.6 1088.9) scale(0.93 1)" class="pm">±</text>
<text transform="translate(350.0 1088.9) scale(0.99 1)" class="tr">0.47</text>
<text transform="translate(522.0 1088.9) scale(0.99 1)" class="tr">0.18</text>
<text transform="translate(478.2 1088.9) scale(0.93 1)" class="pm">±</text>
<text transform="translate(469.6 1088.9) scale(0.99 1)" class="tr">0.33</text>
<text transform="translate(642.4 1088.9) scale(0.99 1)" class="tr">0.45</text>
<text transform="translate(598.6 1088.9) scale(0.93 1)" class="pm">±</text>
<text transform="translate(590.0 1088.9) scale(0.99 1)" class="tr">2.18</text>
<text transform="translate(762.4 1088.9) scale(0.99 1)" class="tr">0.02</text>
<text transform="translate(718.6 1088.9) scale(0.93 1)" class="pm">±</text>
<text transform="translate(710.0 1088.9) scale(0.99 1)" class="tr">0.14</text>
<text transform="translate(882.6 1088.9) scale(0.99 1)" class="tr">0.06</text>
<text transform="translate(838.8 1088.9) scale(0.93 1)" class="pm">±</text>
<text transform="translate(830.2 1088.9) scale(0.99 1)" class="tr">0.89</text>
<text transform="translate(1002.6 1088.9) scale(0.99 1)" class="tr">0.03</text>
<text transform="translate(958.8 1088.9) scale(0.93 1)" class="pm">±</text>
<text transform="translate(950.2 1088.9) scale(0.99 1)" class="tr">0.17</text>
<text transform="translate(10.7 1113.1) scale(0.93 1)" class="tl">ConCv1 KIKO NFL gp140</text>
<text transform="translate(295.1 1113.1) scale(0.99 1)" class="tr">0.26</text>
<text transform="translate(251.3 1113.1) scale(0.93 1)" class="pm">±</text>
<text transform="translate(242.7 1113.1) scale(0.99 1)" class="tr">1.05</text>
<text transform="translate(402.4 1113.1) scale(0.99 1)" class="tr">0.07</text>
<text transform="translate(358.6 1113.1) scale(0.93 1)" class="pm">±</text>
<text transform="translate(350.0 1113.1) scale(0.99 1)" class="tr">0.18</text>
<text transform="translate(522.0 1113.1) scale(0.99 1)" class="tr">0.09</text>
<text transform="translate(478.2 1113.1) scale(0.93 1)" class="pm">±</text>
<text transform="translate(469.6 1113.1) scale(0.99 1)" class="tr">0.17</text>
<text transform="translate(642.4 1113.1) scale(0.99 1)" class="tr">0.06</text>
<text transform="translate(598.6 1113.1) scale(0.93 1)" class="pm">±</text>
<text transform="translate(590.0 1113.1) scale(0.99 1)" class="tr">0.18</text>
<text transform="translate(762.4 1113.1) scale(0.99 1)" class="tr">0.01</text>
<text transform="translate(718.6 1113.1) scale(0.93 1)" class="pm">±</text>
<text transform="translate(710.0 1113.1) scale(0.99 1)" class="tr">0.05</text>
<text transform="translate(882.6 1113.1) scale(0.99 1)" class="tr">0.01</text>
<text transform="translate(838.8 1113.1) scale(0.93 1)" class="pm">±</text>
<text transform="translate(830.2 1113.1) scale(0.99 1)" class="tr">0.19</text>
<text transform="translate(1002.6 1113.1) scale(0.99 1)" class="tr">0.03</text>
<text transform="translate(958.8 1113.1) scale(0.93 1)" class="pm">±</text>
<text transform="translate(950.2 1113.1) scale(0.99 1)" class="tr">0.12</text>
<text transform="translate(10.7 1137.2) scale(0.93 1)" class="tl">ConCv2 KIKO gp140</text>
<text transform="translate(295.1 1137.2) scale(0.99 1)" class="tr">1.13</text>
<text transform="translate(251.3 1137.2) scale(0.93 1)" class="pm">±</text>
<text transform="translate(242.7 1137.2) scale(0.99 1)" class="tr">4.90</text>
<text transform="translate(402.4 1137.2) scale(0.99 1)" class="tr">0.05</text>
<text transform="translate(358.6 1137.2) scale(0.93 1)" class="pm">±</text>
<text transform="translate(350.0 1137.2) scale(0.99 1)" class="tr">0.12</text>
<text transform="translate(522.0 1137.2) scale(0.99 1)" class="tr">0.07</text>
<text transform="translate(478.2 1137.2) scale(0.93 1)" class="pm">±</text>
<text transform="translate(469.6 1137.2) scale(0.99 1)" class="tr">0.15</text>
<text transform="translate(642.4 1137.2) scale(0.99 1)" class="tr">0.10</text>
<text transform="translate(598.6 1137.2) scale(0.93 1)" class="pm">±</text>
<text transform="translate(590.0 1137.2) scale(0.99 1)" class="tr">0.26</text>
<text transform="translate(762.4 1137.2) scale(0.99 1)" class="tr">0.02</text>
<text transform="translate(718.6 1137.2) scale(0.93 1)" class="pm">±</text>
<text transform="translate(710.0 1137.2) scale(0.99 1)" class="tr">0.07</text>
<text transform="translate(882.6 1137.2) scale(0.99 1)" class="tr">0.01</text>
<text transform="translate(838.8 1137.2) scale(0.93 1)" class="pm">±</text>
<text transform="translate(830.2 1137.2) scale(0.99 1)" class="tr">0.20</text>
<text transform="translate(1002.6 1137.2) scale(0.99 1)" class="tr">0.03</text>
<text transform="translate(958.8 1137.2) scale(0.93 1)" class="pm">±</text>
<text transform="translate(950.2 1137.2) scale(0.99 1)" class="tr">0.12</text>
<text transform="translate(10.7 1161.3) scale(0.93 1)" class="tl">ConCv4 KIKO gp140</text>
<text transform="translate(295.1 1161.3) scale(0.99 1)" class="tr">4.09</text>
<text transform="translate(251.3 1161.3) scale(0.93 1)" class="pm">±</text>
<text transform="translate(242.7 1161.3) scale(0.99 1)" class="tr">16.98</text>
<text transform="translate(402.4 1161.3) scale(0.99 1)" class="tr">0.12</text>
<text transform="translate(358.6 1161.3) scale(0.93 1)" class="pm">±</text>
<text transform="translate(350.0 1161.3) scale(0.99 1)" class="tr">0.24</text>
<text transform="translate(522.0 1161.3) scale(0.99 1)" class="tr">0.19</text>
<text transform="translate(478.2 1161.3) scale(0.93 1)" class="pm">±</text>
<text transform="translate(469.6 1161.3) scale(0.99 1)" class="tr">0.33</text>
<text transform="translate(642.4 1161.3) scale(0.99 1)" class="tr">0.33</text>
<text transform="translate(598.6 1161.3) scale(0.93 1)" class="pm">±</text>
<text transform="translate(590.0 1161.3) scale(0.99 1)" class="tr">2.03</text>
<text transform="translate(762.4 1161.3) scale(0.99 1)" class="tr">0.01</text>
<text transform="translate(718.6 1161.3) scale(0.93 1)" class="pm">±</text>
<text transform="translate(710.0 1161.3) scale(0.99 1)" class="tr">0.08</text>
<text transform="translate(882.6 1161.3) scale(0.99 1)" class="tr">0.00</text>
<text transform="translate(838.8 1161.3) scale(0.93 1)" class="pm">±</text>
<text transform="translate(830.2 1161.3) scale(0.99 1)" class="tr">0.15</text>
<text transform="translate(1002.6 1161.3) scale(0.99 1)" class="tr">0.22</text>
<text transform="translate(958.8 1161.3) scale(0.93 1)" class="pm">±</text>
<text transform="translate(950.2 1161.3) scale(0.99 1)" class="tr">0.46</text>
<text transform="translate(10.7 1185.7) scale(0.93 1)" class="tl">ConCv5 KIKO gp140</text>
<text transform="translate(252.8 1185.7) scale(1.0 1)" class="tc">n.b.d.</text>
<text transform="translate(402.4 1185.7) scale(0.99 1)" class="tr">0.32</text>
<text transform="translate(358.6 1185.7) scale(0.93 1)" class="pm">±</text>
<text transform="translate(350.0 1185.7) scale(0.99 1)" class="tr">0.70</text>
<text transform="translate(522.0 1185.7) scale(0.99 1)" class="tr">0.53</text>
<text transform="translate(478.2 1185.7) scale(0.93 1)" class="pm">±</text>
<text transform="translate(469.6 1185.7) scale(0.99 1)" class="tr">0.94</text>
<text transform="translate(599.8 1185.7) scale(1.0 1)" class="tc">n.b.d.</text>
<text transform="translate(762.4 1185.7) scale(0.99 1)" class="tr">0.03</text>
<text transform="translate(718.6 1185.7) scale(0.93 1)" class="pm">±</text>
<text transform="translate(710.0 1185.7) scale(0.99 1)" class="tr">0.23</text>
<text transform="translate(882.6 1185.7) scale(0.99 1)" class="tr">0.01</text>
<text transform="translate(838.8 1185.7) scale(0.93 1)" class="pm">±</text>
<text transform="translate(830.2 1185.7) scale(0.99 1)" class="tr">0.15</text>
<text transform="translate(1002.6 1185.7) scale(0.99 1)" class="tr">0.03</text>
<text transform="translate(958.8 1185.7) scale(0.93 1)" class="pm">±</text>
<text transform="translate(950.2 1185.7) scale(0.99 1)" class="tr">0.14</text>
</svg>
</body></html>
